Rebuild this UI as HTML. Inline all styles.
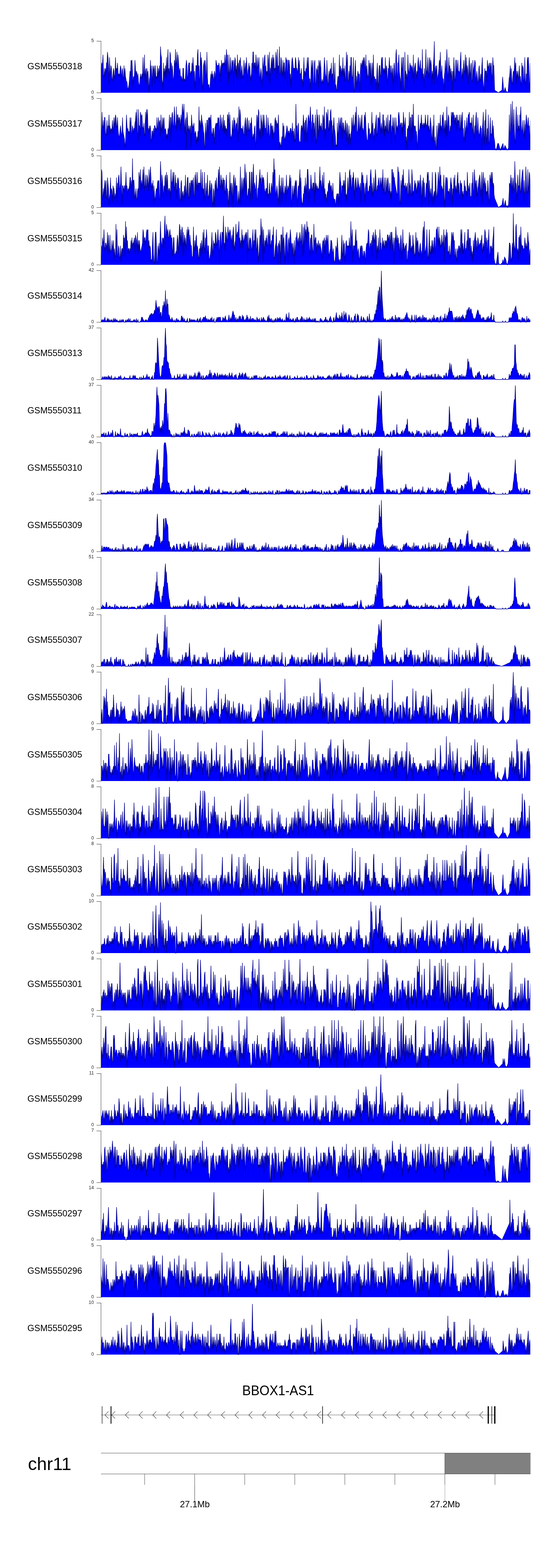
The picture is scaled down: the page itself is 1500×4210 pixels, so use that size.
<!DOCTYPE html><html><head><meta charset="utf-8"><style>
*{margin:0;padding:0}
html,body{width:1500px;height:4210px;background:#fff;overflow:hidden}
svg{display:block}
text{font-family:"Liberation Sans",Arial,sans-serif;fill:#000}
.lb{font-size:23.8px}
.tk{font-size:12.5px;text-anchor:end;fill:#222}
.gn{font-size:36px;text-anchor:middle}
.chr{font-size:48px}
.mb{font-size:24px;text-anchor:middle}
.ax{stroke:#333;stroke-width:1;fill:none}
.pf{fill:#0000ff;stroke:none}
.pl{fill:none;stroke:#00008b;stroke-width:1.3;stroke-linejoin:miter}
</style></head><body><svg width="1500" height="4210" viewBox="0 0 1500 4210"><rect width="1500" height="4210" fill="#fff"/><defs><clipPath id="cs"><rect x="272" y="0" width="1150.6" height="4210"/></clipPath><path id="p0" d="M271,249L271,183.3 272.3,168.7 273.7,176 275,168.7 276.4,146.8 277.7,197.9 279,212.5 280.4,183.3 281.7,205.2 283.1,183.3 284.4,197.9 285.8,168.7 287.1,168.7 288.4,139.5 289.8,154.1 291.1,176 292.5,227.1 293.8,154.1 295.1,183.3 296.5,205.2 297.8,176 299.2,183.3 300.5,219.8 301.8,212.5 303.2,197.9 304.5,183.3 305.9,190.6 307.2,212.5 308.6,197.9 309.9,154.1 311.2,190.6 312.6,183.3 313.9,190.6 315.3,168.7 316.6,190.6 317.9,205.2 319.3,197.9 320.6,205.2 322,190.6 323.3,176 324.6,183.3 326,219.8 327.3,190.6 328.7,183.3 330,205.2 331.3,219.8 332.7,176 334,212.5 335.4,183.3 336.7,205.2 338.1,212.5 339.4,219.8 340.7,219.8 342.1,234.4 343.4,241.7 344.8,234.4 346.1,227.1 347.4,212.5 348.8,190.6 350.1,205.2 351.5,161.4 352.8,168.7 354.1,161.4 355.5,190.6 356.8,234.4 358.2,205.2 359.5,212.5 360.9,197.9 362.2,161.4 363.5,183.3 364.9,205.2 366.2,190.6 367.6,197.9 368.9,212.5 370.2,197.9 371.6,219.8 372.9,227.1 374.3,234.4 375.6,212.5 376.9,197.9 378.3,212.5 379.6,205.2 381,197.9 382.3,212.5 383.7,154.1 385,205.2 386.3,197.9 387.7,146.8 389,219.8 390.4,190.6 391.7,183.3 393,227.1 394.4,183.3 395.7,205.2 397.1,190.6 398.4,212.5 399.7,249 401.1,212.5 402.4,205.2 403.8,161.4 405.1,205.2 406.5,176 407.8,234.4 409.1,197.9 410.5,176 411.8,183.3 413.2,197.9 414.5,176 415.8,227.1 417.2,176 418.5,212.5 419.9,205.2 421.2,212.5 422.5,176 423.9,219.8 425.2,183.3 426.6,205.2 427.9,176 429.2,227.1 430.6,124.9 431.9,146.8 433.3,154.1 434.6,212.5 436,219.8 437.3,241.7 438.6,168.7 440,212.5 441.3,183.3 442.7,205.2 444,176 445.3,212.5 446.7,154.1 448,205.2 449.4,161.4 450.7,132.2 452,197.9 453.4,183.3 454.7,219.8 456.1,139.5 457.4,146.8 458.8,190.6 460.1,168.7 461.4,205.2 462.8,176 464.1,212.5 465.5,212.5 466.8,197.9 468.1,161.4 469.5,190.6 470.8,132.2 472.2,176 473.5,168.7 474.8,139.5 476.2,212.5 477.5,146.8 478.9,161.4 480.2,183.3 481.6,197.9 482.9,183.3 484.2,205.2 485.6,205.2 486.9,205.2 488.3,212.5 489.6,219.8 490.9,183.3 492.3,183.3 493.6,212.5 495,212.5 496.3,219.8 497.6,205.2 499,176 500.3,161.4 501.7,176 503,212.5 504.4,205.2 505.7,176 507,168.7 508.4,168.7 509.7,197.9 511.1,197.9 512.4,190.6 513.7,205.2 515.1,168.7 516.4,190.6 517.8,154.1 519.1,176 520.4,205.2 521.8,190.6 523.1,241.7 524.5,205.2 525.8,176 527.1,176 528.5,190.6 529.8,146.8 531.2,132.2 532.5,190.6 533.9,176 535.2,227.1 536.5,205.2 537.9,139.5 539.2,176 540.6,154.1 541.9,183.3 543.2,227.1 544.6,241.7 545.9,176 547.3,168.7 548.6,161.4 549.9,197.9 551.3,161.4 552.6,212.5 554,197.9 555.3,139.5 556.7,205.2 558,234.4 559.3,227.1 560.7,227.1 562,241.7 563.4,234.4 564.7,212.5 566,197.9 567.4,212.5 568.7,190.6 570.1,212.5 571.4,197.9 572.7,212.5 574.1,212.5 575.4,190.6 576.8,197.9 578.1,234.4 579.5,161.4 580.8,168.7 582.1,176 583.5,176 584.8,176 586.2,176 587.5,168.7 588.8,183.3 590.2,219.8 591.5,176 592.9,205.2 594.2,161.4 595.5,183.3 596.9,168.7 598.2,176 599.6,168.7 600.9,168.7 602.3,176 603.6,146.8 604.9,161.4 606.3,197.9 607.6,132.2 609,154.1 610.3,146.8 611.6,176 613,227.1 614.3,146.8 615.7,212.5 617,190.6 618.3,154.1 619.7,183.3 621,205.2 622.4,161.4 623.7,176 625,161.4 626.4,227.1 627.7,161.4 629.1,197.9 630.4,154.1 631.8,161.4 633.1,205.2 634.4,176 635.8,212.5 637.1,146.8 638.5,183.3 639.8,168.7 641.1,212.5 642.5,161.4 643.8,168.7 645.2,154.1 646.5,212.5 647.8,190.6 649.2,176 650.5,197.9 651.9,212.5 653.2,197.9 654.6,161.4 655.9,183.3 657.2,197.9 658.6,168.7 659.9,197.9 661.3,154.1 662.6,176 663.9,219.8 665.3,190.6 666.6,183.3 668,168.7 669.3,197.9 670.6,176 672,219.8 673.3,205.2 674.7,197.9 676,168.7 677.4,183.3 678.7,139.5 680,139.5 681.4,190.6 682.7,168.7 684.1,168.7 685.4,197.9 686.7,146.8 688.1,168.7 689.4,197.9 690.8,154.1 692.1,183.3 693.4,176 694.8,154.1 696.1,190.6 697.5,219.8 698.8,197.9 700.2,183.3 701.5,197.9 702.8,234.4 704.2,197.9 705.5,154.1 706.9,190.6 708.2,176 709.5,154.1 710.9,146.8 712.2,197.9 713.6,176 714.9,205.2 716.2,190.6 717.6,205.2 718.9,146.8 720.3,161.4 721.6,219.8 722.9,139.5 724.3,227.1 725.6,183.3 727,183.3 728.3,161.4 729.7,154.1 731,197.9 732.3,146.8 733.7,176 735,154.1 736.4,190.6 737.7,183.3 739,183.3 740.4,139.5 741.7,154.1 743.1,212.5 744.4,132.2 745.7,197.9 747.1,176 748.4,183.3 749.8,124.9 751.1,197.9 752.5,197.9 753.8,154.1 755.1,161.4 756.5,190.6 757.8,205.2 759.2,161.4 760.5,205.2 761.8,168.7 763.2,168.7 764.5,212.5 765.9,183.3 767.2,154.1 768.5,161.4 769.9,161.4 771.2,227.1 772.6,161.4 773.9,161.4 775.3,190.6 776.6,161.4 777.9,212.5 779.3,197.9 780.6,234.4 782,183.3 783.3,161.4 784.6,154.1 786,168.7 787.3,183.3 788.7,183.3 790,183.3 791.3,190.6 792.7,154.1 794,161.4 795.4,183.3 796.7,183.3 798.1,190.6 799.4,197.9 800.7,154.1 802.1,190.6 803.4,161.4 804.8,205.2 806.1,197.9 807.4,197.9 808.8,183.3 810.1,219.8 811.5,212.5 812.8,234.4 814.1,197.9 815.5,154.1 816.8,205.2 818.2,190.6 819.5,205.2 820.8,183.3 822.2,190.6 823.5,176 824.9,154.1 826.2,205.2 827.6,154.1 828.9,205.2 830.2,212.5 831.6,212.5 832.9,241.7 834.3,197.9 835.6,161.4 836.9,197.9 838.3,176 839.6,161.4 841,227.1 842.3,227.1 843.6,168.7 845,161.4 846.3,227.1 847.7,227.1 849,183.3 850.4,190.6 851.7,190.6 853,176 854.4,234.4 855.7,161.4 857.1,168.7 858.4,197.9 859.7,161.4 861.1,183.3 862.4,227.1 863.8,219.8 865.1,212.5 866.4,227.1 867.8,212.5 869.1,190.6 870.5,154.1 871.8,176 873.2,197.9 874.5,205.2 875.8,219.8 877.2,161.4 878.5,197.9 879.9,234.4 881.2,219.8 882.5,190.6 883.9,212.5 885.2,190.6 886.6,183.3 887.9,205.2 889.2,168.7 890.6,219.8 891.9,197.9 893.3,205.2 894.6,154.1 895.9,219.8 897.3,219.8 898.6,168.7 900,234.4 901.3,227.1 902.7,241.7 904,241.7 905.3,219.8 906.7,205.2 908,205.2 909.4,227.1 910.7,146.8 912,212.5 913.4,176 914.7,183.3 916.1,205.2 917.4,183.3 918.7,205.2 920.1,154.1 921.4,205.2 922.8,183.3 924.1,219.8 925.5,176 926.8,212.5 928.1,219.8 929.5,139.5 930.8,190.6 932.2,146.8 933.5,219.8 934.8,219.8 936.2,190.6 937.5,219.8 938.9,176 940.2,205.2 941.5,154.1 942.9,154.1 944.2,205.2 945.6,212.5 946.9,197.9 948.3,154.1 949.6,249 950.9,241.7 952.3,190.6 953.6,161.4 955,205.2 956.3,205.2 957.6,234.4 959,205.2 960.3,190.6 961.7,197.9 963,205.2 964.3,197.9 965.7,249 967,190.6 968.4,168.7 969.7,176 971.1,176 972.4,161.4 973.7,183.3 975.1,154.1 976.4,176 977.8,154.1 979.1,176 980.4,197.9 981.8,146.8 983.1,212.5 984.5,176 985.8,197.9 987.1,205.2 988.5,205.2 989.8,161.4 991.2,190.6 992.5,168.7 993.8,227.1 995.2,168.7 996.5,190.6 997.9,234.4 999.2,168.7 1000.6,212.5 1001.9,146.8 1003.2,212.5 1004.6,205.2 1005.9,212.5 1007.3,212.5 1008.6,212.5 1009.9,241.7 1011.3,190.6 1012.6,168.7 1014,219.8 1015.3,241.7 1016.6,190.6 1018,176 1019.3,176 1020.7,205.2 1022,205.2 1023.4,161.4 1024.7,154.1 1026,154.1 1027.4,190.6 1028.7,183.3 1030.1,197.9 1031.4,183.3 1032.7,197.9 1034.1,154.1 1035.4,212.5 1036.8,176 1038.1,183.3 1039.4,227.1 1040.8,205.2 1042.1,183.3 1043.5,183.3 1044.8,154.1 1046.2,183.3 1047.5,176 1048.8,197.9 1050.2,197.9 1051.5,176 1052.9,219.8 1054.2,183.3 1055.5,241.7 1056.9,176 1058.2,168.7 1059.6,197.9 1060.9,227.1 1062.2,146.8 1063.6,132.2 1064.9,190.6 1066.3,227.1 1067.6,168.7 1069,168.7 1070.3,146.8 1071.6,190.6 1073,205.2 1074.3,212.5 1075.7,241.7 1077,154.1 1078.3,183.3 1079.7,190.6 1081,154.1 1082.4,154.1 1083.7,241.7 1085,249 1086.4,139.5 1087.7,212.5 1089.1,190.6 1090.4,212.5 1091.7,197.9 1093.1,234.4 1094.4,146.8 1095.8,183.3 1097.1,197.9 1098.5,190.6 1099.8,168.7 1101.1,176 1102.5,176 1103.8,190.6 1105.2,176 1106.5,183.3 1107.8,212.5 1109.2,146.8 1110.5,227.1 1111.9,183.3 1113.2,176 1114.5,168.7 1115.9,190.6 1117.2,212.5 1118.6,190.6 1119.9,205.2 1121.3,168.7 1122.6,154.1 1123.9,176 1125.3,190.6 1126.6,176 1128,161.4 1129.3,190.6 1130.6,183.3 1132,219.8 1133.3,132.2 1134.7,212.5 1136,197.9 1137.3,234.4 1138.7,183.3 1140,205.2 1141.4,205.2 1142.7,132.2 1144.1,190.6 1145.4,197.9 1146.7,183.3 1148.1,154.1 1149.4,190.6 1150.8,212.5 1152.1,161.4 1153.4,154.1 1154.8,190.6 1156.1,161.4 1157.5,176 1158.8,227.1 1160.1,190.6 1161.5,212.5 1162.8,176 1164.2,154.1 1165.5,111 1166.9,227.1 1168.2,183.3 1169.5,176 1170.9,205.2 1172.2,176 1173.6,227.1 1174.9,205.2 1176.2,197.9 1177.6,183.3 1178.9,161.4 1180.3,183.3 1181.6,139.5 1182.9,190.6 1184.3,205.2 1185.6,176 1187,205.2 1188.3,212.5 1189.6,212.5 1191,249 1192.3,205.2 1193.7,190.6 1195,161.4 1196.4,190.6 1197.7,183.3 1199,132.2 1200.4,168.7 1201.7,219.8 1203.1,190.6 1204.4,154.1 1205.7,190.6 1207.1,176 1208.4,212.5 1209.8,183.3 1211.1,219.8 1212.4,190.6 1213.8,249 1215.1,190.6 1216.5,212.5 1217.8,154.1 1219.2,183.3 1220.5,219.8 1221.8,212.5 1223.2,161.4 1224.5,161.4 1225.9,205.2 1227.2,183.3 1228.5,161.4 1229.9,190.6 1231.2,190.6 1232.6,197.9 1233.9,190.6 1235.2,161.4 1236.6,139.5 1237.9,205.2 1239.3,205.2 1240.6,183.3 1242,219.8 1243.3,183.3 1244.6,161.4 1246,190.6 1247.3,197.9 1248.7,146.8 1250,212.5 1251.3,154.1 1252.7,205.2 1254,176 1255.4,190.6 1256.7,227.1 1258,176 1259.4,154.1 1260.7,190.6 1262.1,212.5 1263.4,176 1264.8,168.7 1266.1,219.8 1267.4,219.8 1268.8,161.4 1270.1,205.2 1271.5,183.3 1272.8,176 1274.1,161.4 1275.5,168.7 1276.8,227.1 1278.2,205.2 1279.5,190.6 1280.8,205.2 1282.2,219.8 1283.5,219.8 1284.9,183.3 1286.2,176 1287.5,219.8 1288.9,212.5 1290.2,197.9 1291.6,219.8 1292.9,176 1294.3,154.1 1295.6,212.5 1296.9,227.1 1298.3,249 1299.6,212.5 1301,183.3 1302.3,197.9 1303.6,190.6 1305,190.6 1306.3,219.8 1307.7,161.4 1309,176 1310.3,183.3 1311.7,176 1313,168.7 1314.4,205.2 1315.7,168.7 1317.1,190.6 1318.4,168.7 1319.7,219.8 1321.1,197.9 1322.4,154.1 1323.8,176 1325.1,176 1325.5,186.9 1327.3,242.1 1337.4,249 1347,242.1 1348.7,206.2 1352,249 1355.4,235.2 1357.8,243.5 1361,249 1363.4,244.9 1366.5,207.6 1366.7,212.5 1368,197.9 1369.4,176 1370.7,219.8 1372,183.3 1373.4,219.8 1374.7,227.1 1376.1,205.2 1377.4,190.6 1378.7,197.9 1380.1,183.3 1381.4,154.1 1382.8,197.9 1384.1,168.7 1385.4,227.1 1386.8,190.6 1388.1,212.5 1389.5,190.6 1390.8,212.5 1392.2,205.2 1393.5,176 1394.8,205.2 1396.2,205.2 1397.5,219.8 1398.9,234.4 1400.2,168.7 1401.5,197.9 1402.9,176 1404.2,183.3 1405.6,227.1 1406.9,212.5 1408.2,154.1 1409.6,212.5 1410.9,234.4 1412.3,197.9 1413.6,205.2 1415,161.4 1416.3,154.1 1417.6,154.1 1419,176 1420.3,241.7 1421.7,219.8 1423,168.7L1423,249"/><path id="p1" d="M271,403L271,300.8 272.3,395.7 273.7,300.8 275,337.3 276.4,344.6 277.7,322.7 279,366.5 280.4,315.4 281.7,315.4 283.1,359.2 284.4,366.5 285.8,344.6 287.1,322.7 288.4,366.5 289.8,337.3 291.1,344.6 292.5,308.1 293.8,359.2 295.1,337.3 296.5,359.2 297.8,344.6 299.2,351.9 300.5,344.6 301.8,322.7 303.2,359.2 304.5,337.3 305.9,315.4 307.2,344.6 308.6,322.7 309.9,308.1 311.2,315.4 312.6,337.3 313.9,344.6 315.3,315.4 316.6,344.6 317.9,359.2 319.3,366.5 320.6,366.5 322,351.9 323.3,337.3 324.6,351.9 326,359.2 327.3,366.5 328.7,315.4 330,351.9 331.3,359.2 332.7,366.5 334,373.8 335.4,395.7 336.7,381.1 338.1,351.9 339.4,308.1 340.7,337.3 342.1,351.9 343.4,344.6 344.8,359.2 346.1,351.9 347.4,373.8 348.8,315.4 350.1,351.9 351.5,315.4 352.8,359.2 354.1,359.2 355.5,337.3 356.8,344.6 358.2,359.2 359.5,344.6 360.9,344.6 362.2,330 363.5,322.7 364.9,300.8 366.2,351.9 367.6,293.5 368.9,351.9 370.2,381.1 371.6,293.5 372.9,337.3 374.3,337.3 375.6,366.5 376.9,300.8 378.3,308.1 379.6,315.4 381,308.1 382.3,337.3 383.7,344.6 385,344.6 386.3,330 387.7,366.5 389,359.2 390.4,300.8 391.7,351.9 393,293.5 394.4,322.7 395.7,293.5 397.1,344.6 398.4,344.6 399.7,359.2 401.1,337.3 402.4,351.9 403.8,337.3 405.1,381.1 406.5,373.8 407.8,351.9 409.1,351.9 410.5,373.8 411.8,344.6 413.2,366.5 414.5,337.3 415.8,337.3 417.2,344.6 418.5,344.6 419.9,351.9 421.2,315.4 422.5,344.6 423.9,344.6 425.2,315.4 426.6,330 427.9,330 429.2,322.7 430.6,366.5 431.9,308.1 433.3,351.9 434.6,344.6 436,315.4 437.3,359.2 438.6,322.7 440,315.4 441.3,344.6 442.7,351.9 444,344.6 445.3,351.9 446.7,373.8 448,359.2 449.4,373.8 450.7,344.6 452,359.2 453.4,337.3 454.7,308.1 456.1,381.1 457.4,315.4 458.8,315.4 460.1,366.5 461.4,308.1 462.8,300.8 464.1,330 465.5,351.9 466.8,315.4 468.1,286.2 469.5,322.7 470.8,337.3 472.2,344.6 473.5,286.2 474.8,351.9 476.2,308.1 477.5,308.1 478.9,337.3 480.2,315.4 481.6,315.4 482.9,322.7 484.2,351.9 485.6,308.1 486.9,337.3 488.3,308.1 489.6,278.9 490.9,300.8 492.3,308.1 493.6,278.9 495,330 496.3,359.2 497.6,322.7 499,315.4 500.3,403 501.7,300.8 503,315.4 504.4,344.6 505.7,351.9 507,337.3 508.4,359.2 509.7,344.6 511.1,337.3 512.4,395.7 513.7,308.1 515.1,330 516.4,337.3 517.8,344.6 519.1,337.3 520.4,330 521.8,359.2 523.1,359.2 524.5,351.9 525.8,359.2 527.1,388.4 528.5,366.5 529.8,381.1 531.2,351.9 532.5,381.1 533.9,286.2 535.2,359.2 536.5,322.7 537.9,330 539.2,351.9 540.6,308.1 541.9,322.7 543.2,330 544.6,337.3 545.9,351.9 547.3,359.2 548.6,395.7 549.9,395.7 551.3,330 552.6,373.8 554,351.9 555.3,322.7 556.7,322.7 558,373.8 559.3,315.4 560.7,322.7 562,315.4 563.4,315.4 564.7,337.3 566,308.1 567.4,351.9 568.7,359.2 570.1,366.5 571.4,344.6 572.7,344.6 574.1,359.2 575.4,388.4 576.8,344.6 578.1,337.3 579.5,330 580.8,337.3 582.1,330 583.5,337.3 584.8,315.4 586.2,322.7 587.5,315.4 588.8,381.1 590.2,330 591.5,308.1 592.9,337.3 594.2,344.6 595.5,315.4 596.9,344.6 598.2,351.9 599.6,308.1 600.9,359.2 602.3,322.7 603.6,359.2 604.9,337.3 606.3,351.9 607.6,344.6 609,366.5 610.3,308.1 611.6,308.1 613,337.3 614.3,300.8 615.7,373.8 617,308.1 618.3,359.2 619.7,373.8 621,366.5 622.4,359.2 623.7,322.7 625,366.5 626.4,337.3 627.7,315.4 629.1,330 630.4,322.7 631.8,366.5 633.1,337.3 634.4,330 635.8,344.6 637.1,315.4 638.5,381.1 639.8,337.3 641.1,286.2 642.5,359.2 643.8,293.5 645.2,308.1 646.5,351.9 647.8,344.6 649.2,344.6 650.5,359.2 651.9,337.3 653.2,359.2 654.6,366.5 655.9,344.6 657.2,330 658.6,315.4 659.9,337.3 661.3,366.5 662.6,322.7 663.9,315.4 665.3,351.9 666.6,351.9 668,322.7 669.3,351.9 670.6,351.9 672,330 673.3,337.3 674.7,315.4 676,344.6 677.4,366.5 678.7,373.8 680,359.2 681.4,373.8 682.7,344.6 684.1,337.3 685.4,395.7 686.7,381.1 688.1,337.3 689.4,308.1 690.8,315.4 692.1,366.5 693.4,293.5 694.8,300.8 696.1,373.8 697.5,344.6 698.8,373.8 700.2,308.1 701.5,322.7 702.8,330 704.2,366.5 705.5,308.1 706.9,366.5 708.2,308.1 709.5,330 710.9,344.6 712.2,344.6 713.6,351.9 714.9,308.1 716.2,359.2 717.6,366.5 718.9,315.4 720.3,337.3 721.6,337.3 722.9,366.5 724.3,366.5 725.6,337.3 727,330 728.3,344.6 729.7,337.3 731,373.8 732.3,337.3 733.7,359.2 735,359.2 736.4,351.9 737.7,322.7 739,315.4 740.4,337.3 741.7,322.7 743.1,344.6 744.4,330 745.7,344.6 747.1,308.1 748.4,359.2 749.8,403 751.1,381.1 752.5,388.4 753.8,395.7 755.1,381.1 756.5,366.5 757.8,373.8 759.2,330 760.5,351.9 761.8,337.3 763.2,373.8 764.5,373.8 765.9,366.5 767.2,359.2 768.5,351.9 769.9,337.3 771.2,344.6 772.6,366.5 773.9,351.9 775.3,351.9 776.6,366.5 777.9,351.9 779.3,344.6 780.6,344.6 782,351.9 783.3,373.8 784.6,330 786,359.2 787.3,351.9 788.7,381.1 790,344.6 791.3,381.1 792.7,373.8 794,278.9 795.4,344.6 796.7,337.3 798.1,388.4 799.4,337.3 800.7,330 802.1,373.8 803.4,381.1 804.8,381.1 806.1,381.1 807.4,351.9 808.8,337.3 810.1,337.3 811.5,351.9 812.8,337.3 814.1,308.1 815.5,330 816.8,330 818.2,381.1 819.5,322.7 820.8,330 822.2,315.4 823.5,381.1 824.9,344.6 826.2,322.7 827.6,308.1 828.9,315.4 830.2,337.3 831.6,315.4 832.9,286.2 834.3,322.7 835.6,330 836.9,381.1 838.3,308.1 839.6,308.1 841,337.3 842.3,330 843.6,366.5 845,337.3 846.3,308.1 847.7,388.4 849,373.8 850.4,293.5 851.7,344.6 853,308.1 854.4,366.5 855.7,344.6 857.1,308.1 858.4,344.6 859.7,337.3 861.1,351.9 862.4,330 863.8,351.9 865.1,351.9 866.4,308.1 867.8,315.4 869.1,351.9 870.5,286.2 871.8,373.8 873.2,344.6 874.5,366.5 875.8,300.8 877.2,308.1 878.5,337.3 879.9,293.5 881.2,344.6 882.5,351.9 883.9,322.7 885.2,351.9 886.6,300.8 887.9,293.5 889.2,344.6 890.6,322.7 891.9,395.7 893.3,337.3 894.6,337.3 895.9,315.4 897.3,344.6 898.6,351.9 900,366.5 901.3,395.7 902.7,388.4 904,395.7 905.3,330 906.7,373.8 908,351.9 909.4,315.4 910.7,337.3 912,344.6 913.4,322.7 914.7,315.4 916.1,373.8 917.4,315.4 918.7,373.8 920.1,330 921.4,330 922.8,344.6 924.1,359.2 925.5,344.6 926.8,322.7 928.1,344.6 929.5,381.1 930.8,330 932.2,337.3 933.5,359.2 934.8,388.4 936.2,337.3 937.5,366.5 938.9,359.2 940.2,388.4 941.5,359.2 942.9,351.9 944.2,315.4 945.6,337.3 946.9,351.9 948.3,308.1 949.6,351.9 950.9,337.3 952.3,330 953.6,300.8 955,337.3 956.3,286.2 957.6,351.9 959,359.2 960.3,344.6 961.7,308.1 963,337.3 964.3,366.5 965.7,315.4 967,351.9 968.4,337.3 969.7,322.7 971.1,308.1 972.4,344.6 973.7,344.6 975.1,359.2 976.4,344.6 977.8,308.1 979.1,330 980.4,300.8 981.8,337.3 983.1,359.2 984.5,373.8 985.8,381.1 987.1,373.8 988.5,330 989.8,359.2 991.2,344.6 992.5,373.8 993.8,359.2 995.2,359.2 996.5,351.9 997.9,300.8 999.2,359.2 1000.6,330 1001.9,359.2 1003.2,381.1 1004.6,344.6 1005.9,351.9 1007.3,337.3 1008.6,322.7 1009.9,308.1 1011.3,366.5 1012.6,359.2 1014,315.4 1015.3,322.7 1016.6,315.4 1018,344.6 1019.3,300.8 1020.7,337.3 1022,359.2 1023.4,330 1024.7,344.6 1026,359.2 1027.4,308.1 1028.7,308.1 1030.1,373.8 1031.4,322.7 1032.7,366.5 1034.1,337.3 1035.4,351.9 1036.8,315.4 1038.1,359.2 1039.4,344.6 1040.8,308.1 1042.1,359.2 1043.5,351.9 1044.8,322.7 1046.2,351.9 1047.5,308.1 1048.8,308.1 1050.2,388.4 1051.5,337.3 1052.9,351.9 1054.2,315.4 1055.5,337.3 1056.9,359.2 1058.2,315.4 1059.6,359.2 1060.9,381.1 1062.2,315.4 1063.6,337.3 1064.9,351.9 1066.3,337.3 1067.6,359.2 1069,308.1 1070.3,300.8 1071.6,315.4 1073,337.3 1074.3,337.3 1075.7,330 1077,330 1078.3,359.2 1079.7,330 1081,366.5 1082.4,300.8 1083.7,322.7 1085,337.3 1086.4,337.3 1087.7,315.4 1089.1,381.1 1090.4,366.5 1091.7,403 1093.1,344.6 1094.4,351.9 1095.8,337.3 1097.1,351.9 1098.5,300.8 1099.8,381.1 1101.1,315.4 1102.5,315.4 1103.8,381.1 1105.2,308.1 1106.5,308.1 1107.8,373.8 1109.2,278.9 1110.5,351.9 1111.9,337.3 1113.2,344.6 1114.5,337.3 1115.9,359.2 1117.2,351.9 1118.6,366.5 1119.9,403 1121.3,373.8 1122.6,308.1 1123.9,351.9 1125.3,351.9 1126.6,344.6 1128,330 1129.3,344.6 1130.6,308.1 1132,330 1133.3,337.3 1134.7,337.3 1136,330 1137.3,344.6 1138.7,330 1140,344.6 1141.4,308.1 1142.7,330 1144.1,337.3 1145.4,337.3 1146.7,330 1148.1,308.1 1149.4,351.9 1150.8,337.3 1152.1,359.2 1153.4,344.6 1154.8,315.4 1156.1,330 1157.5,344.6 1158.8,381.1 1160.1,366.5 1161.5,337.3 1162.8,381.1 1164.2,308.1 1165.5,381.1 1166.9,381.1 1168.2,366.5 1169.5,395.7 1170.9,395.7 1172.2,337.3 1173.6,403 1174.9,359.2 1176.2,330 1177.6,366.5 1178.9,330 1180.3,359.2 1181.6,308.1 1182.9,351.9 1184.3,337.3 1185.6,366.5 1187,308.1 1188.3,330 1189.6,300.8 1191,359.2 1192.3,344.6 1193.7,322.7 1195,373.8 1196.4,322.7 1197.7,366.5 1199,286.2 1200.4,366.5 1201.7,330 1203.1,308.1 1204.4,315.4 1205.7,351.9 1207.1,359.2 1208.4,337.3 1209.8,351.9 1211.1,300.8 1212.4,330 1213.8,300.8 1215.1,308.1 1216.5,300.8 1217.8,322.7 1219.2,308.1 1220.5,337.3 1221.8,315.4 1223.2,322.7 1224.5,308.1 1225.9,351.9 1227.2,308.1 1228.5,330 1229.9,322.7 1231.2,337.3 1232.6,308.1 1233.9,351.9 1235.2,344.6 1236.6,308.1 1237.9,359.2 1239.3,315.4 1240.6,300.8 1242,351.9 1243.3,344.6 1244.6,381.1 1246,366.5 1247.3,322.7 1248.7,381.1 1250,344.6 1251.3,337.3 1252.7,315.4 1254,366.5 1255.4,330 1256.7,308.1 1258,308.1 1259.4,300.8 1260.7,344.6 1262.1,330 1263.4,330 1264.8,337.3 1266.1,315.4 1267.4,359.2 1268.8,344.6 1270.1,308.1 1271.5,373.8 1272.8,359.2 1274.1,337.3 1275.5,344.6 1276.8,315.4 1278.2,300.8 1279.5,351.9 1280.8,359.2 1282.2,315.4 1283.5,344.6 1284.9,359.2 1286.2,366.5 1287.5,351.9 1288.9,337.3 1290.2,344.6 1291.6,344.6 1292.9,403 1294.3,344.6 1295.6,330 1296.9,300.8 1298.3,359.2 1299.6,388.4 1301,322.7 1302.3,337.3 1303.6,293.5 1305,359.2 1306.3,388.4 1307.7,344.6 1309,359.2 1310.3,308.1 1311.7,381.1 1313,388.4 1314.4,344.6 1315.7,315.4 1317.1,366.5 1318.4,359.2 1319.7,359.2 1321.1,322.7 1322.4,366.5 1323.8,337.3 1325.1,366.5 1325.5,368.5 1327.3,379.5 1328.5,397.5 1331.4,403 1335.7,385.1 1337.6,385.1 1342.4,403 1349.7,385.1 1351.6,403 1355,390.6 1361,403 1364.6,397.5 1366.5,325.7 1366.7,308.1 1368,359.2 1369.4,359.2 1370.7,278.9 1372,337.3 1373.4,337.3 1374.7,271.6 1376.1,344.6 1377.4,351.9 1378.7,293.5 1380.1,337.3 1381.4,373.8 1382.8,388.4 1384.1,315.4 1385.4,286.2 1386.8,344.6 1388.1,359.2 1389.5,308.1 1390.8,351.9 1392.2,337.3 1393.5,366.5 1394.8,308.1 1396.2,315.4 1397.5,286.2 1398.9,337.3 1400.2,351.9 1401.5,351.9 1402.9,322.7 1404.2,359.2 1405.6,366.5 1406.9,322.7 1408.2,373.8 1409.6,337.3 1410.9,330 1412.3,308.1 1413.6,322.7 1415,351.9 1416.3,330 1417.6,315.4 1419,344.6 1420.3,337.3 1421.7,395.7 1423,322.7L1423,403"/><path id="p2" d="M271,557L271,498.6 272.3,454.8 273.7,462.1 275,527.8 276.4,527.8 277.7,505.9 279,535.1 280.4,484 281.7,520.5 283.1,491.3 284.4,484 285.8,535.1 287.1,527.8 288.4,476.7 289.8,491.3 291.1,505.9 292.5,549.7 293.8,527.8 295.1,520.5 296.5,476.7 297.8,520.5 299.2,505.9 300.5,513.2 301.8,542.4 303.2,498.6 304.5,505.9 305.9,505.9 307.2,520.5 308.6,535.1 309.9,520.5 311.2,520.5 312.6,476.7 313.9,542.4 315.3,491.3 316.6,498.6 317.9,476.7 319.3,469.4 320.6,505.9 322,505.9 323.3,491.3 324.6,447.5 326,491.3 327.3,549.7 328.7,498.6 330,498.6 331.3,505.9 332.7,513.2 334,498.6 335.4,498.6 336.7,498.6 338.1,462.1 339.4,505.9 340.7,498.6 342.1,527.8 343.4,505.9 344.8,513.2 346.1,505.9 347.4,498.6 348.8,476.7 350.1,476.7 351.5,505.9 352.8,484 354.1,535.1 355.5,425.6 356.8,498.6 358.2,484 359.5,484 360.9,513.2 362.2,535.1 363.5,520.5 364.9,505.9 366.2,535.1 367.6,535.1 368.9,513.2 370.2,505.9 371.6,520.5 372.9,462.1 374.3,476.7 375.6,484 376.9,454.8 378.3,513.2 379.6,484 381,505.9 382.3,484 383.7,454.8 385,505.9 386.3,447.5 387.7,513.2 389,498.6 390.4,469.4 391.7,498.6 393,505.9 394.4,469.4 395.7,476.7 397.1,491.3 398.4,513.2 399.7,454.8 401.1,505.9 402.4,469.4 403.8,447.5 405.1,476.7 406.5,513.2 407.8,491.3 409.1,513.2 410.5,484 411.8,549.7 413.2,498.6 414.5,520.5 415.8,542.4 417.2,527.8 418.5,513.2 419.9,505.9 421.2,513.2 422.5,491.3 423.9,484 425.2,491.3 426.6,484 427.9,535.1 429.2,535.1 430.6,432.9 431.9,462.1 433.3,527.8 434.6,469.4 436,484 437.3,505.9 438.6,535.1 440,498.6 441.3,513.2 442.7,476.7 444,469.4 445.3,527.8 446.7,462.1 448,505.9 449.4,469.4 450.7,513.2 452,513.2 453.4,505.9 454.7,505.9 456.1,513.2 457.4,535.1 458.8,454.8 460.1,491.3 461.4,491.3 462.8,484 464.1,462.1 465.5,505.9 466.8,462.1 468.1,513.2 469.5,498.6 470.8,469.4 472.2,498.6 473.5,491.3 474.8,535.1 476.2,484 477.5,476.7 478.9,484 480.2,505.9 481.6,505.9 482.9,542.4 484.2,535.1 485.6,491.3 486.9,484 488.3,542.4 489.6,520.5 490.9,513.2 492.3,527.8 493.6,527.8 495,498.6 496.3,535.1 497.6,469.4 499,520.5 500.3,520.5 501.7,498.6 503,476.7 504.4,476.7 505.7,527.8 507,535.1 508.4,491.3 509.7,491.3 511.1,527.8 512.4,484 513.7,498.6 515.1,484 516.4,484 517.8,513.2 519.1,476.7 520.4,527.8 521.8,527.8 523.1,469.4 524.5,513.2 525.8,462.1 527.1,491.3 528.5,513.2 529.8,462.1 531.2,513.2 532.5,491.3 533.9,491.3 535.2,491.3 536.5,491.3 537.9,498.6 539.2,454.8 540.6,513.2 541.9,505.9 543.2,462.1 544.6,520.5 545.9,505.9 547.3,542.4 548.6,462.1 549.9,527.8 551.3,527.8 552.6,491.3 554,520.5 555.3,513.2 556.7,469.4 558,535.1 559.3,527.8 560.7,520.5 562,498.6 563.4,484 564.7,513.2 566,513.2 567.4,491.3 568.7,498.6 570.1,542.4 571.4,557 572.7,505.9 574.1,513.2 575.4,557 576.8,498.6 578.1,484 579.5,520.5 580.8,476.7 582.1,505.9 583.5,513.2 584.8,498.6 586.2,454.8 587.5,498.6 588.8,447.5 590.2,498.6 591.5,505.9 592.9,469.4 594.2,484 595.5,484 596.9,513.2 598.2,476.7 599.6,484 600.9,484 602.3,484 603.6,520.5 604.9,513.2 606.3,491.3 607.6,469.4 609,527.8 610.3,505.9 611.6,527.8 613,557 614.3,513.2 615.7,513.2 617,462.1 618.3,520.5 619.7,491.3 621,549.7 622.4,491.3 623.7,505.9 625,557 626.4,484 627.7,469.4 629.1,491.3 630.4,520.5 631.8,476.7 633.1,505.9 634.4,498.6 635.8,498.6 637.1,542.4 638.5,542.4 639.8,513.2 641.1,549.7 642.5,527.8 643.8,505.9 645.2,447.5 646.5,549.7 647.8,505.9 649.2,476.7 650.5,498.6 651.9,527.8 653.2,484 654.6,476.7 655.9,513.2 657.2,440.2 658.6,469.4 659.9,527.8 661.3,462.1 662.6,520.5 663.9,535.1 665.3,520.5 666.6,505.9 668,520.5 669.3,462.1 670.6,462.1 672,542.4 673.3,513.2 674.7,462.1 676,462.1 677.4,535.1 678.7,469.4 680,440.2 681.4,491.3 682.7,491.3 684.1,498.6 685.4,513.2 686.7,505.9 688.1,469.4 689.4,535.1 690.8,535.1 692.1,505.9 693.4,505.9 694.8,491.3 696.1,476.7 697.5,454.8 698.8,491.3 700.2,476.7 701.5,520.5 702.8,469.4 704.2,491.3 705.5,476.7 706.9,476.7 708.2,484 709.5,505.9 710.9,513.2 712.2,520.5 713.6,505.9 714.9,505.9 716.2,527.8 717.6,462.1 718.9,535.1 720.3,520.5 721.6,520.5 722.9,491.3 724.3,513.2 725.6,520.5 727,520.5 728.3,491.3 729.7,505.9 731,505.9 732.3,462.1 733.7,491.3 735,425.6 736.4,469.4 737.7,454.8 739,505.9 740.4,527.8 741.7,513.2 743.1,498.6 744.4,513.2 745.7,527.8 747.1,549.7 748.4,498.6 749.8,469.4 751.1,549.7 752.5,498.6 753.8,520.5 755.1,476.7 756.5,542.4 757.8,505.9 759.2,476.7 760.5,513.2 761.8,520.5 763.2,520.5 764.5,498.6 765.9,505.9 767.2,542.4 768.5,469.4 769.9,505.9 771.2,520.5 772.6,498.6 773.9,505.9 775.3,505.9 776.6,484 777.9,469.4 779.3,505.9 780.6,476.7 782,557 783.3,535.1 784.6,498.6 786,520.5 787.3,535.1 788.7,498.6 790,527.8 791.3,498.6 792.7,484 794,498.6 795.4,484 796.7,520.5 798.1,557 799.4,513.2 800.7,498.6 802.1,505.9 803.4,484 804.8,454.8 806.1,520.5 807.4,476.7 808.8,527.8 810.1,542.4 811.5,549.7 812.8,542.4 814.1,520.5 815.5,520.5 816.8,498.6 818.2,520.5 819.5,476.7 820.8,535.1 822.2,498.6 823.5,491.3 824.9,454.8 826.2,454.8 827.6,484 828.9,542.4 830.2,505.9 831.6,513.2 832.9,505.9 834.3,469.4 835.6,491.3 836.9,505.9 838.3,513.2 839.6,491.3 841,491.3 842.3,491.3 843.6,542.4 845,462.1 846.3,520.5 847.7,491.3 849,498.6 850.4,513.2 851.7,498.6 853,513.2 854.4,505.9 855.7,505.9 857.1,484 858.4,447.5 859.7,498.6 861.1,484 862.4,498.6 863.8,513.2 865.1,469.4 866.4,491.3 867.8,520.5 869.1,462.1 870.5,535.1 871.8,505.9 873.2,527.8 874.5,520.5 875.8,542.4 877.2,527.8 878.5,513.2 879.9,527.8 881.2,491.3 882.5,505.9 883.9,484 885.2,491.3 886.6,513.2 887.9,498.6 889.2,498.6 890.6,513.2 891.9,527.8 893.3,491.3 894.6,527.8 895.9,535.1 897.3,535.1 898.6,535.1 900,557 901.3,542.4 902.7,527.8 904,520.5 905.3,520.5 906.7,520.5 908,520.5 909.4,549.7 910.7,498.6 912,462.1 913.4,484 914.7,491.3 916.1,549.7 917.4,498.6 918.7,498.6 920.1,505.9 921.4,484 922.8,513.2 924.1,484 925.5,527.8 926.8,462.1 928.1,542.4 929.5,520.5 930.8,535.1 932.2,505.9 933.5,476.7 934.8,505.9 936.2,513.2 937.5,462.1 938.9,454.8 940.2,505.9 941.5,469.4 942.9,505.9 944.2,505.9 945.6,476.7 946.9,484 948.3,462.1 949.6,484 950.9,535.1 952.3,498.6 953.6,484 955,476.7 956.3,498.6 957.6,513.2 959,498.6 960.3,476.7 961.7,491.3 963,498.6 964.3,505.9 965.7,505.9 967,491.3 968.4,542.4 969.7,484 971.1,462.1 972.4,484 973.7,469.4 975.1,498.6 976.4,491.3 977.8,505.9 979.1,542.4 980.4,505.9 981.8,491.3 983.1,505.9 984.5,469.4 985.8,498.6 987.1,520.5 988.5,513.2 989.8,513.2 991.2,498.6 992.5,513.2 993.8,469.4 995.2,454.8 996.5,484 997.9,527.8 999.2,491.3 1000.6,527.8 1001.9,513.2 1003.2,476.7 1004.6,513.2 1005.9,513.2 1007.3,454.8 1008.6,476.7 1009.9,513.2 1011.3,513.2 1012.6,498.6 1014,498.6 1015.3,484 1016.6,476.7 1018,505.9 1019.3,498.6 1020.7,476.7 1022,491.3 1023.4,505.9 1024.7,476.7 1026,513.2 1027.4,454.8 1028.7,520.5 1030.1,505.9 1031.4,476.7 1032.7,513.2 1034.1,527.8 1035.4,476.7 1036.8,498.6 1038.1,520.5 1039.4,484 1040.8,476.7 1042.1,491.3 1043.5,520.5 1044.8,513.2 1046.2,491.3 1047.5,535.1 1048.8,513.2 1050.2,542.4 1051.5,454.8 1052.9,454.8 1054.2,498.6 1055.5,462.1 1056.9,476.7 1058.2,476.7 1059.6,491.3 1060.9,498.6 1062.2,505.9 1063.6,513.2 1064.9,520.5 1066.3,527.8 1067.6,447.5 1069,462.1 1070.3,462.1 1071.6,484 1073,549.7 1074.3,542.4 1075.7,484 1077,505.9 1078.3,498.6 1079.7,469.4 1081,505.9 1082.4,454.8 1083.7,498.6 1085,498.6 1086.4,505.9 1087.7,491.3 1089.1,520.5 1090.4,498.6 1091.7,513.2 1093.1,491.3 1094.4,527.8 1095.8,520.5 1097.1,454.8 1098.5,498.6 1099.8,505.9 1101.1,491.3 1102.5,520.5 1103.8,527.8 1105.2,454.8 1106.5,476.7 1107.8,527.8 1109.2,513.2 1110.5,513.2 1111.9,498.6 1113.2,484 1114.5,505.9 1115.9,491.3 1117.2,520.5 1118.6,505.9 1119.9,498.6 1121.3,484 1122.6,491.3 1123.9,498.6 1125.3,484 1126.6,535.1 1128,469.4 1129.3,491.3 1130.6,505.9 1132,557 1133.3,484 1134.7,527.8 1136,476.7 1137.3,491.3 1138.7,491.3 1140,527.8 1141.4,542.4 1142.7,513.2 1144.1,491.3 1145.4,505.9 1146.7,462.1 1148.1,484 1149.4,462.1 1150.8,549.7 1152.1,484 1153.4,520.5 1154.8,520.5 1156.1,505.9 1157.5,542.4 1158.8,513.2 1160.1,462.1 1161.5,549.7 1162.8,527.8 1164.2,520.5 1165.5,513.2 1166.9,542.4 1168.2,462.1 1169.5,469.4 1170.9,527.8 1172.2,527.8 1173.6,513.2 1174.9,491.3 1176.2,462.1 1177.6,484 1178.9,505.9 1180.3,447.5 1181.6,491.3 1182.9,469.4 1184.3,520.5 1185.6,498.6 1187,505.9 1188.3,513.2 1189.6,505.9 1191,469.4 1192.3,527.8 1193.7,557 1195,498.6 1196.4,476.7 1197.7,476.7 1199,498.6 1200.4,476.7 1201.7,520.5 1203.1,513.2 1204.4,520.5 1205.7,505.9 1207.1,542.4 1208.4,498.6 1209.8,476.7 1211.1,491.3 1212.4,498.6 1213.8,549.7 1215.1,505.9 1216.5,520.5 1217.8,476.7 1219.2,505.9 1220.5,469.4 1221.8,527.8 1223.2,498.6 1224.5,520.5 1225.9,498.6 1227.2,476.7 1228.5,462.1 1229.9,520.5 1231.2,491.3 1232.6,520.5 1233.9,535.1 1235.2,484 1236.6,498.6 1237.9,491.3 1239.3,498.6 1240.6,535.1 1242,513.2 1243.3,527.8 1244.6,520.5 1246,484 1247.3,513.2 1248.7,498.6 1250,513.2 1251.3,513.2 1252.7,527.8 1254,462.1 1255.4,498.6 1256.7,498.6 1258,513.2 1259.4,505.9 1260.7,491.3 1262.1,527.8 1263.4,527.8 1264.8,527.8 1266.1,491.3 1267.4,505.9 1268.8,462.1 1270.1,505.9 1271.5,535.1 1272.8,454.8 1274.1,476.7 1275.5,505.9 1276.8,484 1278.2,527.8 1279.5,484 1280.8,542.4 1282.2,505.9 1283.5,498.6 1284.9,484 1286.2,476.7 1287.5,469.4 1288.9,491.3 1290.2,527.8 1291.6,498.6 1292.9,462.1 1294.3,542.4 1295.6,484 1296.9,462.1 1298.3,505.9 1299.6,491.3 1301,476.7 1302.3,520.5 1303.6,491.3 1305,527.8 1306.3,513.2 1307.7,520.5 1309,484 1310.3,505.9 1311.7,535.1 1313,549.7 1314.4,469.4 1315.7,491.3 1317.1,476.7 1318.4,462.1 1319.7,505.9 1321.1,462.1 1322.4,498.6 1323.8,491.3 1325.1,498.6 1325.6,521.1 1327.3,532.2 1337.4,557 1347,550.1 1350.1,532.2 1352,557 1356.2,537.7 1358,555.6 1360.5,551.5 1362.2,557 1364.6,548.7 1366.5,512.8 1366.7,491.3 1368,498.6 1369.4,491.3 1370.7,469.4 1372,527.8 1373.4,476.7 1374.7,520.5 1376.1,491.3 1377.4,476.7 1378.7,505.9 1380.1,513.2 1381.4,432.9 1382.8,484 1384.1,505.9 1385.4,491.3 1386.8,542.4 1388.1,505.9 1389.5,469.4 1390.8,505.9 1392.2,498.6 1393.5,498.6 1394.8,454.8 1396.2,520.5 1397.5,513.2 1398.9,491.3 1400.2,476.7 1401.5,462.1 1402.9,454.8 1404.2,491.3 1405.6,542.4 1406.9,484 1408.2,520.5 1409.6,520.5 1410.9,447.5 1412.3,476.7 1413.6,520.5 1415,513.2 1416.3,454.8 1417.6,520.5 1419,498.6 1420.3,462.1 1421.7,469.4 1423,498.6L1423,557"/><path id="p3" d="M271,711L271,689.1 272.3,659.9 273.7,674.5 275,638 276.4,652.6 277.7,652.6 279,616.1 280.4,659.9 281.7,674.5 283.1,652.6 284.4,652.6 285.8,659.9 287.1,674.5 288.4,623.4 289.8,681.8 291.1,630.7 292.5,667.2 293.8,681.8 295.1,630.7 296.5,674.5 297.8,674.5 299.2,667.2 300.5,645.3 301.8,674.5 303.2,659.9 304.5,645.3 305.9,696.4 307.2,667.2 308.6,689.1 309.9,689.1 311.2,601.5 312.6,681.8 313.9,616.1 315.3,689.1 316.6,689.1 317.9,659.9 319.3,667.2 320.6,696.4 322,689.1 323.3,659.9 324.6,703.7 326,674.5 327.3,667.2 328.7,667.2 330,689.1 331.3,630.7 332.7,645.3 334,638 335.4,689.1 336.7,594.2 338.1,667.2 339.4,608.8 340.7,659.9 342.1,645.3 343.4,681.8 344.8,667.2 346.1,667.2 347.4,681.8 348.8,667.2 350.1,674.5 351.5,645.3 352.8,667.2 354.1,638 355.5,667.2 356.8,652.6 358.2,652.6 359.5,645.3 360.9,638 362.2,681.8 363.5,630.7 364.9,638 366.2,645.3 367.6,674.5 368.9,623.4 370.2,681.8 371.6,645.3 372.9,674.5 374.3,645.3 375.6,667.2 376.9,674.5 378.3,674.5 379.6,667.2 381,659.9 382.3,652.6 383.7,616.1 385,623.4 386.3,659.9 387.7,638 389,638 390.4,652.6 391.7,645.3 393,623.4 394.4,616.1 395.7,623.4 397.1,616.1 398.4,667.2 399.7,645.3 401.1,667.2 402.4,659.9 403.8,667.2 405.1,703.7 406.5,696.4 407.8,703.7 409.1,652.6 410.5,623.4 411.8,681.8 413.2,703.7 414.5,711 415.8,645.3 417.2,623.4 418.5,623.4 419.9,659.9 421.2,703.7 422.5,711 423.9,659.9 425.2,689.1 426.6,652.6 427.9,696.4 429.2,652.6 430.6,594.2 431.9,638 433.3,652.6 434.6,667.2 436,638 437.3,645.3 438.6,638 440,667.2 441.3,608.8 442.7,579.6 444,645.3 445.3,630.7 446.7,601.5 448,616.1 449.4,630.7 450.7,616.1 452,638 453.4,638 454.7,623.4 456.1,616.1 457.4,638 458.8,630.7 460.1,645.3 461.4,638 462.8,689.1 464.1,667.2 465.5,638 466.8,638 468.1,681.8 469.5,681.8 470.8,681.8 472.2,674.5 473.5,681.8 474.8,652.6 476.2,630.7 477.5,645.3 478.9,681.8 480.2,645.3 481.6,601.5 482.9,608.8 484.2,659.9 485.6,616.1 486.9,674.5 488.3,608.8 489.6,616.1 490.9,689.1 492.3,623.4 493.6,681.8 495,630.7 496.3,659.9 497.6,638 499,674.5 500.3,645.3 501.7,616.1 503,652.6 504.4,608.8 505.7,630.7 507,616.1 508.4,674.5 509.7,630.7 511.1,652.6 512.4,659.9 513.7,659.9 515.1,689.1 516.4,689.1 517.8,689.1 519.1,608.8 520.4,659.9 521.8,674.5 523.1,645.3 524.5,674.5 525.8,638 527.1,630.7 528.5,674.5 529.8,659.9 531.2,674.5 532.5,689.1 533.9,696.4 535.2,667.2 536.5,674.5 537.9,652.6 539.2,689.1 540.6,645.3 541.9,659.9 543.2,681.8 544.6,623.4 545.9,667.2 547.3,616.1 548.6,659.9 549.9,681.8 551.3,638 552.6,652.6 554,616.1 555.3,638 556.7,703.7 558,659.9 559.3,659.9 560.7,689.1 562,703.7 563.4,689.1 564.7,681.8 566,667.2 567.4,652.6 568.7,623.4 570.1,667.2 571.4,689.1 572.7,645.3 574.1,659.9 575.4,652.6 576.8,667.2 578.1,623.4 579.5,630.7 580.8,652.6 582.1,659.9 583.5,638 584.8,616.1 586.2,645.3 587.5,645.3 588.8,703.7 590.2,638 591.5,623.4 592.9,645.3 594.2,689.1 595.5,623.4 596.9,623.4 598.2,645.3 599.6,579.6 600.9,652.6 602.3,652.6 603.6,674.5 604.9,608.8 606.3,659.9 607.6,623.4 609,645.3 610.3,645.3 611.6,608.8 613,623.4 614.3,630.7 615.7,623.4 617,616.1 618.3,623.4 619.7,645.3 621,645.3 622.4,630.7 623.7,667.2 625,623.4 626.4,608.8 627.7,652.6 629.1,674.5 630.4,652.6 631.8,645.3 633.1,601.5 634.4,638 635.8,630.7 637.1,623.4 638.5,623.4 639.8,616.1 641.1,594.2 642.5,659.9 643.8,638 645.2,667.2 646.5,645.3 647.8,652.6 649.2,616.1 650.5,667.2 651.9,630.7 653.2,652.6 654.6,645.3 655.9,638 657.2,630.7 658.6,630.7 659.9,623.4 661.3,645.3 662.6,623.4 663.9,711 665.3,616.1 666.6,674.5 668,667.2 669.3,638 670.6,652.6 672,638 673.3,645.3 674.7,667.2 676,674.5 677.4,638 678.7,616.1 680,681.8 681.4,645.3 682.7,652.6 684.1,616.1 685.4,659.9 686.7,616.1 688.1,674.5 689.4,667.2 690.8,638 692.1,659.9 693.4,703.7 694.8,681.8 696.1,659.9 697.5,630.7 698.8,659.9 700.2,586.9 701.5,616.1 702.8,638 704.2,608.8 705.5,703.7 706.9,616.1 708.2,645.3 709.5,681.8 710.9,645.3 712.2,659.9 713.6,638 714.9,659.9 716.2,630.7 717.6,659.9 718.9,659.9 720.3,616.1 721.6,638 722.9,638 724.3,616.1 725.6,652.6 727,667.2 728.3,645.3 729.7,652.6 731,630.7 732.3,638 733.7,608.8 735,689.1 736.4,696.4 737.7,674.5 739,659.9 740.4,652.6 741.7,616.1 743.1,681.8 744.4,659.9 745.7,711 747.1,652.6 748.4,667.2 749.8,645.3 751.1,659.9 752.5,711 753.8,630.7 755.1,630.7 756.5,630.7 757.8,681.8 759.2,608.8 760.5,667.2 761.8,638 763.2,667.2 764.5,711 765.9,659.9 767.2,630.7 768.5,630.7 769.9,623.4 771.2,659.9 772.6,703.7 773.9,645.3 775.3,638 776.6,674.5 777.9,638 779.3,616.1 780.6,638 782,667.2 783.3,652.6 784.6,689.1 786,652.6 787.3,667.2 788.7,711 790,645.3 791.3,689.1 792.7,667.2 794,638 795.4,638 796.7,623.4 798.1,659.9 799.4,645.3 800.7,638 802.1,667.2 803.4,638 804.8,623.4 806.1,638 807.4,652.6 808.8,645.3 810.1,601.5 811.5,645.3 812.8,689.1 814.1,608.8 815.5,681.8 816.8,616.1 818.2,601.5 819.5,638 820.8,616.1 822.2,652.6 823.5,594.2 824.9,630.7 826.2,608.8 827.6,623.4 828.9,623.4 830.2,667.2 831.6,689.1 832.9,638 834.3,652.6 835.6,630.7 836.9,630.7 838.3,659.9 839.6,674.5 841,681.8 842.3,601.5 843.6,659.9 845,645.3 846.3,638 847.7,638 849,681.8 850.4,652.6 851.7,659.9 853,659.9 854.4,645.3 855.7,667.2 857.1,659.9 858.4,652.6 859.7,659.9 861.1,667.2 862.4,674.5 863.8,696.4 865.1,659.9 866.4,645.3 867.8,652.6 869.1,645.3 870.5,638 871.8,681.8 873.2,645.3 874.5,645.3 875.8,630.7 877.2,659.9 878.5,645.3 879.9,630.7 881.2,659.9 882.5,689.1 883.9,681.8 885.2,674.5 886.6,667.2 887.9,645.3 889.2,645.3 890.6,652.6 891.9,674.5 893.3,681.8 894.6,667.2 895.9,696.4 897.3,703.7 898.6,703.7 900,689.1 901.3,659.9 902.7,667.2 904,674.5 905.3,638 906.7,667.2 908,689.1 909.4,703.7 910.7,696.4 912,711 913.4,696.4 914.7,696.4 916.1,659.9 917.4,630.7 918.7,674.5 920.1,696.4 921.4,645.3 922.8,667.2 924.1,652.6 925.5,703.7 926.8,681.8 928.1,652.6 929.5,645.3 930.8,667.2 932.2,659.9 933.5,659.9 934.8,659.9 936.2,667.2 937.5,638 938.9,667.2 940.2,659.9 941.5,594.2 942.9,645.3 944.2,638 945.6,616.1 946.9,703.7 948.3,659.9 949.6,659.9 950.9,659.9 952.3,667.2 953.6,638 955,616.1 956.3,659.9 957.6,645.3 959,689.1 960.3,674.5 961.7,667.2 963,689.1 964.3,703.7 965.7,681.8 967,659.9 968.4,674.5 969.7,659.9 971.1,659.9 972.4,667.2 973.7,689.1 975.1,689.1 976.4,674.5 977.8,674.5 979.1,681.8 980.4,711 981.8,674.5 983.1,659.9 984.5,652.6 985.8,659.9 987.1,645.3 988.5,616.1 989.8,623.4 991.2,667.2 992.5,667.2 993.8,652.6 995.2,659.9 996.5,645.3 997.9,689.1 999.2,630.7 1000.6,652.6 1001.9,623.4 1003.2,638 1004.6,652.6 1005.9,638 1007.3,616.1 1008.6,674.5 1009.9,630.7 1011.3,696.4 1012.6,659.9 1014,681.8 1015.3,638 1016.6,674.5 1018,674.5 1019.3,616.1 1020.7,652.6 1022,652.6 1023.4,681.8 1024.7,667.2 1026,638 1027.4,667.2 1028.7,652.6 1030.1,645.3 1031.4,667.2 1032.7,659.9 1034.1,645.3 1035.4,652.6 1036.8,645.3 1038.1,667.2 1039.4,630.7 1040.8,630.7 1042.1,645.3 1043.5,638 1044.8,630.7 1046.2,674.5 1047.5,623.4 1048.8,667.2 1050.2,623.4 1051.5,623.4 1052.9,652.6 1054.2,674.5 1055.5,638 1056.9,711 1058.2,652.6 1059.6,638 1060.9,652.6 1062.2,608.8 1063.6,638 1064.9,652.6 1066.3,630.7 1067.6,659.9 1069,638 1070.3,674.5 1071.6,652.6 1073,696.4 1074.3,652.6 1075.7,630.7 1077,645.3 1078.3,696.4 1079.7,659.9 1081,616.1 1082.4,674.5 1083.7,652.6 1085,674.5 1086.4,667.2 1087.7,659.9 1089.1,659.9 1090.4,652.6 1091.7,696.4 1093.1,703.7 1094.4,674.5 1095.8,674.5 1097.1,659.9 1098.5,623.4 1099.8,674.5 1101.1,630.7 1102.5,674.5 1103.8,667.2 1105.2,659.9 1106.5,681.8 1107.8,630.7 1109.2,652.6 1110.5,659.9 1111.9,681.8 1113.2,689.1 1114.5,674.5 1115.9,623.4 1117.2,681.8 1118.6,638 1119.9,659.9 1121.3,645.3 1122.6,667.2 1123.9,689.1 1125.3,674.5 1126.6,659.9 1128,652.6 1129.3,674.5 1130.6,674.5 1132,696.4 1133.3,659.9 1134.7,623.4 1136,608.8 1137.3,645.3 1138.7,594.2 1140,681.8 1141.4,674.5 1142.7,667.2 1144.1,659.9 1145.4,616.1 1146.7,659.9 1148.1,689.1 1149.4,696.4 1150.8,659.9 1152.1,616.1 1153.4,674.5 1154.8,681.8 1156.1,659.9 1157.5,689.1 1158.8,645.3 1160.1,681.8 1161.5,645.3 1162.8,681.8 1164.2,659.9 1165.5,638 1166.9,638 1168.2,689.1 1169.5,652.6 1170.9,616.1 1172.2,616.1 1173.6,608.8 1174.9,638 1176.2,659.9 1177.6,608.8 1178.9,674.5 1180.3,638 1181.6,652.6 1182.9,667.2 1184.3,652.6 1185.6,630.7 1187,659.9 1188.3,652.6 1189.6,645.3 1191,616.1 1192.3,703.7 1193.7,630.7 1195,638 1196.4,645.3 1197.7,616.1 1199,652.6 1200.4,623.4 1201.7,681.8 1203.1,674.5 1204.4,681.8 1205.7,659.9 1207.1,696.4 1208.4,681.8 1209.8,667.2 1211.1,645.3 1212.4,623.4 1213.8,630.7 1215.1,652.6 1216.5,623.4 1217.8,652.6 1219.2,645.3 1220.5,689.1 1221.8,689.1 1223.2,667.2 1224.5,689.1 1225.9,703.7 1227.2,667.2 1228.5,681.8 1229.9,667.2 1231.2,659.9 1232.6,659.9 1233.9,667.2 1235.2,681.8 1236.6,616.1 1237.9,652.6 1239.3,616.1 1240.6,681.8 1242,652.6 1243.3,681.8 1244.6,667.2 1246,652.6 1247.3,623.4 1248.7,696.4 1250,667.2 1251.3,667.2 1252.7,645.3 1254,659.9 1255.4,616.1 1256.7,616.1 1258,674.5 1259.4,638 1260.7,645.3 1262.1,638 1263.4,689.1 1264.8,659.9 1266.1,696.4 1267.4,674.5 1268.8,703.7 1270.1,645.3 1271.5,689.1 1272.8,645.3 1274.1,638 1275.5,623.4 1276.8,652.6 1278.2,645.3 1279.5,674.5 1280.8,659.9 1282.2,638 1283.5,645.3 1284.9,659.9 1286.2,659.9 1287.5,652.6 1288.9,659.9 1290.2,645.3 1291.6,645.3 1292.9,630.7 1294.3,681.8 1295.6,667.2 1296.9,652.6 1298.3,674.5 1299.6,652.6 1301,616.1 1302.3,623.4 1303.6,652.6 1305,652.6 1306.3,638 1307.7,696.4 1309,645.3 1310.3,645.3 1311.7,616.1 1313,681.8 1314.4,689.1 1315.7,659.9 1317.1,667.2 1318.4,659.9 1319.7,667.2 1321.1,674.5 1322.4,645.3 1323.8,630.7 1325.1,608.8 1325.6,693.1 1328,706.2 1331.4,711 1336.2,676.5 1338.1,707.4 1342.4,711 1347.7,705.5 1349.7,697.2 1351.6,709.6 1353.7,690.3 1356.9,695.8 1359.3,706.9 1361.7,711 1364.6,697.2 1366.5,661.3 1366.7,652.6 1368,652.6 1369.4,659.9 1370.7,689.1 1372,703.7 1373.4,689.1 1374.7,652.6 1376.1,696.4 1377.4,573 1378.7,645.3 1380.1,659.9 1381.4,667.2 1382.8,674.5 1384.1,608.8 1385.4,601.5 1386.8,659.9 1388.1,681.8 1389.5,667.2 1390.8,696.4 1392.2,638 1393.5,638 1394.8,630.7 1396.2,681.8 1397.5,608.8 1398.9,652.6 1400.2,659.9 1401.5,659.9 1402.9,659.9 1404.2,674.5 1405.6,667.2 1406.9,667.2 1408.2,638 1409.6,652.6 1410.9,674.5 1412.3,652.6 1413.6,667.2 1415,659.9 1416.3,623.4 1417.6,645.3 1419,652.6 1420.3,711 1421.7,674.5 1423,667.2L1423,711"/><path id="p4" d="M271,865L271,861.7 272.3,861.7 273.7,858.4 275,858.4 276.4,861.7 277.7,858.4 279,865 280.4,855.1 281.7,851.9 283.1,861.7 284.4,861.7 285.8,861.7 287.1,858.4 288.4,855.1 289.8,865 291.1,855.1 292.5,865 293.8,858.4 295.1,861.7 296.5,861.7 297.8,858.4 299.2,861.7 300.5,858.4 301.8,861.7 303.2,865 304.5,855.1 305.9,858.4 307.2,861.7 308.6,855.1 309.9,858.4 311.2,858.4 312.6,861.7 313.9,858.4 315.3,861.7 316.6,861.7 317.9,865 319.3,861.7 320.6,865 322,858.4 323.3,861.7 324.6,865 326,858.4 327.3,861.7 328.7,858.4 330,858.4 331.3,858.4 332.7,865 334,865 335.4,865 336.7,858.4 338.1,865 339.4,861.7 340.7,858.4 342.1,861.7 343.4,858.4 344.8,855.1 346.1,861.7 347.4,861.7 348.8,855.1 350.1,861.7 351.5,865 352.8,861.7 354.1,861.7 355.5,865 356.8,861.7 358.2,858.4 359.5,865 360.9,858.4 362.2,858.4 363.5,861.7 364.9,865 366.2,855.1 367.6,865 368.9,861.7 370.2,858.4 371.6,865 372.9,865 374.3,865 375.6,865 376.9,861.7 378.3,861.7 379.6,851.9 381,855.1 382.3,851.9 383.7,858.4 385,858.4 386.3,861.7 387.7,861.7 389,861.7 390.4,858.4 391.7,861.7 393,858.4 394.4,861.7 395.7,861.7 397.1,858.4 398.4,855.1 399.7,851.9 401.1,848.6 402.4,845.3 403.8,848.6 405.1,842 406.5,842 407.8,842 409.1,845.3 410.5,845.3 411.8,842 413.2,842 414.5,832.1 415.8,842 417.2,825.6 418.5,805.9 419.9,819 421.2,825.6 422.5,825.6 423.9,832.1 425.2,822.3 426.6,838.7 427.9,822.3 429.2,855.1 430.6,838.7 431.9,838.7 433.3,855.1 434.6,848.6 436,828.9 437.3,819 438.6,835.4 440,809.1 441.3,819 442.7,825.6 444,779.6 445.3,838.7 446.7,822.3 448,802.6 449.4,825.6 450.7,815.7 452,845.3 453.4,845.3 454.7,848.6 456.1,855.1 457.4,858.4 458.8,858.4 460.1,858.4 461.4,851.9 462.8,858.4 464.1,858.4 465.5,861.7 466.8,861.7 468.1,861.7 469.5,858.4 470.8,865 472.2,861.7 473.5,855.1 474.8,855.1 476.2,865 477.5,858.4 478.9,858.4 480.2,861.7 481.6,861.7 482.9,861.7 484.2,861.7 485.6,858.4 486.9,848.6 488.3,848.6 489.6,861.7 490.9,851.9 492.3,858.4 493.6,861.7 495,855.1 496.3,861.7 497.6,865 499,861.7 500.3,865 501.7,858.4 503,855.1 504.4,865 505.7,865 507,865 508.4,855.1 509.7,855.1 511.1,865 512.4,858.4 513.7,858.4 515.1,858.4 516.4,858.4 517.8,861.7 519.1,858.4 520.4,858.4 521.8,861.7 523.1,858.4 524.5,861.7 525.8,861.7 527.1,861.7 528.5,858.4 529.8,855.1 531.2,858.4 532.5,865 533.9,861.7 535.2,855.1 536.5,865 537.9,851.9 539.2,865 540.6,865 541.9,858.4 543.2,858.4 544.6,855.1 545.9,851.9 547.3,851.9 548.6,855.1 549.9,851.9 551.3,848.6 552.6,858.4 554,855.1 555.3,858.4 556.7,865 558,855.1 559.3,861.7 560.7,858.4 562,858.4 563.4,865 564.7,855.1 566,858.4 567.4,855.1 568.7,851.9 570.1,861.7 571.4,861.7 572.7,858.4 574.1,855.1 575.4,865 576.8,865 578.1,865 579.5,858.4 580.8,861.7 582.1,851.9 583.5,861.7 584.8,851.9 586.2,851.9 587.5,855.1 588.8,851.9 590.2,851.9 591.5,851.9 592.9,865 594.2,861.7 595.5,861.7 596.9,858.4 598.2,851.9 599.6,855.1 600.9,855.1 602.3,858.4 603.6,851.9 604.9,848.6 606.3,858.4 607.6,858.4 609,861.7 610.3,861.7 611.6,858.4 613,855.1 614.3,845.3 615.7,858.4 617,861.7 618.3,851.9 619.7,861.7 621,855.1 622.4,848.6 623.7,842 625,835.4 626.4,838.7 627.7,848.6 629.1,845.3 630.4,858.4 631.8,858.4 633.1,851.9 634.4,865 635.8,858.4 637.1,855.1 638.5,858.4 639.8,858.4 641.1,851.9 642.5,848.6 643.8,855.1 645.2,848.6 646.5,858.4 647.8,858.4 649.2,855.1 650.5,845.3 651.9,858.4 653.2,848.6 654.6,858.4 655.9,858.4 657.2,861.7 658.6,858.4 659.9,855.1 661.3,855.1 662.6,845.3 663.9,851.9 665.3,851.9 666.6,858.4 668,861.7 669.3,855.1 670.6,865 672,848.6 673.3,861.7 674.7,858.4 676,855.1 677.4,855.1 678.7,855.1 680,855.1 681.4,861.7 682.7,858.4 684.1,858.4 685.4,858.4 686.7,861.7 688.1,861.7 689.4,851.9 690.8,855.1 692.1,858.4 693.4,858.4 694.8,858.4 696.1,855.1 697.5,861.7 698.8,861.7 700.2,861.7 701.5,851.9 702.8,861.7 704.2,858.4 705.5,855.1 706.9,851.9 708.2,855.1 709.5,861.7 710.9,858.4 712.2,861.7 713.6,861.7 714.9,861.7 716.2,861.7 717.6,855.1 718.9,848.6 720.3,865 721.6,845.3 722.9,861.7 724.3,855.1 725.6,858.4 727,858.4 728.3,855.1 729.7,861.7 731,865 732.3,858.4 733.7,861.7 735,865 736.4,858.4 737.7,861.7 739,855.1 740.4,855.1 741.7,861.7 743.1,861.7 744.4,851.9 745.7,861.7 747.1,855.1 748.4,855.1 749.8,858.4 751.1,851.9 752.5,855.1 753.8,858.4 755.1,858.4 756.5,861.7 757.8,855.1 759.2,861.7 760.5,861.7 761.8,861.7 763.2,858.4 764.5,861.7 765.9,865 767.2,851.9 768.5,842 769.9,861.7 771.2,851.9 772.6,855.1 773.9,858.4 775.3,838.7 776.6,865 777.9,858.4 779.3,855.1 780.6,858.4 782,861.7 783.3,858.4 784.6,861.7 786,855.1 787.3,855.1 788.7,861.7 790,861.7 791.3,865 792.7,855.1 794,861.7 795.4,858.4 796.7,851.9 798.1,851.9 799.4,858.4 800.7,861.7 802.1,858.4 803.4,861.7 804.8,861.7 806.1,855.1 807.4,865 808.8,848.6 810.1,855.1 811.5,851.9 812.8,861.7 814.1,861.7 815.5,855.1 816.8,858.4 818.2,861.7 819.5,858.4 820.8,858.4 822.2,865 823.5,851.9 824.9,861.7 826.2,858.4 827.6,855.1 828.9,861.7 830.2,851.9 831.6,855.1 832.9,858.4 834.3,858.4 835.6,858.4 836.9,865 838.3,855.1 839.6,861.7 841,861.7 842.3,855.1 843.6,865 845,855.1 846.3,855.1 847.7,865 849,861.7 850.4,861.7 851.7,865 853,861.7 854.4,861.7 855.7,865 857.1,865 858.4,858.4 859.7,855.1 861.1,855.1 862.4,861.7 863.8,858.4 865.1,861.7 866.4,865 867.8,861.7 869.1,861.7 870.5,858.4 871.8,861.7 873.2,851.9 874.5,851.9 875.8,865 877.2,858.4 878.5,858.4 879.9,865 881.2,861.7 882.5,861.7 883.9,855.1 885.2,855.1 886.6,848.6 887.9,855.1 889.2,858.4 890.6,861.7 891.9,865 893.3,865 894.6,855.1 895.9,851.9 897.3,865 898.6,861.7 900,855.1 901.3,848.6 902.7,838.7 904,858.4 905.3,851.9 906.7,858.4 908,855.1 909.4,858.4 910.7,845.3 912,855.1 913.4,858.4 914.7,848.6 916.1,865 917.4,838.7 918.7,848.6 920.1,858.4 921.4,865 922.8,835.4 924.1,858.4 925.5,845.3 926.8,845.3 928.1,838.7 929.5,848.6 930.8,858.4 932.2,861.7 933.5,865 934.8,855.1 936.2,845.3 937.5,848.6 938.9,858.4 940.2,865 941.5,865 942.9,851.9 944.2,861.7 945.6,865 946.9,858.4 948.3,865 949.6,861.7 950.9,848.6 952.3,851.9 953.6,842 955,865 956.3,865 957.6,858.4 959,842 960.3,855.1 961.7,845.3 963,858.4 964.3,865 965.7,865 967,861.7 968.4,855.1 969.7,848.6 971.1,858.4 972.4,861.7 973.7,861.7 975.1,851.9 976.4,855.1 977.8,858.4 979.1,865 980.4,858.4 981.8,865 983.1,865 984.5,858.4 985.8,848.6 987.1,855.1 988.5,861.7 989.8,861.7 991.2,842 992.5,861.7 993.8,865 995.2,858.4 996.5,861.7 997.9,865 999.2,861.7 1000.6,858.4 1001.9,861.7 1003.2,858.4 1004.6,848.6 1005.9,842 1007.3,851.9 1008.6,832.1 1009.9,838.7 1011.3,819 1012.6,815.7 1014,796 1015.3,779.6 1016.6,828.9 1018,769.7 1019.3,773 1020.7,835.4 1022,789.4 1023.4,727 1024.7,786.1 1026,809.1 1027.4,828.9 1028.7,851.9 1030.1,855.1 1031.4,858.4 1032.7,858.4 1034.1,855.1 1035.4,858.4 1036.8,861.7 1038.1,861.7 1039.4,858.4 1040.8,861.7 1042.1,858.4 1043.5,858.4 1044.8,865 1046.2,855.1 1047.5,858.4 1048.8,858.4 1050.2,855.1 1051.5,851.9 1052.9,848.6 1054.2,861.7 1055.5,855.1 1056.9,865 1058.2,858.4 1059.6,861.7 1060.9,845.3 1062.2,855.1 1063.6,865 1064.9,851.9 1066.3,858.4 1067.6,858.4 1069,851.9 1070.3,851.9 1071.6,858.4 1073,851.9 1074.3,861.7 1075.7,858.4 1077,865 1078.3,855.1 1079.7,865 1081,858.4 1082.4,855.1 1083.7,858.4 1085,858.4 1086.4,851.9 1087.7,851.9 1089.1,845.3 1090.4,845.3 1091.7,838.7 1093.1,845.3 1094.4,858.4 1095.8,851.9 1097.1,858.4 1098.5,858.4 1099.8,855.1 1101.1,865 1102.5,861.7 1103.8,855.1 1105.2,845.3 1106.5,858.4 1107.8,858.4 1109.2,865 1110.5,858.4 1111.9,865 1113.2,845.3 1114.5,865 1115.9,865 1117.2,845.3 1118.6,861.7 1119.9,855.1 1121.3,858.4 1122.6,851.9 1123.9,851.9 1125.3,858.4 1126.6,848.6 1128,855.1 1129.3,865 1130.6,851.9 1132,858.4 1133.3,858.4 1134.7,845.3 1136,851.9 1137.3,861.7 1138.7,851.9 1140,851.9 1141.4,855.1 1142.7,858.4 1144.1,851.9 1145.4,861.7 1146.7,861.7 1148.1,858.4 1149.4,858.4 1150.8,865 1152.1,855.1 1153.4,858.4 1154.8,861.7 1156.1,855.1 1157.5,865 1158.8,861.7 1160.1,851.9 1161.5,858.4 1162.8,858.4 1164.2,845.3 1165.5,858.4 1166.9,855.1 1168.2,865 1169.5,858.4 1170.9,855.1 1172.2,851.9 1173.6,855.1 1174.9,851.9 1176.2,855.1 1177.6,865 1178.9,865 1180.3,851.9 1181.6,851.9 1182.9,848.6 1184.3,858.4 1185.6,861.7 1187,865 1188.3,851.9 1189.6,861.7 1191,855.1 1192.3,858.4 1193.7,842 1195,855.1 1196.4,855.1 1197.7,861.7 1199,845.3 1200.4,855.1 1201.7,848.6 1203.1,838.7 1204.4,842 1205.7,825.6 1207.1,838.7 1208.4,835.4 1209.8,835.4 1211.1,835.4 1212.4,835.4 1213.8,842 1215.1,851.9 1216.5,855.1 1217.8,861.7 1219.2,861.7 1220.5,851.9 1221.8,851.9 1223.2,858.4 1224.5,855.1 1225.9,848.6 1227.2,865 1228.5,855.1 1229.9,851.9 1231.2,865 1232.6,848.6 1233.9,861.7 1235.2,851.9 1236.6,865 1237.9,848.6 1239.3,858.4 1240.6,848.6 1242,845.3 1243.3,855.1 1244.6,851.9 1246,861.7 1247.3,855.1 1248.7,858.4 1250,845.3 1251.3,855.1 1252.7,832.1 1254,845.3 1255.4,828.9 1256.7,838.7 1258,825.6 1259.4,825.6 1260.7,842 1262.1,832.1 1263.4,828.9 1264.8,832.1 1266.1,845.3 1267.4,842 1268.8,848.6 1270.1,855.1 1271.5,855.1 1272.8,855.1 1274.1,858.4 1275.5,855.1 1276.8,851.9 1278.2,845.3 1279.5,842 1280.8,835.4 1282.2,832.1 1283.5,835.4 1284.9,842 1286.2,845.3 1287.5,848.6 1288.9,845.3 1290.2,855.1 1291.6,855.1 1292.9,858.4 1294.3,855.1 1295.6,851.9 1296.9,858.4 1298.3,851.9 1299.6,858.4 1301,861.7 1302.3,858.4 1303.6,858.4 1305,865 1306.3,851.9 1307.7,861.7 1309,851.9 1310.3,848.6 1311.7,861.7 1313,855.1 1314.4,858.4 1315.7,851.9 1317.1,851.9 1318.4,838.7 1319.7,858.4 1321.1,861.7 1322.4,858.4 1323.8,858.4 1325.1,845.3 1326.4,861.7 1327.8,861.7 1329.1,865 1330.5,865 1331.8,865 1333.1,865 1334.5,865 1335.8,865 1337.2,865 1338.5,865 1339.9,865 1341.2,865 1342.5,865 1343.9,865 1345.2,865 1346.6,865 1347.9,865 1349.2,861.7 1350.6,865 1351.9,865 1353.3,865 1354.6,865 1355.9,861.7 1357.3,865 1358.6,865 1360,865 1361.3,865 1362.7,865 1364,865 1365.3,861.7 1366.7,851.9 1368,858.4 1369.4,855.1 1370.7,851.9 1372,855.1 1373.4,855.1 1374.7,842 1376.1,842 1377.4,835.4 1378.7,838.7 1380.1,838.7 1381.4,828.9 1382.8,825.6 1384.1,822.3 1385.4,832.1 1386.8,842 1388.1,842 1389.5,848.6 1390.8,861.7 1392.2,858.4 1393.5,858.4 1394.8,858.4 1396.2,858.4 1397.5,865 1398.9,861.7 1400.2,855.1 1401.5,851.9 1402.9,855.1 1404.2,855.1 1405.6,858.4 1406.9,855.1 1408.2,861.7 1409.6,858.4 1410.9,865 1412.3,865 1413.6,848.6 1415,865 1416.3,858.4 1417.6,855.1 1419,855.1 1420.3,861.7 1421.7,858.4 1423,858.4L1423,865"/><path id="p5" d="M271,1019L271,1019 272.3,1019 273.7,1015.3 275,1011.5 276.4,1015.3 277.7,1015.3 279,1011.5 280.4,1015.3 281.7,1011.5 283.1,1019 284.4,1011.5 285.8,1015.3 287.1,1011.5 288.4,1019 289.8,1011.5 291.1,1007.8 292.5,1019 293.8,1011.5 295.1,1011.5 296.5,1019 297.8,1015.3 299.2,1007.8 300.5,1019 301.8,1019 303.2,1015.3 304.5,1019 305.9,1015.3 307.2,1019 308.6,1011.5 309.9,1015.3 311.2,1015.3 312.6,1015.3 313.9,1015.3 315.3,1015.3 316.6,1019 317.9,1011.5 319.3,1011.5 320.6,1011.5 322,1019 323.3,1007.8 324.6,1011.5 326,1015.3 327.3,1019 328.7,1019 330,1015.3 331.3,1019 332.7,1015.3 334,1011.5 335.4,1015.3 336.7,1015.3 338.1,1015.3 339.4,1015.3 340.7,1015.3 342.1,1015.3 343.4,1019 344.8,1015.3 346.1,1015.3 347.4,1015.3 348.8,1007.8 350.1,1019 351.5,1015.3 352.8,1015.3 354.1,1015.3 355.5,1015.3 356.8,1007.8 358.2,1015.3 359.5,1007.8 360.9,1011.5 362.2,1011.5 363.5,1007.8 364.9,1019 366.2,1015.3 367.6,1015.3 368.9,1019 370.2,1015.3 371.6,1019 372.9,1019 374.3,1015.3 375.6,1011.5 376.9,1019 378.3,1019 379.6,1011.5 381,1019 382.3,1015.3 383.7,1019 385,1007.8 386.3,1015.3 387.7,1015.3 389,1015.3 390.4,1015.3 391.7,1011.5 393,1011.5 394.4,1004.1 395.7,1011.5 397.1,1015.3 398.4,1011.5 399.7,1015.3 401.1,1011.5 402.4,1019 403.8,1019 405.1,1019 406.5,1011.5 407.8,1019 409.1,1007.8 410.5,1019 411.8,1019 413.2,1015.3 414.5,1000.4 415.8,1000.4 417.2,974.2 418.5,974.2 419.9,981.7 421.2,970.5 422.5,907.1 423.9,929.5 425.2,955.6 426.6,981.7 427.9,1000.4 429.2,1011.5 430.6,1011.5 431.9,1011.5 433.3,1004.1 434.6,985.4 436,981.7 437.3,985.4 438.6,978 440,959.3 441.3,963.1 442.7,910.8 444,881 445.3,922 446.7,929.5 448,978 449.4,970.5 450.7,974.2 452,974.2 453.4,992.9 454.7,989.2 456.1,1000.4 457.4,1004.1 458.8,1007.8 460.1,1015.3 461.4,1015.3 462.8,1015.3 464.1,1015.3 465.5,1015.3 466.8,1015.3 468.1,1007.8 469.5,1015.3 470.8,1015.3 472.2,1019 473.5,1015.3 474.8,1019 476.2,1004.1 477.5,1011.5 478.9,1015.3 480.2,1011.5 481.6,1015.3 482.9,1004.1 484.2,1015.3 485.6,1015.3 486.9,1015.3 488.3,1011.5 489.6,1011.5 490.9,1015.3 492.3,1007.8 493.6,1004.1 495,1007.8 496.3,1011.5 497.6,1011.5 499,1004.1 500.3,1007.8 501.7,1015.3 503,1019 504.4,1019 505.7,1019 507,1015.3 508.4,1007.8 509.7,1011.5 511.1,1015.3 512.4,1007.8 513.7,1011.5 515.1,1011.5 516.4,1011.5 517.8,1015.3 519.1,1011.5 520.4,1007.8 521.8,1011.5 523.1,1000.4 524.5,1007.8 525.8,1011.5 527.1,1019 528.5,1007.8 529.8,1019 531.2,1000.4 532.5,1007.8 533.9,996.6 535.2,1007.8 536.5,1000.4 537.9,1011.5 539.2,1019 540.6,1011.5 541.9,1007.8 543.2,1019 544.6,1019 545.9,1007.8 547.3,1015.3 548.6,1015.3 549.9,1019 551.3,1011.5 552.6,1011.5 554,1007.8 555.3,1007.8 556.7,1011.5 558,1015.3 559.3,1007.8 560.7,1004.1 562,1007.8 563.4,992.9 564.7,1011.5 566,1004.1 567.4,1000.4 568.7,1015.3 570.1,1015.3 571.4,1007.8 572.7,1007.8 574.1,1011.5 575.4,1000.4 576.8,1004.1 578.1,1004.1 579.5,1011.5 580.8,1011.5 582.1,1011.5 583.5,1000.4 584.8,1011.5 586.2,1015.3 587.5,1007.8 588.8,1011.5 590.2,1004.1 591.5,1011.5 592.9,1007.8 594.2,1011.5 595.5,1004.1 596.9,1007.8 598.2,1011.5 599.6,1007.8 600.9,1015.3 602.3,1007.8 603.6,1011.5 604.9,1004.1 606.3,1011.5 607.6,1011.5 609,1007.8 610.3,1007.8 611.6,1019 613,1011.5 614.3,1007.8 615.7,1000.4 617,1011.5 618.3,1011.5 619.7,1007.8 621,1011.5 622.4,1000.4 623.7,1011.5 625,1011.5 626.4,1015.3 627.7,1015.3 629.1,1007.8 630.4,1007.8 631.8,1011.5 633.1,1004.1 634.4,1011.5 635.8,1015.3 637.1,1019 638.5,1019 639.8,1007.8 641.1,1015.3 642.5,1000.4 643.8,1004.1 645.2,1011.5 646.5,1011.5 647.8,1004.1 649.2,1015.3 650.5,1000.4 651.9,1004.1 653.2,1019 654.6,1011.5 655.9,1004.1 657.2,1011.5 658.6,1000.4 659.9,1004.1 661.3,1015.3 662.6,1011.5 663.9,1011.5 665.3,1019 666.6,1015.3 668,1011.5 669.3,1019 670.6,1019 672,1015.3 673.3,1019 674.7,1015.3 676,1011.5 677.4,1015.3 678.7,1019 680,1015.3 681.4,1007.8 682.7,1015.3 684.1,1007.8 685.4,1015.3 686.7,1007.8 688.1,1011.5 689.4,1007.8 690.8,1019 692.1,1015.3 693.4,1015.3 694.8,1015.3 696.1,1011.5 697.5,1019 698.8,1019 700.2,1011.5 701.5,1019 702.8,1015.3 704.2,1019 705.5,1015.3 706.9,1015.3 708.2,1011.5 709.5,1015.3 710.9,1011.5 712.2,1007.8 713.6,1015.3 714.9,1015.3 716.2,1015.3 717.6,1011.5 718.9,1011.5 720.3,1011.5 721.6,1011.5 722.9,1011.5 724.3,1015.3 725.6,1015.3 727,1015.3 728.3,1015.3 729.7,1011.5 731,1015.3 732.3,1011.5 733.7,1015.3 735,1015.3 736.4,1015.3 737.7,1015.3 739,1007.8 740.4,1011.5 741.7,1015.3 743.1,1015.3 744.4,1015.3 745.7,1011.5 747.1,1011.5 748.4,1015.3 749.8,1011.5 751.1,1007.8 752.5,1015.3 753.8,1011.5 755.1,1015.3 756.5,1015.3 757.8,1015.3 759.2,1011.5 760.5,1011.5 761.8,1011.5 763.2,1011.5 764.5,1007.8 765.9,1011.5 767.2,1019 768.5,1015.3 769.9,1011.5 771.2,1007.8 772.6,1015.3 773.9,1019 775.3,1019 776.6,1015.3 777.9,1007.8 779.3,1015.3 780.6,1019 782,1019 783.3,1015.3 784.6,1015.3 786,1015.3 787.3,1019 788.7,1015.3 790,1011.5 791.3,1011.5 792.7,1015.3 794,1015.3 795.4,1015.3 796.7,1019 798.1,1007.8 799.4,1019 800.7,1015.3 802.1,1015.3 803.4,1015.3 804.8,1015.3 806.1,1011.5 807.4,1019 808.8,1015.3 810.1,1011.5 811.5,1015.3 812.8,1015.3 814.1,1015.3 815.5,1019 816.8,1011.5 818.2,1015.3 819.5,1019 820.8,1019 822.2,1007.8 823.5,1007.8 824.9,1011.5 826.2,1019 827.6,1015.3 828.9,1019 830.2,1015.3 831.6,1015.3 832.9,1015.3 834.3,1011.5 835.6,1019 836.9,1015.3 838.3,1019 839.6,1015.3 841,1007.8 842.3,1011.5 843.6,1015.3 845,1015.3 846.3,1019 847.7,1015.3 849,1015.3 850.4,1019 851.7,1011.5 853,1007.8 854.4,1015.3 855.7,1011.5 857.1,1019 858.4,1011.5 859.7,1011.5 861.1,1011.5 862.4,1019 863.8,1015.3 865.1,1011.5 866.4,1011.5 867.8,1011.5 869.1,1015.3 870.5,1015.3 871.8,1015.3 873.2,1015.3 874.5,1019 875.8,1015.3 877.2,1015.3 878.5,1011.5 879.9,1015.3 881.2,1007.8 882.5,1015.3 883.9,1007.8 885.2,1011.5 886.6,1019 887.9,1011.5 889.2,1011.5 890.6,1019 891.9,1019 893.3,1011.5 894.6,1011.5 895.9,1007.8 897.3,1015.3 898.6,1004.1 900,1007.8 901.3,1015.3 902.7,1011.5 904,1004.1 905.3,1007.8 906.7,1004.1 908,1019 909.4,1011.5 910.7,1011.5 912,1015.3 913.4,1007.8 914.7,1000.4 916.1,1011.5 917.4,1011.5 918.7,1011.5 920.1,1011.5 921.4,1019 922.8,1011.5 924.1,1015.3 925.5,1011.5 926.8,1019 928.1,1011.5 929.5,1007.8 930.8,1007.8 932.2,1015.3 933.5,1011.5 934.8,1004.1 936.2,1015.3 937.5,1015.3 938.9,1015.3 940.2,1011.5 941.5,1007.8 942.9,1011.5 944.2,1019 945.6,1011.5 946.9,1015.3 948.3,1015.3 949.6,1011.5 950.9,1019 952.3,1015.3 953.6,1015.3 955,1015.3 956.3,1019 957.6,1011.5 959,1004.1 960.3,1015.3 961.7,1015.3 963,1015.3 964.3,1015.3 965.7,1015.3 967,1011.5 968.4,1019 969.7,1007.8 971.1,1015.3 972.4,1011.5 973.7,1011.5 975.1,1011.5 976.4,1011.5 977.8,1011.5 979.1,1019 980.4,1007.8 981.8,1015.3 983.1,1011.5 984.5,1015.3 985.8,1011.5 987.1,1007.8 988.5,1015.3 989.8,1015.3 991.2,1015.3 992.5,1015.3 993.8,1011.5 995.2,1015.3 996.5,1011.5 997.9,1011.5 999.2,1019 1000.6,1015.3 1001.9,1007.8 1003.2,1004.1 1004.6,1004.1 1005.9,992.9 1007.3,996.6 1008.6,989.2 1009.9,981.7 1011.3,970.5 1012.6,959.3 1014,944.4 1015.3,925.8 1016.6,907.1 1018,951.9 1019.3,910.8 1020.7,970.5 1022,959.3 1023.4,910.8 1024.7,992.9 1026,966.8 1027.4,974.2 1028.7,1007.8 1030.1,1000.4 1031.4,1011.5 1032.7,1011.5 1034.1,1019 1035.4,1011.5 1036.8,1011.5 1038.1,1019 1039.4,1015.3 1040.8,1007.8 1042.1,1015.3 1043.5,1019 1044.8,1011.5 1046.2,1015.3 1047.5,1011.5 1048.8,1011.5 1050.2,1004.1 1051.5,1004.1 1052.9,1011.5 1054.2,1007.8 1055.5,1011.5 1056.9,1015.3 1058.2,1011.5 1059.6,1011.5 1060.9,1011.5 1062.2,1011.5 1063.6,1007.8 1064.9,1000.4 1066.3,1000.4 1067.6,1007.8 1069,1011.5 1070.3,1011.5 1071.6,1007.8 1073,1007.8 1074.3,1007.8 1075.7,1007.8 1077,1019 1078.3,1011.5 1079.7,1015.3 1081,1007.8 1082.4,1019 1083.7,1011.5 1085,1004.1 1086.4,1004.1 1087.7,996.6 1089.1,1004.1 1090.4,989.2 1091.7,1000.4 1093.1,996.6 1094.4,996.6 1095.8,1000.4 1097.1,1007.8 1098.5,1007.8 1099.8,1015.3 1101.1,1007.8 1102.5,1019 1103.8,1019 1105.2,1019 1106.5,1015.3 1107.8,1011.5 1109.2,1011.5 1110.5,1011.5 1111.9,1011.5 1113.2,1019 1114.5,1015.3 1115.9,1011.5 1117.2,1007.8 1118.6,1011.5 1119.9,1007.8 1121.3,1007.8 1122.6,1004.1 1123.9,1011.5 1125.3,1015.3 1126.6,1011.5 1128,1000.4 1129.3,1011.5 1130.6,1015.3 1132,1015.3 1133.3,1007.8 1134.7,1019 1136,1015.3 1137.3,1007.8 1138.7,1019 1140,1015.3 1141.4,1019 1142.7,1007.8 1144.1,1007.8 1145.4,1007.8 1146.7,1019 1148.1,1007.8 1149.4,1011.5 1150.8,1015.3 1152.1,1007.8 1153.4,1011.5 1154.8,1015.3 1156.1,1007.8 1157.5,1011.5 1158.8,1004.1 1160.1,1019 1161.5,1011.5 1162.8,1011.5 1164.2,1015.3 1165.5,1015.3 1166.9,1004.1 1168.2,1004.1 1169.5,1019 1170.9,1011.5 1172.2,1019 1173.6,1011.5 1174.9,1011.5 1176.2,1004.1 1177.6,1019 1178.9,1011.5 1180.3,1007.8 1181.6,1019 1182.9,1011.5 1184.3,1011.5 1185.6,1015.3 1187,1015.3 1188.3,1015.3 1189.6,1015.3 1191,1007.8 1192.3,1007.8 1193.7,1011.5 1195,1015.3 1196.4,1004.1 1197.7,1000.4 1199,1011.5 1200.4,1011.5 1201.7,1011.5 1203.1,1004.1 1204.4,992.9 1205.7,992.9 1207.1,974.2 1208.4,989.2 1209.8,1004.1 1211.1,978 1212.4,996.6 1213.8,1000.4 1215.1,1007.8 1216.5,1011.5 1217.8,1007.8 1219.2,1015.3 1220.5,1019 1221.8,1011.5 1223.2,1019 1224.5,1011.5 1225.9,1015.3 1227.2,1011.5 1228.5,1007.8 1229.9,1019 1231.2,1019 1232.6,1007.8 1233.9,1007.8 1235.2,1007.8 1236.6,1011.5 1237.9,1019 1239.3,1004.1 1240.6,1015.3 1242,1011.5 1243.3,1015.3 1244.6,1007.8 1246,1015.3 1247.3,1011.5 1248.7,1015.3 1250,1007.8 1251.3,1007.8 1252.7,996.6 1254,989.2 1255.4,963.1 1256.7,981.7 1258,970.5 1259.4,985.4 1260.7,992.9 1262.1,996.6 1263.4,985.4 1264.8,989.2 1266.1,996.6 1267.4,1004.1 1268.8,1011.5 1270.1,1011.5 1271.5,1015.3 1272.8,1015.3 1274.1,1015.3 1275.5,1011.5 1276.8,1007.8 1278.2,1015.3 1279.5,1011.5 1280.8,1004.1 1282.2,1000.4 1283.5,1004.1 1284.9,1000.4 1286.2,996.6 1287.5,1004.1 1288.9,1011.5 1290.2,1007.8 1291.6,1015.3 1292.9,1019 1294.3,1019 1295.6,1019 1296.9,1007.8 1298.3,1007.8 1299.6,1015.3 1301,1011.5 1302.3,1015.3 1303.6,1011.5 1305,1011.5 1306.3,1007.8 1307.7,1004.1 1309,1011.5 1310.3,1015.3 1311.7,1015.3 1313,1011.5 1314.4,1015.3 1315.7,1011.5 1317.1,1011.5 1318.4,1007.8 1319.7,1011.5 1321.1,1007.8 1322.4,1019 1323.8,1011.5 1325.1,1004.1 1326.4,1015.3 1327.8,1015.3 1329.1,1019 1330.5,1019 1331.8,1019 1333.1,1019 1334.5,1019 1335.8,1019 1337.2,1019 1338.5,1019 1339.9,1019 1341.2,1019 1342.5,1019 1343.9,1019 1345.2,1019 1346.6,1019 1347.9,1019 1349.2,1015.3 1350.6,1019 1351.9,1019 1353.3,1019 1354.6,1019 1355.9,1015.3 1357.3,1019 1358.6,1019 1360,1019 1361.3,1019 1362.7,1019 1364,1019 1365.3,1015.3 1366.7,1004.1 1368,1015.3 1369.4,1007.8 1370.7,1007.8 1372,996.6 1373.4,1000.4 1374.7,989.2 1376.1,989.2 1377.4,989.2 1378.7,985.4 1380.1,978 1381.4,925.8 1382.8,925.8 1384.1,970.5 1385.4,978 1386.8,1000.4 1388.1,992.9 1389.5,1007.8 1390.8,1000.4 1392.2,1007.8 1393.5,1007.8 1394.8,1011.5 1396.2,1004.1 1397.5,1004.1 1398.9,1007.8 1400.2,1007.8 1401.5,1015.3 1402.9,1007.8 1404.2,1011.5 1405.6,1011.5 1406.9,1004.1 1408.2,1019 1409.6,1015.3 1410.9,1015.3 1412.3,1007.8 1413.6,1015.3 1415,1019 1416.3,1011.5 1417.6,1007.8 1419,1007.8 1420.3,1000.4 1421.7,1004.1 1423,1007.8L1423,1019"/><path id="p6" d="M271,1173L271,1169.3 272.3,1165.5 273.7,1165.5 275,1165.5 276.4,1165.5 277.7,1165.5 279,1161.8 280.4,1169.3 281.7,1173 283.1,1165.5 284.4,1161.8 285.8,1173 287.1,1169.3 288.4,1169.3 289.8,1165.5 291.1,1158.1 292.5,1165.5 293.8,1169.3 295.1,1169.3 296.5,1165.5 297.8,1161.8 299.2,1165.5 300.5,1169.3 301.8,1154.4 303.2,1161.8 304.5,1173 305.9,1173 307.2,1173 308.6,1169.3 309.9,1158.1 311.2,1173 312.6,1169.3 313.9,1169.3 315.3,1161.8 316.6,1169.3 317.9,1165.5 319.3,1165.5 320.6,1169.3 322,1169.3 323.3,1150.6 324.6,1165.5 326,1173 327.3,1169.3 328.7,1173 330,1169.3 331.3,1173 332.7,1173 334,1169.3 335.4,1161.8 336.7,1169.3 338.1,1169.3 339.4,1169.3 340.7,1165.5 342.1,1165.5 343.4,1169.3 344.8,1173 346.1,1173 347.4,1173 348.8,1161.8 350.1,1169.3 351.5,1169.3 352.8,1165.5 354.1,1165.5 355.5,1169.3 356.8,1173 358.2,1165.5 359.5,1165.5 360.9,1165.5 362.2,1169.3 363.5,1165.5 364.9,1165.5 366.2,1169.3 367.6,1165.5 368.9,1161.8 370.2,1173 371.6,1169.3 372.9,1173 374.3,1169.3 375.6,1169.3 376.9,1173 378.3,1169.3 379.6,1173 381,1161.8 382.3,1158.1 383.7,1165.5 385,1169.3 386.3,1169.3 387.7,1165.5 389,1165.5 390.4,1161.8 391.7,1161.8 393,1165.5 394.4,1161.8 395.7,1150.6 397.1,1161.8 398.4,1161.8 399.7,1165.5 401.1,1165.5 402.4,1169.3 403.8,1173 405.1,1169.3 406.5,1173 407.8,1158.1 409.1,1158.1 410.5,1161.8 411.8,1158.1 413.2,1135.7 414.5,1154.4 415.8,1143.2 417.2,1132 418.5,1113.3 419.9,1064.8 421.2,1038.7 422.5,1072.3 423.9,1061.1 425.2,1072.3 426.6,1087.2 427.9,1139.4 429.2,1161.8 430.6,1146.9 431.9,1158.1 433.3,1143.2 434.6,1165.5 436,1128.2 437.3,1143.2 438.6,1143.2 440,1120.8 441.3,1083.5 442.7,1087.2 444,1046.2 445.3,1042.5 446.7,1061.1 448,1117.1 449.4,1158.1 450.7,1109.6 452,1154.4 453.4,1154.4 454.7,1154.4 456.1,1158.1 457.4,1165.5 458.8,1169.3 460.1,1165.5 461.4,1173 462.8,1169.3 464.1,1173 465.5,1173 466.8,1165.5 468.1,1173 469.5,1173 470.8,1169.3 472.2,1161.8 473.5,1173 474.8,1165.5 476.2,1165.5 477.5,1169.3 478.9,1169.3 480.2,1165.5 481.6,1169.3 482.9,1173 484.2,1169.3 485.6,1161.8 486.9,1165.5 488.3,1161.8 489.6,1161.8 490.9,1169.3 492.3,1158.1 493.6,1165.5 495,1146.9 496.3,1161.8 497.6,1173 499,1161.8 500.3,1169.3 501.7,1165.5 503,1165.5 504.4,1154.4 505.7,1154.4 507,1158.1 508.4,1158.1 509.7,1169.3 511.1,1173 512.4,1173 513.7,1169.3 515.1,1165.5 516.4,1169.3 517.8,1173 519.1,1173 520.4,1165.5 521.8,1165.5 523.1,1169.3 524.5,1169.3 525.8,1173 527.1,1165.5 528.5,1165.5 529.8,1169.3 531.2,1161.8 532.5,1158.1 533.9,1173 535.2,1173 536.5,1158.1 537.9,1169.3 539.2,1169.3 540.6,1173 541.9,1165.5 543.2,1158.1 544.6,1161.8 545.9,1165.5 547.3,1169.3 548.6,1169.3 549.9,1173 551.3,1169.3 552.6,1161.8 554,1165.5 555.3,1165.5 556.7,1169.3 558,1169.3 559.3,1169.3 560.7,1161.8 562,1165.5 563.4,1165.5 564.7,1173 566,1169.3 567.4,1173 568.7,1173 570.1,1169.3 571.4,1165.5 572.7,1173 574.1,1173 575.4,1158.1 576.8,1169.3 578.1,1169.3 579.5,1165.5 580.8,1165.5 582.1,1169.3 583.5,1169.3 584.8,1169.3 586.2,1165.5 587.5,1161.8 588.8,1169.3 590.2,1169.3 591.5,1161.8 592.9,1173 594.2,1173 595.5,1169.3 596.9,1165.5 598.2,1165.5 599.6,1161.8 600.9,1165.5 602.3,1165.5 603.6,1173 604.9,1169.3 606.3,1165.5 607.6,1169.3 609,1158.1 610.3,1169.3 611.6,1169.3 613,1169.3 614.3,1165.5 615.7,1169.3 617,1165.5 618.3,1169.3 619.7,1154.4 621,1158.1 622.4,1161.8 623.7,1161.8 625,1169.3 626.4,1169.3 627.7,1165.5 629.1,1161.8 630.4,1150.6 631.8,1146.9 633.1,1135.7 634.4,1139.4 635.8,1150.6 637.1,1146.9 638.5,1150.6 639.8,1150.6 641.1,1135.7 642.5,1150.6 643.8,1139.4 645.2,1150.6 646.5,1161.8 647.8,1161.8 649.2,1165.5 650.5,1165.5 651.9,1158.1 653.2,1158.1 654.6,1165.5 655.9,1154.4 657.2,1158.1 658.6,1161.8 659.9,1161.8 661.3,1165.5 662.6,1165.5 663.9,1169.3 665.3,1165.5 666.6,1161.8 668,1165.5 669.3,1173 670.6,1158.1 672,1161.8 673.3,1165.5 674.7,1161.8 676,1161.8 677.4,1169.3 678.7,1169.3 680,1169.3 681.4,1158.1 682.7,1169.3 684.1,1169.3 685.4,1165.5 686.7,1165.5 688.1,1161.8 689.4,1161.8 690.8,1161.8 692.1,1158.1 693.4,1165.5 694.8,1165.5 696.1,1165.5 697.5,1169.3 698.8,1165.5 700.2,1169.3 701.5,1169.3 702.8,1161.8 704.2,1169.3 705.5,1165.5 706.9,1173 708.2,1169.3 709.5,1169.3 710.9,1169.3 712.2,1165.5 713.6,1169.3 714.9,1165.5 716.2,1165.5 717.6,1169.3 718.9,1169.3 720.3,1169.3 721.6,1161.8 722.9,1173 724.3,1161.8 725.6,1169.3 727,1165.5 728.3,1169.3 729.7,1158.1 731,1161.8 732.3,1161.8 733.7,1158.1 735,1161.8 736.4,1158.1 737.7,1161.8 739,1158.1 740.4,1169.3 741.7,1173 743.1,1165.5 744.4,1169.3 745.7,1161.8 747.1,1169.3 748.4,1169.3 749.8,1169.3 751.1,1169.3 752.5,1169.3 753.8,1165.5 755.1,1165.5 756.5,1165.5 757.8,1165.5 759.2,1161.8 760.5,1158.1 761.8,1173 763.2,1161.8 764.5,1158.1 765.9,1169.3 767.2,1165.5 768.5,1165.5 769.9,1158.1 771.2,1165.5 772.6,1173 773.9,1169.3 775.3,1169.3 776.6,1169.3 777.9,1165.5 779.3,1173 780.6,1165.5 782,1173 783.3,1161.8 784.6,1169.3 786,1173 787.3,1165.5 788.7,1165.5 790,1169.3 791.3,1173 792.7,1169.3 794,1173 795.4,1173 796.7,1165.5 798.1,1165.5 799.4,1165.5 800.7,1173 802.1,1169.3 803.4,1158.1 804.8,1169.3 806.1,1169.3 807.4,1161.8 808.8,1165.5 810.1,1169.3 811.5,1169.3 812.8,1165.5 814.1,1169.3 815.5,1173 816.8,1158.1 818.2,1165.5 819.5,1173 820.8,1173 822.2,1165.5 823.5,1173 824.9,1165.5 826.2,1161.8 827.6,1165.5 828.9,1161.8 830.2,1165.5 831.6,1165.5 832.9,1169.3 834.3,1165.5 835.6,1173 836.9,1165.5 838.3,1169.3 839.6,1169.3 841,1169.3 842.3,1169.3 843.6,1161.8 845,1169.3 846.3,1158.1 847.7,1169.3 849,1165.5 850.4,1173 851.7,1169.3 853,1169.3 854.4,1173 855.7,1165.5 857.1,1165.5 858.4,1161.8 859.7,1173 861.1,1161.8 862.4,1161.8 863.8,1173 865.1,1165.5 866.4,1161.8 867.8,1169.3 869.1,1165.5 870.5,1165.5 871.8,1165.5 873.2,1165.5 874.5,1165.5 875.8,1161.8 877.2,1165.5 878.5,1169.3 879.9,1173 881.2,1165.5 882.5,1169.3 883.9,1169.3 885.2,1173 886.6,1161.8 887.9,1161.8 889.2,1173 890.6,1161.8 891.9,1169.3 893.3,1161.8 894.6,1169.3 895.9,1161.8 897.3,1161.8 898.6,1165.5 900,1165.5 901.3,1165.5 902.7,1165.5 904,1165.5 905.3,1161.8 906.7,1169.3 908,1169.3 909.4,1165.5 910.7,1154.4 912,1154.4 913.4,1161.8 914.7,1165.5 916.1,1161.8 917.4,1165.5 918.7,1150.6 920.1,1139.4 921.4,1154.4 922.8,1161.8 924.1,1165.5 925.5,1161.8 926.8,1161.8 928.1,1169.3 929.5,1158.1 930.8,1161.8 932.2,1169.3 933.5,1154.4 934.8,1158.1 936.2,1150.6 937.5,1150.6 938.9,1150.6 940.2,1154.4 941.5,1161.8 942.9,1165.5 944.2,1169.3 945.6,1169.3 946.9,1173 948.3,1165.5 949.6,1173 950.9,1173 952.3,1165.5 953.6,1173 955,1173 956.3,1165.5 957.6,1169.3 959,1169.3 960.3,1165.5 961.7,1161.8 963,1165.5 964.3,1165.5 965.7,1173 967,1173 968.4,1169.3 969.7,1158.1 971.1,1150.6 972.4,1161.8 973.7,1161.8 975.1,1169.3 976.4,1169.3 977.8,1169.3 979.1,1161.8 980.4,1165.5 981.8,1161.8 983.1,1173 984.5,1169.3 985.8,1165.5 987.1,1165.5 988.5,1154.4 989.8,1165.5 991.2,1165.5 992.5,1165.5 993.8,1173 995.2,1161.8 996.5,1169.3 997.9,1165.5 999.2,1173 1000.6,1173 1001.9,1161.8 1003.2,1169.3 1004.6,1165.5 1005.9,1161.8 1007.3,1158.1 1008.6,1161.8 1009.9,1146.9 1011.3,1132 1012.6,1102.1 1014,1087.2 1015.3,1072.3 1016.6,1061.1 1018,1072.3 1019.3,1094.7 1020.7,1113.3 1022,1083.5 1023.4,1049.9 1024.7,1109.6 1026,1135.7 1027.4,1150.6 1028.7,1161.8 1030.1,1158.1 1031.4,1165.5 1032.7,1173 1034.1,1173 1035.4,1169.3 1036.8,1169.3 1038.1,1165.5 1039.4,1165.5 1040.8,1165.5 1042.1,1173 1043.5,1165.5 1044.8,1173 1046.2,1169.3 1047.5,1161.8 1048.8,1158.1 1050.2,1173 1051.5,1173 1052.9,1165.5 1054.2,1158.1 1055.5,1154.4 1056.9,1169.3 1058.2,1154.4 1059.6,1169.3 1060.9,1169.3 1062.2,1165.5 1063.6,1165.5 1064.9,1139.4 1066.3,1173 1067.6,1161.8 1069,1165.5 1070.3,1165.5 1071.6,1169.3 1073,1165.5 1074.3,1165.5 1075.7,1169.3 1077,1158.1 1078.3,1165.5 1079.7,1154.4 1081,1165.5 1082.4,1165.5 1083.7,1158.1 1085,1161.8 1086.4,1154.4 1087.7,1150.6 1089.1,1150.6 1090.4,1139.4 1091.7,1150.6 1093.1,1124.5 1094.4,1150.6 1095.8,1169.3 1097.1,1158.1 1098.5,1158.1 1099.8,1161.8 1101.1,1161.8 1102.5,1165.5 1103.8,1169.3 1105.2,1161.8 1106.5,1158.1 1107.8,1173 1109.2,1161.8 1110.5,1165.5 1111.9,1173 1113.2,1173 1114.5,1165.5 1115.9,1165.5 1117.2,1165.5 1118.6,1154.4 1119.9,1173 1121.3,1158.1 1122.6,1158.1 1123.9,1158.1 1125.3,1158.1 1126.6,1173 1128,1165.5 1129.3,1161.8 1130.6,1165.5 1132,1165.5 1133.3,1173 1134.7,1173 1136,1173 1137.3,1161.8 1138.7,1169.3 1140,1161.8 1141.4,1165.5 1142.7,1169.3 1144.1,1173 1145.4,1154.4 1146.7,1165.5 1148.1,1169.3 1149.4,1158.1 1150.8,1165.5 1152.1,1165.5 1153.4,1165.5 1154.8,1154.4 1156.1,1173 1157.5,1173 1158.8,1165.5 1160.1,1165.5 1161.5,1165.5 1162.8,1173 1164.2,1161.8 1165.5,1173 1166.9,1173 1168.2,1161.8 1169.5,1165.5 1170.9,1165.5 1172.2,1161.8 1173.6,1158.1 1174.9,1169.3 1176.2,1165.5 1177.6,1173 1178.9,1169.3 1180.3,1165.5 1181.6,1169.3 1182.9,1173 1184.3,1173 1185.6,1165.5 1187,1169.3 1188.3,1161.8 1189.6,1169.3 1191,1165.5 1192.3,1154.4 1193.7,1158.1 1195,1154.4 1196.4,1154.4 1197.7,1161.8 1199,1161.8 1200.4,1158.1 1201.7,1154.4 1203.1,1150.6 1204.4,1139.4 1205.7,1090.9 1207.1,1113.3 1208.4,1146.9 1209.8,1132 1211.1,1135.7 1212.4,1146.9 1213.8,1158.1 1215.1,1150.6 1216.5,1165.5 1217.8,1158.1 1219.2,1161.8 1220.5,1165.5 1221.8,1165.5 1223.2,1165.5 1224.5,1169.3 1225.9,1169.3 1227.2,1169.3 1228.5,1161.8 1229.9,1173 1231.2,1161.8 1232.6,1161.8 1233.9,1154.4 1235.2,1161.8 1236.6,1169.3 1237.9,1169.3 1239.3,1165.5 1240.6,1169.3 1242,1169.3 1243.3,1158.1 1244.6,1150.6 1246,1165.5 1247.3,1161.8 1248.7,1161.8 1250,1146.9 1251.3,1135.7 1252.7,1135.7 1254,1143.2 1255.4,1124.5 1256.7,1124.5 1258,1154.4 1259.4,1143.2 1260.7,1143.2 1262.1,1124.5 1263.4,1128.2 1264.8,1150.6 1266.1,1150.6 1267.4,1158.1 1268.8,1161.8 1270.1,1165.5 1271.5,1161.8 1272.8,1158.1 1274.1,1154.4 1275.5,1158.1 1276.8,1146.9 1278.2,1150.6 1279.5,1146.9 1280.8,1120.8 1282.2,1124.5 1283.5,1139.4 1284.9,1143.2 1286.2,1158.1 1287.5,1150.6 1288.9,1161.8 1290.2,1146.9 1291.6,1161.8 1292.9,1165.5 1294.3,1169.3 1295.6,1158.1 1296.9,1165.5 1298.3,1165.5 1299.6,1173 1301,1169.3 1302.3,1165.5 1303.6,1165.5 1305,1158.1 1306.3,1165.5 1307.7,1169.3 1309,1165.5 1310.3,1161.8 1311.7,1165.5 1313,1158.1 1314.4,1173 1315.7,1173 1317.1,1169.3 1318.4,1158.1 1319.7,1173 1321.1,1161.8 1322.4,1161.8 1323.8,1165.5 1325.1,1165.5 1326.4,1169.3 1327.8,1169.3 1329.1,1173 1330.5,1173 1331.8,1173 1333.1,1173 1334.5,1173 1335.8,1173 1337.2,1173 1338.5,1173 1339.9,1173 1341.2,1173 1342.5,1173 1343.9,1173 1345.2,1173 1346.6,1173 1347.9,1173 1349.2,1169.3 1350.6,1173 1351.9,1173 1353.3,1173 1354.6,1173 1355.9,1169.3 1357.3,1173 1358.6,1173 1360,1173 1361.3,1173 1362.7,1173 1364,1173 1365.3,1169.3 1366.7,1161.8 1368,1169.3 1369.4,1169.3 1370.7,1158.1 1372,1158.1 1373.4,1158.1 1374.7,1139.4 1376.1,1124.5 1377.4,1102.1 1378.7,1083.5 1380.1,1072.3 1381.4,1079.8 1382.8,1035 1384.1,1083.5 1385.4,1132 1386.8,1146.9 1388.1,1139.4 1389.5,1154.4 1390.8,1150.6 1392.2,1150.6 1393.5,1161.8 1394.8,1161.8 1396.2,1165.5 1397.5,1161.8 1398.9,1161.8 1400.2,1161.8 1401.5,1154.4 1402.9,1165.5 1404.2,1146.9 1405.6,1169.3 1406.9,1165.5 1408.2,1161.8 1409.6,1165.5 1410.9,1161.8 1412.3,1173 1413.6,1173 1415,1165.5 1416.3,1161.8 1417.6,1169.3 1419,1158.1 1420.3,1154.4 1421.7,1161.8 1423,1161.8L1423,1173"/><path id="p7" d="M271,1327L271,1323.5 272.3,1323.5 273.7,1327 275,1323.5 276.4,1327 277.7,1323.5 279,1323.5 280.4,1323.5 281.7,1327 283.1,1323.5 284.4,1327 285.8,1323.5 287.1,1327 288.4,1320.1 289.8,1320.1 291.1,1320.1 292.5,1323.5 293.8,1327 295.1,1316.6 296.5,1320.1 297.8,1323.5 299.2,1320.1 300.5,1316.6 301.8,1323.5 303.2,1323.5 304.5,1320.1 305.9,1327 307.2,1323.5 308.6,1320.1 309.9,1320.1 311.2,1320.1 312.6,1323.5 313.9,1316.6 315.3,1316.6 316.6,1320.1 317.9,1323.5 319.3,1320.1 320.6,1323.5 322,1320.1 323.3,1320.1 324.6,1323.5 326,1316.6 327.3,1320.1 328.7,1320.1 330,1323.5 331.3,1316.6 332.7,1327 334,1316.6 335.4,1323.5 336.7,1323.5 338.1,1323.5 339.4,1320.1 340.7,1320.1 342.1,1320.1 343.4,1320.1 344.8,1320.1 346.1,1320.1 347.4,1320.1 348.8,1323.5 350.1,1320.1 351.5,1320.1 352.8,1323.5 354.1,1327 355.5,1320.1 356.8,1320.1 358.2,1323.5 359.5,1327 360.9,1323.5 362.2,1323.5 363.5,1327 364.9,1316.6 366.2,1323.5 367.6,1323.5 368.9,1323.5 370.2,1320.1 371.6,1327 372.9,1327 374.3,1320.1 375.6,1323.5 376.9,1313.2 378.3,1320.1 379.6,1327 381,1320.1 382.3,1313.2 383.7,1313.2 385,1323.5 386.3,1320.1 387.7,1320.1 389,1313.2 390.4,1320.1 391.7,1316.6 393,1316.6 394.4,1306.3 395.7,1316.6 397.1,1313.2 398.4,1320.1 399.7,1320.1 401.1,1320.1 402.4,1316.6 403.8,1316.6 405.1,1316.6 406.5,1316.6 407.8,1323.5 409.1,1320.1 410.5,1302.8 411.8,1295.9 413.2,1313.2 414.5,1285.6 415.8,1285.6 417.2,1275.2 418.5,1251.1 419.9,1237.3 421.2,1220 422.5,1206.2 423.9,1278.7 425.2,1233.8 426.6,1278.7 427.9,1275.2 429.2,1309.8 430.6,1313.2 431.9,1313.2 433.3,1306.3 434.6,1295.9 436,1299.4 437.3,1258 438.6,1251.1 440,1195.9 441.3,1189 442.7,1189 444,1189 445.3,1195.9 446.7,1209.7 448,1223.5 449.4,1289 450.7,1295.9 452,1299.4 453.4,1295.9 454.7,1306.3 456.1,1313.2 457.4,1320.1 458.8,1320.1 460.1,1320.1 461.4,1320.1 462.8,1320.1 464.1,1320.1 465.5,1316.6 466.8,1316.6 468.1,1320.1 469.5,1323.5 470.8,1323.5 472.2,1323.5 473.5,1316.6 474.8,1327 476.2,1323.5 477.5,1320.1 478.9,1323.5 480.2,1323.5 481.6,1327 482.9,1320.1 484.2,1320.1 485.6,1320.1 486.9,1316.6 488.3,1320.1 489.6,1323.5 490.9,1323.5 492.3,1320.1 493.6,1323.5 495,1323.5 496.3,1323.5 497.6,1327 499,1323.5 500.3,1320.1 501.7,1323.5 503,1323.5 504.4,1313.2 505.7,1313.2 507,1320.1 508.4,1323.5 509.7,1323.5 511.1,1327 512.4,1320.1 513.7,1323.5 515.1,1316.6 516.4,1323.5 517.8,1320.1 519.1,1327 520.4,1320.1 521.8,1302.8 523.1,1313.2 524.5,1320.1 525.8,1323.5 527.1,1316.6 528.5,1323.5 529.8,1320.1 531.2,1316.6 532.5,1320.1 533.9,1327 535.2,1313.2 536.5,1320.1 537.9,1320.1 539.2,1316.6 540.6,1316.6 541.9,1323.5 543.2,1316.6 544.6,1323.5 545.9,1327 547.3,1323.5 548.6,1320.1 549.9,1323.5 551.3,1316.6 552.6,1313.2 554,1316.6 555.3,1316.6 556.7,1316.6 558,1316.6 559.3,1313.2 560.7,1306.3 562,1316.6 563.4,1323.5 564.7,1327 566,1327 567.4,1316.6 568.7,1323.5 570.1,1313.2 571.4,1327 572.7,1323.5 574.1,1320.1 575.4,1316.6 576.8,1327 578.1,1320.1 579.5,1320.1 580.8,1323.5 582.1,1323.5 583.5,1316.6 584.8,1316.6 586.2,1320.1 587.5,1313.2 588.8,1316.6 590.2,1323.5 591.5,1323.5 592.9,1323.5 594.2,1323.5 595.5,1327 596.9,1320.1 598.2,1316.6 599.6,1323.5 600.9,1320.1 602.3,1320.1 603.6,1320.1 604.9,1320.1 606.3,1320.1 607.6,1320.1 609,1320.1 610.3,1323.5 611.6,1320.1 613,1323.5 614.3,1327 615.7,1323.5 617,1320.1 618.3,1327 619.7,1320.1 621,1320.1 622.4,1327 623.7,1327 625,1323.5 626.4,1327 627.7,1323.5 629.1,1323.5 630.4,1323.5 631.8,1320.1 633.1,1316.6 634.4,1323.5 635.8,1323.5 637.1,1323.5 638.5,1320.1 639.8,1327 641.1,1327 642.5,1320.1 643.8,1323.5 645.2,1320.1 646.5,1327 647.8,1316.6 649.2,1316.6 650.5,1320.1 651.9,1313.2 653.2,1320.1 654.6,1316.6 655.9,1316.6 657.2,1320.1 658.6,1309.8 659.9,1313.2 661.3,1323.5 662.6,1316.6 663.9,1323.5 665.3,1320.1 666.6,1316.6 668,1320.1 669.3,1327 670.6,1327 672,1327 673.3,1320.1 674.7,1327 676,1323.5 677.4,1323.5 678.7,1327 680,1323.5 681.4,1320.1 682.7,1327 684.1,1323.5 685.4,1320.1 686.7,1323.5 688.1,1323.5 689.4,1323.5 690.8,1320.1 692.1,1323.5 693.4,1327 694.8,1323.5 696.1,1327 697.5,1320.1 698.8,1327 700.2,1323.5 701.5,1320.1 702.8,1327 704.2,1323.5 705.5,1327 706.9,1323.5 708.2,1320.1 709.5,1327 710.9,1320.1 712.2,1320.1 713.6,1320.1 714.9,1327 716.2,1323.5 717.6,1323.5 718.9,1323.5 720.3,1323.5 721.6,1316.6 722.9,1323.5 724.3,1327 725.6,1320.1 727,1320.1 728.3,1323.5 729.7,1327 731,1320.1 732.3,1316.6 733.7,1327 735,1327 736.4,1327 737.7,1327 739,1320.1 740.4,1327 741.7,1323.5 743.1,1316.6 744.4,1320.1 745.7,1316.6 747.1,1327 748.4,1327 749.8,1316.6 751.1,1323.5 752.5,1323.5 753.8,1320.1 755.1,1323.5 756.5,1320.1 757.8,1320.1 759.2,1320.1 760.5,1320.1 761.8,1323.5 763.2,1320.1 764.5,1320.1 765.9,1323.5 767.2,1316.6 768.5,1313.2 769.9,1316.6 771.2,1323.5 772.6,1316.6 773.9,1327 775.3,1313.2 776.6,1323.5 777.9,1320.1 779.3,1316.6 780.6,1320.1 782,1320.1 783.3,1316.6 784.6,1316.6 786,1320.1 787.3,1323.5 788.7,1320.1 790,1327 791.3,1323.5 792.7,1323.5 794,1327 795.4,1320.1 796.7,1320.1 798.1,1316.6 799.4,1323.5 800.7,1327 802.1,1316.6 803.4,1323.5 804.8,1320.1 806.1,1327 807.4,1327 808.8,1323.5 810.1,1323.5 811.5,1327 812.8,1316.6 814.1,1320.1 815.5,1323.5 816.8,1327 818.2,1327 819.5,1320.1 820.8,1323.5 822.2,1320.1 823.5,1323.5 824.9,1323.5 826.2,1323.5 827.6,1320.1 828.9,1323.5 830.2,1320.1 831.6,1323.5 832.9,1320.1 834.3,1320.1 835.6,1320.1 836.9,1320.1 838.3,1313.2 839.6,1320.1 841,1320.1 842.3,1323.5 843.6,1316.6 845,1323.5 846.3,1320.1 847.7,1316.6 849,1327 850.4,1323.5 851.7,1320.1 853,1320.1 854.4,1323.5 855.7,1320.1 857.1,1320.1 858.4,1327 859.7,1323.5 861.1,1323.5 862.4,1316.6 863.8,1320.1 865.1,1327 866.4,1327 867.8,1327 869.1,1320.1 870.5,1320.1 871.8,1323.5 873.2,1323.5 874.5,1327 875.8,1320.1 877.2,1323.5 878.5,1320.1 879.9,1327 881.2,1327 882.5,1320.1 883.9,1316.6 885.2,1323.5 886.6,1320.1 887.9,1327 889.2,1323.5 890.6,1327 891.9,1323.5 893.3,1323.5 894.6,1323.5 895.9,1323.5 897.3,1320.1 898.6,1316.6 900,1320.1 901.3,1323.5 902.7,1320.1 904,1327 905.3,1327 906.7,1327 908,1316.6 909.4,1327 910.7,1320.1 912,1316.6 913.4,1313.2 914.7,1313.2 916.1,1306.3 917.4,1309.8 918.7,1313.2 920.1,1309.8 921.4,1309.8 922.8,1316.6 924.1,1320.1 925.5,1313.2 926.8,1302.8 928.1,1313.2 929.5,1306.3 930.8,1302.8 932.2,1306.3 933.5,1320.1 934.8,1323.5 936.2,1320.1 937.5,1327 938.9,1320.1 940.2,1313.2 941.5,1316.6 942.9,1320.1 944.2,1323.5 945.6,1316.6 946.9,1320.1 948.3,1327 949.6,1313.2 950.9,1327 952.3,1320.1 953.6,1316.6 955,1327 956.3,1320.1 957.6,1316.6 959,1323.5 960.3,1323.5 961.7,1320.1 963,1313.2 964.3,1320.1 965.7,1323.5 967,1327 968.4,1323.5 969.7,1323.5 971.1,1313.2 972.4,1320.1 973.7,1313.2 975.1,1313.2 976.4,1323.5 977.8,1320.1 979.1,1323.5 980.4,1323.5 981.8,1327 983.1,1320.1 984.5,1323.5 985.8,1320.1 987.1,1316.6 988.5,1323.5 989.8,1313.2 991.2,1323.5 992.5,1327 993.8,1327 995.2,1306.3 996.5,1323.5 997.9,1316.6 999.2,1320.1 1000.6,1323.5 1001.9,1323.5 1003.2,1323.5 1004.6,1313.2 1005.9,1316.6 1007.3,1309.8 1008.6,1295.9 1009.9,1282.1 1011.3,1278.7 1012.6,1254.5 1014,1223.5 1015.3,1261.5 1016.6,1209.7 1018,1202.8 1019.3,1240.8 1020.7,1268.3 1022,1223.5 1023.4,1244.2 1024.7,1209.7 1026,1271.8 1027.4,1289 1028.7,1316.6 1030.1,1320.1 1031.4,1323.5 1032.7,1323.5 1034.1,1323.5 1035.4,1323.5 1036.8,1320.1 1038.1,1313.2 1039.4,1313.2 1040.8,1316.6 1042.1,1320.1 1043.5,1313.2 1044.8,1316.6 1046.2,1316.6 1047.5,1320.1 1048.8,1323.5 1050.2,1320.1 1051.5,1327 1052.9,1316.6 1054.2,1320.1 1055.5,1316.6 1056.9,1323.5 1058.2,1323.5 1059.6,1316.6 1060.9,1327 1062.2,1323.5 1063.6,1320.1 1064.9,1313.2 1066.3,1320.1 1067.6,1323.5 1069,1327 1070.3,1327 1071.6,1323.5 1073,1327 1074.3,1327 1075.7,1309.8 1077,1323.5 1078.3,1316.6 1079.7,1320.1 1081,1320.1 1082.4,1316.6 1083.7,1313.2 1085,1320.1 1086.4,1309.8 1087.7,1309.8 1089.1,1299.4 1090.4,1313.2 1091.7,1309.8 1093.1,1316.6 1094.4,1316.6 1095.8,1313.2 1097.1,1323.5 1098.5,1313.2 1099.8,1323.5 1101.1,1313.2 1102.5,1313.2 1103.8,1323.5 1105.2,1327 1106.5,1306.3 1107.8,1320.1 1109.2,1327 1110.5,1320.1 1111.9,1327 1113.2,1320.1 1114.5,1316.6 1115.9,1323.5 1117.2,1323.5 1118.6,1320.1 1119.9,1320.1 1121.3,1316.6 1122.6,1316.6 1123.9,1313.2 1125.3,1316.6 1126.6,1323.5 1128,1327 1129.3,1320.1 1130.6,1316.6 1132,1320.1 1133.3,1323.5 1134.7,1306.3 1136,1323.5 1137.3,1320.1 1138.7,1320.1 1140,1323.5 1141.4,1323.5 1142.7,1323.5 1144.1,1323.5 1145.4,1323.5 1146.7,1316.6 1148.1,1320.1 1149.4,1309.8 1150.8,1313.2 1152.1,1316.6 1153.4,1320.1 1154.8,1309.8 1156.1,1323.5 1157.5,1320.1 1158.8,1316.6 1160.1,1316.6 1161.5,1316.6 1162.8,1320.1 1164.2,1323.5 1165.5,1323.5 1166.9,1320.1 1168.2,1323.5 1169.5,1320.1 1170.9,1320.1 1172.2,1309.8 1173.6,1320.1 1174.9,1320.1 1176.2,1313.2 1177.6,1327 1178.9,1320.1 1180.3,1316.6 1181.6,1320.1 1182.9,1316.6 1184.3,1313.2 1185.6,1323.5 1187,1320.1 1188.3,1316.6 1189.6,1316.6 1191,1323.5 1192.3,1327 1193.7,1327 1195,1316.6 1196.4,1320.1 1197.7,1323.5 1199,1309.8 1200.4,1302.8 1201.7,1292.5 1203.1,1306.3 1204.4,1295.9 1205.7,1278.7 1207.1,1268.3 1208.4,1275.2 1209.8,1302.8 1211.1,1299.4 1212.4,1316.6 1213.8,1306.3 1215.1,1313.2 1216.5,1320.1 1217.8,1320.1 1219.2,1316.6 1220.5,1316.6 1221.8,1323.5 1223.2,1327 1224.5,1327 1225.9,1316.6 1227.2,1313.2 1228.5,1309.8 1229.9,1316.6 1231.2,1313.2 1232.6,1320.1 1233.9,1309.8 1235.2,1316.6 1236.6,1313.2 1237.9,1302.8 1239.3,1302.8 1240.6,1306.3 1242,1306.3 1243.3,1316.6 1244.6,1316.6 1246,1309.8 1247.3,1299.4 1248.7,1299.4 1250,1302.8 1251.3,1302.8 1252.7,1292.5 1254,1295.9 1255.4,1292.5 1256.7,1275.2 1258,1268.3 1259.4,1302.8 1260.7,1299.4 1262.1,1278.7 1263.4,1285.6 1264.8,1289 1266.1,1302.8 1267.4,1309.8 1268.8,1320.1 1270.1,1323.5 1271.5,1316.6 1272.8,1313.2 1274.1,1313.2 1275.5,1313.2 1276.8,1313.2 1278.2,1306.3 1279.5,1299.4 1280.8,1309.8 1282.2,1302.8 1283.5,1289 1284.9,1302.8 1286.2,1295.9 1287.5,1299.4 1288.9,1302.8 1290.2,1306.3 1291.6,1313.2 1292.9,1309.8 1294.3,1313.2 1295.6,1316.6 1296.9,1309.8 1298.3,1313.2 1299.6,1320.1 1301,1313.2 1302.3,1316.6 1303.6,1320.1 1305,1316.6 1306.3,1320.1 1307.7,1323.5 1309,1323.5 1310.3,1327 1311.7,1309.8 1313,1327 1314.4,1327 1315.7,1320.1 1317.1,1327 1318.4,1323.5 1319.7,1327 1321.1,1323.5 1322.4,1323.5 1323.8,1323.5 1325.1,1320.1 1326.4,1323.5 1327.8,1323.5 1329.1,1327 1330.5,1327 1331.8,1327 1333.1,1327 1334.5,1327 1335.8,1327 1337.2,1327 1338.5,1327 1339.9,1327 1341.2,1327 1342.5,1327 1343.9,1327 1345.2,1327 1346.6,1327 1347.9,1327 1349.2,1323.5 1350.6,1327 1351.9,1327 1353.3,1327 1354.6,1327 1355.9,1323.5 1357.3,1327 1358.6,1327 1360,1327 1361.3,1327 1362.7,1327 1364,1327 1365.3,1323.5 1366.7,1316.6 1368,1316.6 1369.4,1323.5 1370.7,1320.1 1372,1316.6 1373.4,1316.6 1374.7,1316.6 1376.1,1309.8 1377.4,1295.9 1378.7,1289 1380.1,1271.8 1381.4,1264.9 1382.8,1233.8 1384.1,1275.2 1385.4,1271.8 1386.8,1292.5 1388.1,1295.9 1389.5,1313.2 1390.8,1313.2 1392.2,1316.6 1393.5,1316.6 1394.8,1323.5 1396.2,1320.1 1397.5,1309.8 1398.9,1320.1 1400.2,1327 1401.5,1323.5 1402.9,1316.6 1404.2,1323.5 1405.6,1323.5 1406.9,1309.8 1408.2,1316.6 1409.6,1320.1 1410.9,1320.1 1412.3,1313.2 1413.6,1320.1 1415,1313.2 1416.3,1323.5 1417.6,1327 1419,1323.5 1420.3,1316.6 1421.7,1316.6 1423,1316.6L1423,1327"/><path id="p8" d="M271,1481L271,1476.9 272.3,1481 273.7,1464.8 275,1476.9 276.4,1476.9 277.7,1468.8 279,1468.8 280.4,1468.8 281.7,1468.8 283.1,1476.9 284.4,1468.8 285.8,1468.8 287.1,1468.8 288.4,1476.9 289.8,1468.8 291.1,1472.9 292.5,1468.8 293.8,1481 295.1,1472.9 296.5,1472.9 297.8,1476.9 299.2,1476.9 300.5,1472.9 301.8,1472.9 303.2,1481 304.5,1476.9 305.9,1476.9 307.2,1481 308.6,1472.9 309.9,1476.9 311.2,1468.8 312.6,1481 313.9,1476.9 315.3,1481 316.6,1472.9 317.9,1472.9 319.3,1481 320.6,1476.9 322,1472.9 323.3,1481 324.6,1481 326,1472.9 327.3,1476.9 328.7,1481 330,1460.7 331.3,1468.8 332.7,1476.9 334,1481 335.4,1472.9 336.7,1476.9 338.1,1476.9 339.4,1476.9 340.7,1472.9 342.1,1476.9 343.4,1468.8 344.8,1481 346.1,1468.8 347.4,1481 348.8,1472.9 350.1,1481 351.5,1476.9 352.8,1468.8 354.1,1481 355.5,1472.9 356.8,1481 358.2,1481 359.5,1476.9 360.9,1472.9 362.2,1472.9 363.5,1472.9 364.9,1481 366.2,1468.8 367.6,1464.8 368.9,1481 370.2,1481 371.6,1476.9 372.9,1472.9 374.3,1476.9 375.6,1476.9 376.9,1472.9 378.3,1476.9 379.6,1481 381,1481 382.3,1476.9 383.7,1472.9 385,1468.8 386.3,1464.8 387.7,1468.8 389,1460.7 390.4,1464.8 391.7,1460.7 393,1464.8 394.4,1460.7 395.7,1468.8 397.1,1460.7 398.4,1460.7 399.7,1468.8 401.1,1476.9 402.4,1468.8 403.8,1468.8 405.1,1464.8 406.5,1468.8 407.8,1464.8 409.1,1472.9 410.5,1468.8 411.8,1468.8 413.2,1464.8 414.5,1452.6 415.8,1456.6 417.2,1448.5 418.5,1436.4 419.9,1452.6 421.2,1395.8 422.5,1379.5 423.9,1416.1 425.2,1436.4 426.6,1448.5 427.9,1440.4 429.2,1448.5 430.6,1460.7 431.9,1460.7 433.3,1452.6 434.6,1456.6 436,1452.6 437.3,1448.5 438.6,1395.8 440,1391.7 441.3,1424.2 442.7,1424.2 444,1391.7 445.3,1391.7 446.7,1399.8 448,1407.9 449.4,1407.9 450.7,1416.1 452,1464.8 453.4,1452.6 454.7,1456.6 456.1,1472.9 457.4,1468.8 458.8,1472.9 460.1,1476.9 461.4,1476.9 462.8,1468.8 464.1,1481 465.5,1464.8 466.8,1464.8 468.1,1468.8 469.5,1472.9 470.8,1481 472.2,1476.9 473.5,1460.7 474.8,1460.7 476.2,1468.8 477.5,1472.9 478.9,1476.9 480.2,1476.9 481.6,1481 482.9,1460.7 484.2,1460.7 485.6,1472.9 486.9,1468.8 488.3,1472.9 489.6,1472.9 490.9,1464.8 492.3,1476.9 493.6,1456.6 495,1476.9 496.3,1460.7 497.6,1464.8 499,1472.9 500.3,1472.9 501.7,1472.9 503,1476.9 504.4,1464.8 505.7,1456.6 507,1452.6 508.4,1468.8 509.7,1468.8 511.1,1472.9 512.4,1460.7 513.7,1468.8 515.1,1468.8 516.4,1481 517.8,1481 519.1,1464.8 520.4,1468.8 521.8,1481 523.1,1456.6 524.5,1476.9 525.8,1464.8 527.1,1481 528.5,1472.9 529.8,1456.6 531.2,1472.9 532.5,1464.8 533.9,1476.9 535.2,1481 536.5,1472.9 537.9,1476.9 539.2,1476.9 540.6,1481 541.9,1456.6 543.2,1472.9 544.6,1476.9 545.9,1481 547.3,1481 548.6,1468.8 549.9,1476.9 551.3,1481 552.6,1460.7 554,1481 555.3,1472.9 556.7,1476.9 558,1468.8 559.3,1481 560.7,1472.9 562,1468.8 563.4,1481 564.7,1468.8 566,1481 567.4,1468.8 568.7,1481 570.1,1476.9 571.4,1476.9 572.7,1472.9 574.1,1472.9 575.4,1476.9 576.8,1476.9 578.1,1472.9 579.5,1481 580.8,1481 582.1,1476.9 583.5,1481 584.8,1472.9 586.2,1468.8 587.5,1464.8 588.8,1476.9 590.2,1481 591.5,1481 592.9,1476.9 594.2,1476.9 595.5,1472.9 596.9,1464.8 598.2,1476.9 599.6,1481 600.9,1481 602.3,1481 603.6,1468.8 604.9,1476.9 606.3,1472.9 607.6,1468.8 609,1456.6 610.3,1464.8 611.6,1476.9 613,1476.9 614.3,1456.6 615.7,1464.8 617,1468.8 618.3,1481 619.7,1460.7 621,1460.7 622.4,1448.5 623.7,1464.8 625,1481 626.4,1472.9 627.7,1464.8 629.1,1460.7 630.4,1444.5 631.8,1468.8 633.1,1472.9 634.4,1472.9 635.8,1476.9 637.1,1456.6 638.5,1472.9 639.8,1472.9 641.1,1468.8 642.5,1468.8 643.8,1456.6 645.2,1468.8 646.5,1476.9 647.8,1456.6 649.2,1460.7 650.5,1472.9 651.9,1456.6 653.2,1468.8 654.6,1476.9 655.9,1472.9 657.2,1481 658.6,1476.9 659.9,1476.9 661.3,1476.9 662.6,1468.8 663.9,1468.8 665.3,1476.9 666.6,1472.9 668,1476.9 669.3,1472.9 670.6,1464.8 672,1476.9 673.3,1472.9 674.7,1481 676,1464.8 677.4,1472.9 678.7,1472.9 680,1460.7 681.4,1472.9 682.7,1460.7 684.1,1481 685.4,1476.9 686.7,1468.8 688.1,1476.9 689.4,1481 690.8,1476.9 692.1,1481 693.4,1476.9 694.8,1481 696.1,1472.9 697.5,1481 698.8,1476.9 700.2,1476.9 701.5,1472.9 702.8,1468.8 704.2,1464.8 705.5,1476.9 706.9,1468.8 708.2,1476.9 709.5,1464.8 710.9,1476.9 712.2,1472.9 713.6,1456.6 714.9,1472.9 716.2,1476.9 717.6,1468.8 718.9,1472.9 720.3,1460.7 721.6,1476.9 722.9,1481 724.3,1468.8 725.6,1476.9 727,1476.9 728.3,1472.9 729.7,1468.8 731,1472.9 732.3,1476.9 733.7,1476.9 735,1468.8 736.4,1476.9 737.7,1468.8 739,1468.8 740.4,1476.9 741.7,1472.9 743.1,1468.8 744.4,1481 745.7,1481 747.1,1472.9 748.4,1464.8 749.8,1476.9 751.1,1476.9 752.5,1472.9 753.8,1472.9 755.1,1476.9 756.5,1472.9 757.8,1468.8 759.2,1472.9 760.5,1472.9 761.8,1481 763.2,1472.9 764.5,1468.8 765.9,1464.8 767.2,1481 768.5,1468.8 769.9,1472.9 771.2,1464.8 772.6,1476.9 773.9,1476.9 775.3,1472.9 776.6,1468.8 777.9,1472.9 779.3,1464.8 780.6,1460.7 782,1481 783.3,1476.9 784.6,1468.8 786,1472.9 787.3,1472.9 788.7,1476.9 790,1468.8 791.3,1468.8 792.7,1476.9 794,1460.7 795.4,1472.9 796.7,1472.9 798.1,1481 799.4,1472.9 800.7,1472.9 802.1,1476.9 803.4,1476.9 804.8,1476.9 806.1,1472.9 807.4,1468.8 808.8,1476.9 810.1,1481 811.5,1476.9 812.8,1464.8 814.1,1464.8 815.5,1464.8 816.8,1472.9 818.2,1460.7 819.5,1468.8 820.8,1472.9 822.2,1476.9 823.5,1464.8 824.9,1472.9 826.2,1468.8 827.6,1464.8 828.9,1476.9 830.2,1472.9 831.6,1472.9 832.9,1476.9 834.3,1468.8 835.6,1476.9 836.9,1468.8 838.3,1472.9 839.6,1468.8 841,1476.9 842.3,1476.9 843.6,1468.8 845,1472.9 846.3,1460.7 847.7,1472.9 849,1468.8 850.4,1468.8 851.7,1468.8 853,1476.9 854.4,1468.8 855.7,1476.9 857.1,1476.9 858.4,1468.8 859.7,1472.9 861.1,1476.9 862.4,1472.9 863.8,1481 865.1,1472.9 866.4,1481 867.8,1481 869.1,1476.9 870.5,1481 871.8,1468.8 873.2,1476.9 874.5,1468.8 875.8,1460.7 877.2,1481 878.5,1481 879.9,1476.9 881.2,1468.8 882.5,1481 883.9,1481 885.2,1472.9 886.6,1476.9 887.9,1472.9 889.2,1460.7 890.6,1472.9 891.9,1464.8 893.3,1464.8 894.6,1472.9 895.9,1476.9 897.3,1481 898.6,1472.9 900,1464.8 901.3,1481 902.7,1476.9 904,1464.8 905.3,1468.8 906.7,1460.7 908,1468.8 909.4,1468.8 910.7,1468.8 912,1468.8 913.4,1464.8 914.7,1464.8 916.1,1456.6 917.4,1468.8 918.7,1460.7 920.1,1436.4 921.4,1452.6 922.8,1464.8 924.1,1476.9 925.5,1468.8 926.8,1468.8 928.1,1460.7 929.5,1472.9 930.8,1472.9 932.2,1444.5 933.5,1464.8 934.8,1468.8 936.2,1472.9 937.5,1468.8 938.9,1456.6 940.2,1472.9 941.5,1468.8 942.9,1456.6 944.2,1468.8 945.6,1476.9 946.9,1464.8 948.3,1464.8 949.6,1456.6 950.9,1468.8 952.3,1460.7 953.6,1472.9 955,1464.8 956.3,1476.9 957.6,1472.9 959,1472.9 960.3,1476.9 961.7,1476.9 963,1468.8 964.3,1472.9 965.7,1476.9 967,1472.9 968.4,1460.7 969.7,1472.9 971.1,1476.9 972.4,1468.8 973.7,1481 975.1,1464.8 976.4,1472.9 977.8,1460.7 979.1,1476.9 980.4,1464.8 981.8,1472.9 983.1,1472.9 984.5,1472.9 985.8,1481 987.1,1468.8 988.5,1468.8 989.8,1476.9 991.2,1460.7 992.5,1476.9 993.8,1468.8 995.2,1476.9 996.5,1472.9 997.9,1464.8 999.2,1464.8 1000.6,1456.6 1001.9,1468.8 1003.2,1468.8 1004.6,1460.7 1005.9,1460.7 1007.3,1448.5 1008.6,1436.4 1009.9,1424.2 1011.3,1420.1 1012.6,1416.1 1014,1436.4 1015.3,1403.9 1016.6,1412 1018,1355.2 1019.3,1387.6 1020.7,1387.6 1022,1416.1 1023.4,1343 1024.7,1412 1026,1436.4 1027.4,1448.5 1028.7,1460.7 1030.1,1464.8 1031.4,1468.8 1032.7,1472.9 1034.1,1468.8 1035.4,1464.8 1036.8,1481 1038.1,1472.9 1039.4,1468.8 1040.8,1476.9 1042.1,1472.9 1043.5,1472.9 1044.8,1481 1046.2,1468.8 1047.5,1468.8 1048.8,1476.9 1050.2,1464.8 1051.5,1476.9 1052.9,1460.7 1054.2,1472.9 1055.5,1468.8 1056.9,1464.8 1058.2,1468.8 1059.6,1468.8 1060.9,1464.8 1062.2,1472.9 1063.6,1476.9 1064.9,1464.8 1066.3,1476.9 1067.6,1476.9 1069,1472.9 1070.3,1481 1071.6,1481 1073,1476.9 1074.3,1472.9 1075.7,1476.9 1077,1481 1078.3,1476.9 1079.7,1481 1081,1468.8 1082.4,1468.8 1083.7,1460.7 1085,1472.9 1086.4,1464.8 1087.7,1460.7 1089.1,1464.8 1090.4,1456.6 1091.7,1460.7 1093.1,1472.9 1094.4,1468.8 1095.8,1464.8 1097.1,1468.8 1098.5,1468.8 1099.8,1468.8 1101.1,1476.9 1102.5,1468.8 1103.8,1472.9 1105.2,1481 1106.5,1464.8 1107.8,1476.9 1109.2,1476.9 1110.5,1456.6 1111.9,1472.9 1113.2,1468.8 1114.5,1468.8 1115.9,1464.8 1117.2,1464.8 1118.6,1468.8 1119.9,1472.9 1121.3,1464.8 1122.6,1464.8 1123.9,1472.9 1125.3,1481 1126.6,1472.9 1128,1476.9 1129.3,1476.9 1130.6,1472.9 1132,1472.9 1133.3,1468.8 1134.7,1464.8 1136,1468.8 1137.3,1472.9 1138.7,1476.9 1140,1468.8 1141.4,1460.7 1142.7,1468.8 1144.1,1472.9 1145.4,1472.9 1146.7,1476.9 1148.1,1468.8 1149.4,1481 1150.8,1456.6 1152.1,1472.9 1153.4,1468.8 1154.8,1481 1156.1,1476.9 1157.5,1464.8 1158.8,1481 1160.1,1468.8 1161.5,1468.8 1162.8,1468.8 1164.2,1460.7 1165.5,1472.9 1166.9,1472.9 1168.2,1460.7 1169.5,1468.8 1170.9,1481 1172.2,1472.9 1173.6,1472.9 1174.9,1472.9 1176.2,1468.8 1177.6,1468.8 1178.9,1464.8 1180.3,1456.6 1181.6,1476.9 1182.9,1481 1184.3,1472.9 1185.6,1460.7 1187,1481 1188.3,1476.9 1189.6,1472.9 1191,1472.9 1192.3,1472.9 1193.7,1476.9 1195,1464.8 1196.4,1472.9 1197.7,1472.9 1199,1472.9 1200.4,1464.8 1201.7,1456.6 1203.1,1472.9 1204.4,1448.5 1205.7,1444.5 1207.1,1444.5 1208.4,1456.6 1209.8,1456.6 1211.1,1456.6 1212.4,1456.6 1213.8,1468.8 1215.1,1464.8 1216.5,1468.8 1217.8,1472.9 1219.2,1476.9 1220.5,1464.8 1221.8,1456.6 1223.2,1460.7 1224.5,1481 1225.9,1476.9 1227.2,1468.8 1228.5,1476.9 1229.9,1464.8 1231.2,1481 1232.6,1460.7 1233.9,1464.8 1235.2,1448.5 1236.6,1448.5 1237.9,1468.8 1239.3,1460.7 1240.6,1460.7 1242,1472.9 1243.3,1472.9 1244.6,1464.8 1246,1464.8 1247.3,1468.8 1248.7,1468.8 1250,1456.6 1251.3,1444.5 1252.7,1432.3 1254,1444.5 1255.4,1424.2 1256.7,1452.6 1258,1460.7 1259.4,1476.9 1260.7,1460.7 1262.1,1464.8 1263.4,1460.7 1264.8,1460.7 1266.1,1448.5 1267.4,1456.6 1268.8,1468.8 1270.1,1468.8 1271.5,1468.8 1272.8,1468.8 1274.1,1468.8 1275.5,1476.9 1276.8,1472.9 1278.2,1472.9 1279.5,1464.8 1280.8,1468.8 1282.2,1456.6 1283.5,1468.8 1284.9,1456.6 1286.2,1460.7 1287.5,1468.8 1288.9,1468.8 1290.2,1456.6 1291.6,1460.7 1292.9,1464.8 1294.3,1468.8 1295.6,1472.9 1296.9,1468.8 1298.3,1468.8 1299.6,1481 1301,1460.7 1302.3,1472.9 1303.6,1452.6 1305,1481 1306.3,1464.8 1307.7,1464.8 1309,1468.8 1310.3,1468.8 1311.7,1468.8 1313,1452.6 1314.4,1472.9 1315.7,1481 1317.1,1460.7 1318.4,1468.8 1319.7,1468.8 1321.1,1476.9 1322.4,1464.8 1323.8,1476.9 1325.1,1476.9 1326.4,1476.9 1327.8,1481 1329.1,1481 1330.5,1481 1331.8,1481 1333.1,1481 1334.5,1476.9 1335.8,1472.9 1337.2,1476.9 1338.5,1481 1339.9,1481 1341.2,1481 1342.5,1481 1343.9,1481 1345.2,1481 1346.6,1476.9 1347.9,1476.9 1349.2,1476.9 1350.6,1476.9 1351.9,1481 1353.3,1481 1354.6,1481 1355.9,1481 1357.3,1481 1358.6,1481 1360,1481 1361.3,1481 1362.7,1481 1364,1481 1365.3,1481 1366.7,1476.9 1368,1472.9 1369.4,1472.9 1370.7,1468.8 1372,1468.8 1373.4,1476.9 1374.7,1464.8 1376.1,1464.8 1377.4,1452.6 1378.7,1456.6 1380.1,1444.5 1381.4,1468.8 1382.8,1452.6 1384.1,1448.5 1385.4,1452.6 1386.8,1456.6 1388.1,1464.8 1389.5,1468.8 1390.8,1464.8 1392.2,1472.9 1393.5,1468.8 1394.8,1472.9 1396.2,1460.7 1397.5,1468.8 1398.9,1476.9 1400.2,1481 1401.5,1460.7 1402.9,1468.8 1404.2,1452.6 1405.6,1481 1406.9,1468.8 1408.2,1460.7 1409.6,1468.8 1410.9,1468.8 1412.3,1472.9 1413.6,1464.8 1415,1456.6 1416.3,1468.8 1417.6,1481 1419,1460.7 1420.3,1472.9 1421.7,1468.8 1423,1476.9L1423,1481"/><path id="p9" d="M271,1635L271,1626.9 272.3,1629.6 273.7,1635 275,1624.2 276.4,1626.9 277.7,1626.9 279,1629.6 280.4,1629.6 281.7,1632.3 283.1,1629.6 284.4,1621.5 285.8,1616.1 287.1,1626.9 288.4,1632.3 289.8,1632.3 291.1,1629.6 292.5,1629.6 293.8,1626.9 295.1,1626.9 296.5,1629.6 297.8,1635 299.2,1629.6 300.5,1629.6 301.8,1629.6 303.2,1629.6 304.5,1632.3 305.9,1635 307.2,1626.9 308.6,1621.5 309.9,1635 311.2,1632.3 312.6,1626.9 313.9,1626.9 315.3,1629.6 316.6,1629.6 317.9,1629.6 319.3,1632.3 320.6,1635 322,1632.3 323.3,1629.6 324.6,1626.9 326,1632.3 327.3,1629.6 328.7,1635 330,1629.6 331.3,1629.6 332.7,1632.3 334,1626.9 335.4,1632.3 336.7,1629.6 338.1,1632.3 339.4,1629.6 340.7,1629.6 342.1,1626.9 343.4,1635 344.8,1635 346.1,1632.3 347.4,1629.6 348.8,1632.3 350.1,1632.3 351.5,1629.6 352.8,1629.6 354.1,1629.6 355.5,1629.6 356.8,1629.6 358.2,1632.3 359.5,1629.6 360.9,1629.6 362.2,1632.3 363.5,1632.3 364.9,1632.3 366.2,1635 367.6,1635 368.9,1629.6 370.2,1626.9 371.6,1629.6 372.9,1632.3 374.3,1626.9 375.6,1629.6 376.9,1624.2 378.3,1632.3 379.6,1632.3 381,1635 382.3,1635 383.7,1626.9 385,1629.6 386.3,1635 387.7,1629.6 389,1624.2 390.4,1629.6 391.7,1629.6 393,1624.2 394.4,1621.5 395.7,1618.8 397.1,1626.9 398.4,1626.9 399.7,1624.2 401.1,1626.9 402.4,1624.2 403.8,1621.5 405.1,1618.8 406.5,1618.8 407.8,1621.5 409.1,1621.5 410.5,1624.2 411.8,1626.9 413.2,1613.4 414.5,1602.5 415.8,1589 417.2,1583.6 418.5,1561.9 419.9,1589 421.2,1534.9 422.5,1589 423.9,1572.8 425.2,1602.5 426.6,1586.3 427.9,1602.5 429.2,1607.9 430.6,1616.1 431.9,1618.8 433.3,1618.8 434.6,1599.8 436,1605.2 437.3,1589 438.6,1575.5 440,1575.5 441.3,1556.5 442.7,1529.5 444,1513.2 445.3,1559.2 446.7,1534.9 448,1570.1 449.4,1564.6 450.7,1580.9 452,1594.4 453.4,1607.9 454.7,1610.6 456.1,1621.5 457.4,1632.3 458.8,1629.6 460.1,1632.3 461.4,1632.3 462.8,1632.3 464.1,1629.6 465.5,1626.9 466.8,1635 468.1,1629.6 469.5,1632.3 470.8,1626.9 472.2,1629.6 473.5,1632.3 474.8,1629.6 476.2,1626.9 477.5,1635 478.9,1629.6 480.2,1629.6 481.6,1626.9 482.9,1632.3 484.2,1629.6 485.6,1626.9 486.9,1632.3 488.3,1632.3 489.6,1626.9 490.9,1635 492.3,1629.6 493.6,1626.9 495,1626.9 496.3,1621.5 497.6,1626.9 499,1629.6 500.3,1626.9 501.7,1635 503,1621.5 504.4,1613.4 505.7,1610.6 507,1626.9 508.4,1635 509.7,1626.9 511.1,1635 512.4,1626.9 513.7,1624.2 515.1,1621.5 516.4,1632.3 517.8,1635 519.1,1624.2 520.4,1635 521.8,1624.2 523.1,1635 524.5,1635 525.8,1629.6 527.1,1624.2 528.5,1626.9 529.8,1629.6 531.2,1613.4 532.5,1624.2 533.9,1635 535.2,1632.3 536.5,1618.8 537.9,1626.9 539.2,1635 540.6,1635 541.9,1626.9 543.2,1626.9 544.6,1632.3 545.9,1635 547.3,1624.2 548.6,1621.5 549.9,1599.8 551.3,1626.9 552.6,1621.5 554,1635 555.3,1626.9 556.7,1629.6 558,1632.3 559.3,1624.2 560.7,1635 562,1635 563.4,1632.3 564.7,1632.3 566,1629.6 567.4,1624.2 568.7,1635 570.1,1626.9 571.4,1632.3 572.7,1621.5 574.1,1629.6 575.4,1624.2 576.8,1626.9 578.1,1629.6 579.5,1635 580.8,1635 582.1,1632.3 583.5,1616.1 584.8,1624.2 586.2,1624.2 587.5,1629.6 588.8,1624.2 590.2,1621.5 591.5,1616.1 592.9,1626.9 594.2,1624.2 595.5,1616.1 596.9,1624.2 598.2,1626.9 599.6,1621.5 600.9,1618.8 602.3,1626.9 603.6,1626.9 604.9,1626.9 606.3,1626.9 607.6,1626.9 609,1629.6 610.3,1618.8 611.6,1618.8 613,1618.8 614.3,1624.2 615.7,1616.1 617,1632.3 618.3,1626.9 619.7,1635 621,1618.8 622.4,1616.1 623.7,1624.2 625,1626.9 626.4,1621.5 627.7,1624.2 629.1,1626.9 630.4,1626.9 631.8,1629.6 633.1,1629.6 634.4,1632.3 635.8,1629.6 637.1,1629.6 638.5,1629.6 639.8,1626.9 641.1,1602.5 642.5,1607.9 643.8,1616.1 645.2,1626.9 646.5,1629.6 647.8,1635 649.2,1626.9 650.5,1624.2 651.9,1626.9 653.2,1624.2 654.6,1621.5 655.9,1635 657.2,1632.3 658.6,1626.9 659.9,1635 661.3,1626.9 662.6,1629.6 663.9,1629.6 665.3,1632.3 666.6,1632.3 668,1632.3 669.3,1635 670.6,1632.3 672,1629.6 673.3,1632.3 674.7,1635 676,1626.9 677.4,1629.6 678.7,1626.9 680,1629.6 681.4,1624.2 682.7,1629.6 684.1,1632.3 685.4,1632.3 686.7,1626.9 688.1,1629.6 689.4,1629.6 690.8,1626.9 692.1,1635 693.4,1629.6 694.8,1626.9 696.1,1632.3 697.5,1629.6 698.8,1626.9 700.2,1635 701.5,1621.5 702.8,1626.9 704.2,1629.6 705.5,1629.6 706.9,1629.6 708.2,1629.6 709.5,1629.6 710.9,1629.6 712.2,1629.6 713.6,1635 714.9,1632.3 716.2,1626.9 717.6,1629.6 718.9,1635 720.3,1629.6 721.6,1632.3 722.9,1629.6 724.3,1629.6 725.6,1626.9 727,1629.6 728.3,1629.6 729.7,1632.3 731,1632.3 732.3,1635 733.7,1629.6 735,1626.9 736.4,1632.3 737.7,1632.3 739,1632.3 740.4,1629.6 741.7,1635 743.1,1629.6 744.4,1624.2 745.7,1621.5 747.1,1635 748.4,1626.9 749.8,1632.3 751.1,1624.2 752.5,1624.2 753.8,1626.9 755.1,1621.5 756.5,1632.3 757.8,1624.2 759.2,1629.6 760.5,1632.3 761.8,1632.3 763.2,1632.3 764.5,1632.3 765.9,1632.3 767.2,1635 768.5,1632.3 769.9,1629.6 771.2,1624.2 772.6,1632.3 773.9,1632.3 775.3,1629.6 776.6,1626.9 777.9,1629.6 779.3,1624.2 780.6,1632.3 782,1629.6 783.3,1629.6 784.6,1635 786,1629.6 787.3,1632.3 788.7,1626.9 790,1624.2 791.3,1632.3 792.7,1626.9 794,1632.3 795.4,1632.3 796.7,1629.6 798.1,1624.2 799.4,1629.6 800.7,1632.3 802.1,1629.6 803.4,1632.3 804.8,1629.6 806.1,1632.3 807.4,1632.3 808.8,1629.6 810.1,1629.6 811.5,1632.3 812.8,1632.3 814.1,1632.3 815.5,1632.3 816.8,1621.5 818.2,1629.6 819.5,1635 820.8,1635 822.2,1632.3 823.5,1632.3 824.9,1629.6 826.2,1635 827.6,1635 828.9,1629.6 830.2,1635 831.6,1629.6 832.9,1632.3 834.3,1626.9 835.6,1629.6 836.9,1632.3 838.3,1635 839.6,1632.3 841,1626.9 842.3,1624.2 843.6,1624.2 845,1624.2 846.3,1632.3 847.7,1626.9 849,1621.5 850.4,1632.3 851.7,1624.2 853,1632.3 854.4,1624.2 855.7,1621.5 857.1,1632.3 858.4,1629.6 859.7,1632.3 861.1,1632.3 862.4,1632.3 863.8,1624.2 865.1,1624.2 866.4,1624.2 867.8,1626.9 869.1,1624.2 870.5,1632.3 871.8,1635 873.2,1626.9 874.5,1629.6 875.8,1632.3 877.2,1629.6 878.5,1632.3 879.9,1626.9 881.2,1635 882.5,1629.6 883.9,1629.6 885.2,1629.6 886.6,1632.3 887.9,1632.3 889.2,1621.5 890.6,1621.5 891.9,1635 893.3,1626.9 894.6,1626.9 895.9,1635 897.3,1621.5 898.6,1626.9 900,1621.5 901.3,1624.2 902.7,1626.9 904,1624.2 905.3,1629.6 906.7,1624.2 908,1632.3 909.4,1621.5 910.7,1624.2 912,1624.2 913.4,1626.9 914.7,1618.8 916.1,1632.3 917.4,1626.9 918.7,1618.8 920.1,1618.8 921.4,1624.2 922.8,1629.6 924.1,1626.9 925.5,1632.3 926.8,1629.6 928.1,1626.9 929.5,1626.9 930.8,1626.9 932.2,1629.6 933.5,1629.6 934.8,1626.9 936.2,1629.6 937.5,1626.9 938.9,1629.6 940.2,1626.9 941.5,1629.6 942.9,1629.6 944.2,1626.9 945.6,1626.9 946.9,1626.9 948.3,1626.9 949.6,1626.9 950.9,1624.2 952.3,1624.2 953.6,1621.5 955,1629.6 956.3,1624.2 957.6,1626.9 959,1613.4 960.3,1624.2 961.7,1635 963,1635 964.3,1629.6 965.7,1624.2 967,1621.5 968.4,1610.6 969.7,1618.8 971.1,1626.9 972.4,1629.6 973.7,1635 975.1,1629.6 976.4,1635 977.8,1635 979.1,1635 980.4,1635 981.8,1626.9 983.1,1629.6 984.5,1632.3 985.8,1632.3 987.1,1626.9 988.5,1624.2 989.8,1629.6 991.2,1629.6 992.5,1626.9 993.8,1626.9 995.2,1626.9 996.5,1624.2 997.9,1629.6 999.2,1632.3 1000.6,1621.5 1001.9,1626.9 1003.2,1632.3 1004.6,1618.8 1005.9,1613.4 1007.3,1594.4 1008.6,1605.2 1009.9,1605.2 1011.3,1570.1 1012.6,1583.6 1014,1586.3 1015.3,1561.9 1016.6,1570.1 1018,1497 1019.3,1559.2 1020.7,1572.8 1022,1537.6 1023.4,1543 1024.7,1545.7 1026,1607.9 1027.4,1607.9 1028.7,1629.6 1030.1,1632.3 1031.4,1629.6 1032.7,1632.3 1034.1,1629.6 1035.4,1632.3 1036.8,1626.9 1038.1,1632.3 1039.4,1626.9 1040.8,1632.3 1042.1,1626.9 1043.5,1629.6 1044.8,1629.6 1046.2,1632.3 1047.5,1629.6 1048.8,1629.6 1050.2,1635 1051.5,1626.9 1052.9,1632.3 1054.2,1626.9 1055.5,1632.3 1056.9,1624.2 1058.2,1629.6 1059.6,1624.2 1060.9,1626.9 1062.2,1626.9 1063.6,1629.6 1064.9,1632.3 1066.3,1626.9 1067.6,1629.6 1069,1632.3 1070.3,1632.3 1071.6,1629.6 1073,1626.9 1074.3,1635 1075.7,1629.6 1077,1635 1078.3,1635 1079.7,1626.9 1081,1629.6 1082.4,1632.3 1083.7,1626.9 1085,1629.6 1086.4,1624.2 1087.7,1629.6 1089.1,1618.8 1090.4,1610.6 1091.7,1621.5 1093.1,1607.9 1094.4,1613.4 1095.8,1621.5 1097.1,1624.2 1098.5,1626.9 1099.8,1624.2 1101.1,1632.3 1102.5,1624.2 1103.8,1626.9 1105.2,1626.9 1106.5,1632.3 1107.8,1629.6 1109.2,1626.9 1110.5,1626.9 1111.9,1629.6 1113.2,1629.6 1114.5,1629.6 1115.9,1632.3 1117.2,1626.9 1118.6,1626.9 1119.9,1632.3 1121.3,1629.6 1122.6,1626.9 1123.9,1635 1125.3,1632.3 1126.6,1635 1128,1632.3 1129.3,1626.9 1130.6,1632.3 1132,1624.2 1133.3,1632.3 1134.7,1629.6 1136,1629.6 1137.3,1632.3 1138.7,1629.6 1140,1632.3 1141.4,1618.8 1142.7,1629.6 1144.1,1632.3 1145.4,1624.2 1146.7,1624.2 1148.1,1635 1149.4,1629.6 1150.8,1629.6 1152.1,1635 1153.4,1626.9 1154.8,1626.9 1156.1,1629.6 1157.5,1624.2 1158.8,1635 1160.1,1626.9 1161.5,1635 1162.8,1626.9 1164.2,1626.9 1165.5,1632.3 1166.9,1635 1168.2,1629.6 1169.5,1629.6 1170.9,1632.3 1172.2,1632.3 1173.6,1632.3 1174.9,1635 1176.2,1629.6 1177.6,1624.2 1178.9,1626.9 1180.3,1629.6 1181.6,1635 1182.9,1632.3 1184.3,1626.9 1185.6,1626.9 1187,1629.6 1188.3,1624.2 1189.6,1629.6 1191,1618.8 1192.3,1632.3 1193.7,1629.6 1195,1635 1196.4,1629.6 1197.7,1624.2 1199,1632.3 1200.4,1626.9 1201.7,1626.9 1203.1,1616.1 1204.4,1610.6 1205.7,1607.9 1207.1,1618.8 1208.4,1613.4 1209.8,1610.6 1211.1,1616.1 1212.4,1621.5 1213.8,1626.9 1215.1,1629.6 1216.5,1632.3 1217.8,1626.9 1219.2,1624.2 1220.5,1629.6 1221.8,1635 1223.2,1632.3 1224.5,1629.6 1225.9,1632.3 1227.2,1635 1228.5,1629.6 1229.9,1626.9 1231.2,1635 1232.6,1621.5 1233.9,1629.6 1235.2,1629.6 1236.6,1635 1237.9,1635 1239.3,1635 1240.6,1626.9 1242,1626.9 1243.3,1621.5 1244.6,1624.2 1246,1629.6 1247.3,1635 1248.7,1629.6 1250,1629.6 1251.3,1626.9 1252.7,1624.2 1254,1605.2 1255.4,1597.1 1256.7,1589 1258,1572.8 1259.4,1607.9 1260.7,1602.5 1262.1,1618.8 1263.4,1610.6 1264.8,1607.9 1266.1,1618.8 1267.4,1629.6 1268.8,1626.9 1270.1,1629.6 1271.5,1629.6 1272.8,1629.6 1274.1,1621.5 1275.5,1613.4 1276.8,1616.1 1278.2,1605.2 1279.5,1613.4 1280.8,1602.5 1282.2,1607.9 1283.5,1599.8 1284.9,1602.5 1286.2,1618.8 1287.5,1607.9 1288.9,1629.6 1290.2,1618.8 1291.6,1626.9 1292.9,1618.8 1294.3,1621.5 1295.6,1621.5 1296.9,1624.2 1298.3,1624.2 1299.6,1626.9 1301,1629.6 1302.3,1626.9 1303.6,1629.6 1305,1632.3 1306.3,1629.6 1307.7,1629.6 1309,1626.9 1310.3,1635 1311.7,1629.6 1313,1635 1314.4,1624.2 1315.7,1629.6 1317.1,1624.2 1318.4,1632.3 1319.7,1626.9 1321.1,1629.6 1322.4,1632.3 1323.8,1626.9 1325.1,1626.9 1326.4,1632.3 1327.8,1632.3 1329.1,1632.3 1330.5,1635 1331.8,1635 1333.1,1635 1334.5,1635 1335.8,1635 1337.2,1635 1338.5,1635 1339.9,1635 1341.2,1635 1342.5,1635 1343.9,1635 1345.2,1635 1346.6,1635 1347.9,1635 1349.2,1632.3 1350.6,1635 1351.9,1635 1353.3,1635 1354.6,1635 1355.9,1632.3 1357.3,1635 1358.6,1635 1360,1635 1361.3,1635 1362.7,1635 1364,1632.3 1365.3,1632.3 1366.7,1632.3 1368,1632.3 1369.4,1629.6 1370.7,1626.9 1372,1629.6 1373.4,1626.9 1374.7,1621.5 1376.1,1626.9 1377.4,1613.4 1378.7,1613.4 1380.1,1575.5 1381.4,1551.1 1382.8,1572.8 1384.1,1607.9 1385.4,1602.5 1386.8,1610.6 1388.1,1621.5 1389.5,1624.2 1390.8,1621.5 1392.2,1626.9 1393.5,1626.9 1394.8,1624.2 1396.2,1629.6 1397.5,1629.6 1398.9,1624.2 1400.2,1624.2 1401.5,1624.2 1402.9,1616.1 1404.2,1621.5 1405.6,1626.9 1406.9,1629.6 1408.2,1629.6 1409.6,1629.6 1410.9,1629.6 1412.3,1626.9 1413.6,1632.3 1415,1629.6 1416.3,1624.2 1417.6,1618.8 1419,1626.9 1420.3,1624.2 1421.7,1635 1423,1626.9L1423,1635"/><path id="p10" d="M271,1789L271,1776.5 272.3,1782.7 273.7,1776.5 275,1776.5 276.4,1782.7 277.7,1776.5 279,1770.2 280.4,1770.2 281.7,1789 283.1,1782.7 284.4,1776.5 285.8,1789 287.1,1770.2 288.4,1770.2 289.8,1776.5 291.1,1789 292.5,1776.5 293.8,1776.5 295.1,1789 296.5,1770.2 297.8,1763.9 299.2,1789 300.5,1776.5 301.8,1782.7 303.2,1782.7 304.5,1789 305.9,1789 307.2,1770.2 308.6,1770.2 309.9,1789 311.2,1770.2 312.6,1763.9 313.9,1782.7 315.3,1776.5 316.6,1782.7 317.9,1770.2 319.3,1782.7 320.6,1776.5 322,1770.2 323.3,1770.2 324.6,1782.7 326,1789 327.3,1789 328.7,1776.5 330,1770.2 331.3,1776.5 332.7,1776.5 334,1789 335.4,1782.7 336.7,1789 338.1,1789 339.4,1789 340.7,1789 342.1,1789 343.4,1789 344.8,1782.7 346.1,1789 347.4,1789 348.8,1789 350.1,1782.7 351.5,1789 352.8,1789 354.1,1782.7 355.5,1782.7 356.8,1789 358.2,1782.7 359.5,1789 360.9,1782.7 362.2,1789 363.5,1776.5 364.9,1789 366.2,1776.5 367.6,1789 368.9,1782.7 370.2,1782.7 371.6,1776.5 372.9,1782.7 374.3,1789 375.6,1782.7 376.9,1782.7 378.3,1776.5 379.6,1770.2 381,1789 382.3,1770.2 383.7,1776.5 385,1782.7 386.3,1776.5 387.7,1776.5 389,1789 390.4,1789 391.7,1738.8 393,1789 394.4,1776.5 395.7,1757.6 397.1,1757.6 398.4,1776.5 399.7,1789 401.1,1776.5 402.4,1789 403.8,1776.5 405.1,1782.7 406.5,1782.7 407.8,1782.7 409.1,1782.7 410.5,1770.2 411.8,1770.2 413.2,1763.9 414.5,1751.4 415.8,1757.6 417.2,1763.9 418.5,1738.8 419.9,1745.1 421.2,1713.7 422.5,1701.2 423.9,1745.1 425.2,1726.3 426.6,1745.1 427.9,1745.1 429.2,1757.6 430.6,1763.9 431.9,1757.6 433.3,1770.2 434.6,1763.9 436,1763.9 437.3,1745.1 438.6,1757.6 440,1694.9 441.3,1757.6 442.7,1651 444,1707.5 445.3,1713.7 446.7,1726.3 448,1682.4 449.4,1770.2 450.7,1770.2 452,1757.6 453.4,1738.8 454.7,1763.9 456.1,1763.9 457.4,1776.5 458.8,1782.7 460.1,1782.7 461.4,1763.9 462.8,1782.7 464.1,1776.5 465.5,1776.5 466.8,1776.5 468.1,1782.7 469.5,1782.7 470.8,1776.5 472.2,1782.7 473.5,1789 474.8,1776.5 476.2,1782.7 477.5,1776.5 478.9,1782.7 480.2,1770.2 481.6,1770.2 482.9,1789 484.2,1782.7 485.6,1770.2 486.9,1776.5 488.3,1789 489.6,1757.6 490.9,1770.2 492.3,1776.5 493.6,1776.5 495,1763.9 496.3,1776.5 497.6,1751.4 499,1776.5 500.3,1751.4 501.7,1776.5 503,1763.9 504.4,1763.9 505.7,1763.9 507,1757.6 508.4,1726.3 509.7,1757.6 511.1,1776.5 512.4,1776.5 513.7,1789 515.1,1789 516.4,1770.2 517.8,1782.7 519.1,1776.5 520.4,1757.6 521.8,1789 523.1,1757.6 524.5,1782.7 525.8,1776.5 527.1,1789 528.5,1776.5 529.8,1770.2 531.2,1776.5 532.5,1776.5 533.9,1763.9 535.2,1782.7 536.5,1782.7 537.9,1782.7 539.2,1782.7 540.6,1782.7 541.9,1789 543.2,1763.9 544.6,1782.7 545.9,1763.9 547.3,1770.2 548.6,1770.2 549.9,1770.2 551.3,1763.9 552.6,1776.5 554,1782.7 555.3,1751.4 556.7,1763.9 558,1782.7 559.3,1770.2 560.7,1782.7 562,1789 563.4,1782.7 564.7,1782.7 566,1789 567.4,1782.7 568.7,1776.5 570.1,1770.2 571.4,1770.2 572.7,1789 574.1,1782.7 575.4,1782.7 576.8,1770.2 578.1,1770.2 579.5,1789 580.8,1782.7 582.1,1789 583.5,1782.7 584.8,1776.5 586.2,1782.7 587.5,1776.5 588.8,1789 590.2,1789 591.5,1763.9 592.9,1782.7 594.2,1776.5 595.5,1789 596.9,1776.5 598.2,1763.9 599.6,1782.7 600.9,1776.5 602.3,1738.8 603.6,1757.6 604.9,1789 606.3,1770.2 607.6,1776.5 609,1770.2 610.3,1763.9 611.6,1776.5 613,1757.6 614.3,1770.2 615.7,1776.5 617,1770.2 618.3,1757.6 619.7,1757.6 621,1770.2 622.4,1789 623.7,1763.9 625,1751.4 626.4,1757.6 627.7,1745.1 629.1,1757.6 630.4,1763.9 631.8,1763.9 633.1,1763.9 634.4,1770.2 635.8,1770.2 637.1,1757.6 638.5,1763.9 639.8,1763.9 641.1,1763.9 642.5,1763.9 643.8,1763.9 645.2,1770.2 646.5,1763.9 647.8,1757.6 649.2,1776.5 650.5,1757.6 651.9,1751.4 653.2,1782.7 654.6,1789 655.9,1776.5 657.2,1789 658.6,1776.5 659.9,1751.4 661.3,1789 662.6,1782.7 663.9,1751.4 665.3,1776.5 666.6,1776.5 668,1770.2 669.3,1776.5 670.6,1763.9 672,1751.4 673.3,1789 674.7,1782.7 676,1776.5 677.4,1763.9 678.7,1776.5 680,1776.5 681.4,1789 682.7,1782.7 684.1,1776.5 685.4,1776.5 686.7,1782.7 688.1,1789 689.4,1776.5 690.8,1776.5 692.1,1782.7 693.4,1782.7 694.8,1776.5 696.1,1770.2 697.5,1763.9 698.8,1776.5 700.2,1789 701.5,1789 702.8,1782.7 704.2,1776.5 705.5,1763.9 706.9,1782.7 708.2,1763.9 709.5,1757.6 710.9,1776.5 712.2,1789 713.6,1782.7 714.9,1776.5 716.2,1770.2 717.6,1782.7 718.9,1789 720.3,1776.5 721.6,1776.5 722.9,1789 724.3,1776.5 725.6,1776.5 727,1789 728.3,1789 729.7,1763.9 731,1776.5 732.3,1782.7 733.7,1757.6 735,1770.2 736.4,1757.6 737.7,1782.7 739,1776.5 740.4,1789 741.7,1763.9 743.1,1782.7 744.4,1782.7 745.7,1763.9 747.1,1782.7 748.4,1776.5 749.8,1789 751.1,1782.7 752.5,1776.5 753.8,1770.2 755.1,1776.5 756.5,1751.4 757.8,1782.7 759.2,1782.7 760.5,1782.7 761.8,1789 763.2,1789 764.5,1789 765.9,1763.9 767.2,1789 768.5,1789 769.9,1789 771.2,1782.7 772.6,1789 773.9,1782.7 775.3,1782.7 776.6,1782.7 777.9,1770.2 779.3,1770.2 780.6,1770.2 782,1763.9 783.3,1757.6 784.6,1763.9 786,1763.9 787.3,1770.2 788.7,1789 790,1763.9 791.3,1776.5 792.7,1789 794,1782.7 795.4,1770.2 796.7,1789 798.1,1782.7 799.4,1763.9 800.7,1770.2 802.1,1782.7 803.4,1776.5 804.8,1789 806.1,1789 807.4,1770.2 808.8,1789 810.1,1763.9 811.5,1782.7 812.8,1782.7 814.1,1776.5 815.5,1782.7 816.8,1776.5 818.2,1770.2 819.5,1776.5 820.8,1770.2 822.2,1789 823.5,1770.2 824.9,1789 826.2,1782.7 827.6,1757.6 828.9,1782.7 830.2,1770.2 831.6,1776.5 832.9,1782.7 834.3,1751.4 835.6,1789 836.9,1782.7 838.3,1782.7 839.6,1763.9 841,1757.6 842.3,1776.5 843.6,1789 845,1763.9 846.3,1776.5 847.7,1763.9 849,1757.6 850.4,1776.5 851.7,1751.4 853,1770.2 854.4,1782.7 855.7,1782.7 857.1,1770.2 858.4,1770.2 859.7,1782.7 861.1,1770.2 862.4,1782.7 863.8,1751.4 865.1,1757.6 866.4,1776.5 867.8,1789 869.1,1782.7 870.5,1763.9 871.8,1770.2 873.2,1782.7 874.5,1782.7 875.8,1776.5 877.2,1738.8 878.5,1776.5 879.9,1782.7 881.2,1776.5 882.5,1776.5 883.9,1782.7 885.2,1770.2 886.6,1776.5 887.9,1789 889.2,1770.2 890.6,1770.2 891.9,1782.7 893.3,1763.9 894.6,1789 895.9,1789 897.3,1789 898.6,1751.4 900,1776.5 901.3,1789 902.7,1763.9 904,1776.5 905.3,1782.7 906.7,1776.5 908,1782.7 909.4,1770.2 910.7,1789 912,1770.2 913.4,1776.5 914.7,1789 916.1,1782.7 917.4,1776.5 918.7,1782.7 920.1,1789 921.4,1789 922.8,1776.5 924.1,1789 925.5,1782.7 926.8,1763.9 928.1,1776.5 929.5,1763.9 930.8,1789 932.2,1776.5 933.5,1770.2 934.8,1757.6 936.2,1789 937.5,1763.9 938.9,1770.2 940.2,1770.2 941.5,1757.6 942.9,1738.8 944.2,1757.6 945.6,1770.2 946.9,1782.7 948.3,1763.9 949.6,1789 950.9,1782.7 952.3,1757.6 953.6,1782.7 955,1789 956.3,1789 957.6,1782.7 959,1782.7 960.3,1782.7 961.7,1763.9 963,1757.6 964.3,1770.2 965.7,1757.6 967,1789 968.4,1776.5 969.7,1776.5 971.1,1776.5 972.4,1776.5 973.7,1776.5 975.1,1763.9 976.4,1763.9 977.8,1776.5 979.1,1782.7 980.4,1776.5 981.8,1776.5 983.1,1770.2 984.5,1789 985.8,1757.6 987.1,1763.9 988.5,1789 989.8,1789 991.2,1776.5 992.5,1789 993.8,1789 995.2,1770.2 996.5,1782.7 997.9,1776.5 999.2,1770.2 1000.6,1745.1 1001.9,1751.4 1003.2,1757.6 1004.6,1751.4 1005.9,1751.4 1007.3,1726.3 1008.6,1745.1 1009.9,1745.1 1011.3,1738.8 1012.6,1726.3 1014,1707.5 1015.3,1701.2 1016.6,1676.1 1018,1688.6 1019.3,1694.9 1020.7,1707.5 1022,1682.4 1023.4,1663.5 1024.7,1738.8 1026,1738.8 1027.4,1751.4 1028.7,1770.2 1030.1,1782.7 1031.4,1782.7 1032.7,1782.7 1034.1,1782.7 1035.4,1763.9 1036.8,1757.6 1038.1,1770.2 1039.4,1763.9 1040.8,1770.2 1042.1,1782.7 1043.5,1770.2 1044.8,1782.7 1046.2,1776.5 1047.5,1782.7 1048.8,1776.5 1050.2,1776.5 1051.5,1757.6 1052.9,1776.5 1054.2,1776.5 1055.5,1770.2 1056.9,1770.2 1058.2,1776.5 1059.6,1763.9 1060.9,1751.4 1062.2,1770.2 1063.6,1782.7 1064.9,1776.5 1066.3,1782.7 1067.6,1776.5 1069,1782.7 1070.3,1789 1071.6,1776.5 1073,1776.5 1074.3,1770.2 1075.7,1763.9 1077,1789 1078.3,1770.2 1079.7,1782.7 1081,1782.7 1082.4,1776.5 1083.7,1789 1085,1745.1 1086.4,1770.2 1087.7,1757.6 1089.1,1757.6 1090.4,1776.5 1091.7,1738.8 1093.1,1770.2 1094.4,1763.9 1095.8,1770.2 1097.1,1757.6 1098.5,1763.9 1099.8,1757.6 1101.1,1745.1 1102.5,1757.6 1103.8,1745.1 1105.2,1763.9 1106.5,1782.7 1107.8,1757.6 1109.2,1789 1110.5,1789 1111.9,1770.2 1113.2,1757.6 1114.5,1770.2 1115.9,1782.7 1117.2,1782.7 1118.6,1770.2 1119.9,1776.5 1121.3,1757.6 1122.6,1763.9 1123.9,1776.5 1125.3,1770.2 1126.6,1763.9 1128,1789 1129.3,1782.7 1130.6,1776.5 1132,1776.5 1133.3,1776.5 1134.7,1782.7 1136,1751.4 1137.3,1757.6 1138.7,1776.5 1140,1776.5 1141.4,1763.9 1142.7,1782.7 1144.1,1745.1 1145.4,1782.7 1146.7,1789 1148.1,1757.6 1149.4,1770.2 1150.8,1745.1 1152.1,1776.5 1153.4,1776.5 1154.8,1782.7 1156.1,1770.2 1157.5,1789 1158.8,1757.6 1160.1,1763.9 1161.5,1789 1162.8,1776.5 1164.2,1782.7 1165.5,1789 1166.9,1770.2 1168.2,1763.9 1169.5,1789 1170.9,1770.2 1172.2,1789 1173.6,1770.2 1174.9,1782.7 1176.2,1789 1177.6,1763.9 1178.9,1789 1180.3,1789 1181.6,1776.5 1182.9,1763.9 1184.3,1782.7 1185.6,1782.7 1187,1770.2 1188.3,1782.7 1189.6,1782.7 1191,1770.2 1192.3,1782.7 1193.7,1776.5 1195,1789 1196.4,1776.5 1197.7,1776.5 1199,1789 1200.4,1776.5 1201.7,1782.7 1203.1,1757.6 1204.4,1738.8 1205.7,1782.7 1207.1,1770.2 1208.4,1782.7 1209.8,1789 1211.1,1782.7 1212.4,1789 1213.8,1745.1 1215.1,1776.5 1216.5,1789 1217.8,1782.7 1219.2,1751.4 1220.5,1770.2 1221.8,1770.2 1223.2,1776.5 1224.5,1757.6 1225.9,1757.6 1227.2,1763.9 1228.5,1789 1229.9,1776.5 1231.2,1738.8 1232.6,1789 1233.9,1763.9 1235.2,1789 1236.6,1782.7 1237.9,1776.5 1239.3,1770.2 1240.6,1757.6 1242,1770.2 1243.3,1763.9 1244.6,1782.7 1246,1770.2 1247.3,1776.5 1248.7,1763.9 1250,1745.1 1251.3,1770.2 1252.7,1770.2 1254,1757.6 1255.4,1776.5 1256.7,1782.7 1258,1770.2 1259.4,1745.1 1260.7,1757.6 1262.1,1763.9 1263.4,1770.2 1264.8,1776.5 1266.1,1776.5 1267.4,1763.9 1268.8,1763.9 1270.1,1776.5 1271.5,1776.5 1272.8,1751.4 1274.1,1782.7 1275.5,1763.9 1276.8,1763.9 1278.2,1751.4 1279.5,1726.3 1280.8,1770.2 1282.2,1732.5 1283.5,1751.4 1284.9,1776.5 1286.2,1782.7 1287.5,1782.7 1288.9,1776.5 1290.2,1776.5 1291.6,1776.5 1292.9,1763.9 1294.3,1738.8 1295.6,1770.2 1296.9,1732.5 1298.3,1789 1299.6,1776.5 1301,1776.5 1302.3,1770.2 1303.6,1789 1305,1751.4 1306.3,1789 1307.7,1789 1309,1751.4 1310.3,1757.6 1311.7,1763.9 1313,1763.9 1314.4,1789 1315.7,1776.5 1317.1,1770.2 1318.4,1770.2 1319.7,1763.9 1321.1,1789 1322.4,1782.7 1323.5,1775.2 1327.7,1783.5 1346.5,1789 1367.5,1779.3 1368,1782.7 1369.4,1776.5 1370.7,1776.5 1372,1770.2 1373.4,1776.5 1374.7,1770.2 1376.1,1770.2 1377.4,1757.6 1378.7,1751.4 1380.1,1770.2 1381.4,1732.5 1382.8,1738.8 1384.1,1738.8 1385.4,1757.6 1386.8,1757.6 1388.1,1757.6 1389.5,1770.2 1390.8,1770.2 1392.2,1776.5 1393.5,1782.7 1394.8,1770.2 1396.2,1789 1397.5,1789 1398.9,1757.6 1400.2,1782.7 1401.5,1789 1402.9,1770.2 1404.2,1763.9 1405.6,1757.6 1406.9,1776.5 1408.2,1763.9 1409.6,1776.5 1410.9,1776.5 1412.3,1789 1413.6,1770.2 1415,1770.2 1416.3,1763.9 1417.6,1770.2 1419,1770.2 1420.3,1770.2 1421.7,1776.5 1423,1782.7L1423,1789"/><path id="p11" d="M271,1943L271,1898.9 272.3,1932.3 273.7,1904.3 275,1943 276.4,1941.1 277.7,1897.4 279,1869.1 280.4,1904.5 281.7,1873 283.1,1897.5 284.4,1895.4 285.8,1849.6 287.1,1943 288.4,1883.7 289.8,1925.3 291.1,1918.8 292.5,1924.8 293.8,1925.8 295.1,1926.9 296.5,1906 297.8,1943 299.2,1905.2 300.5,1914.9 301.8,1899.1 303.2,1935.2 304.5,1865.1 305.9,1899.4 307.2,1925.7 308.6,1929 309.9,1924 311.2,1922.2 312.6,1887.3 313.9,1925.4 315.3,1903.8 316.6,1907.7 317.9,1909.3 319.3,1943 320.6,1917.6 322,1937.3 323.3,1908.9 324.6,1883.7 326,1943 327.3,1896.8 328.7,1916.2 330,1907.7 331.3,1902 332.7,1911.3 334,1895.5 335.4,1913.1 336.7,1930 338.1,1932.1 339.4,1930.7 340.7,1934.1 342.1,1942.1 343.4,1936.4 344.8,1935.5 346.1,1938.6 347.4,1935.5 348.8,1936.2 350.1,1933.6 351.5,1935.7 352.8,1940.1 354.1,1922.6 355.5,1922.7 356.8,1907.8 358.2,1914.4 359.5,1926.8 360.9,1924.2 362.2,1902 363.5,1909.3 364.9,1940.2 366.2,1924.9 367.6,1920.2 368.9,1925.7 370.2,1943 371.6,1943 372.9,1865.3 374.3,1924.7 375.6,1910.6 376.9,1942.4 378.3,1943 379.6,1914.8 381,1932 382.3,1920.1 383.7,1922.8 385,1939.3 386.3,1930.1 387.7,1942.7 389,1913 390.4,1905.9 391.7,1943 393,1919.8 394.4,1914.7 395.7,1899 397.1,1896.7 398.4,1907.6 399.7,1871.6 401.1,1931.6 402.4,1919.6 403.8,1915.1 405.1,1922.1 406.5,1910.2 407.8,1919.2 409.1,1887.4 410.5,1943 411.8,1890.7 413.2,1917.3 414.5,1940.6 415.8,1929.8 417.2,1931.3 418.5,1929.8 419.9,1892.7 421.2,1943 422.5,1922.4 423.9,1879.1 425.2,1941.3 426.6,1914.9 427.9,1903.4 429.2,1919.1 430.6,1892.7 431.9,1912.7 433.3,1907.2 434.6,1943 436,1938.1 437.3,1943 438.6,1943 440,1887.3 441.3,1901.8 442.7,1918.5 444,1839.5 445.3,1943 446.7,1943 448,1920.1 449.4,1933.5 450.7,1880.3 452,1820.2 453.4,1899.6 454.7,1861.7 456.1,1859.1 457.4,1922.8 458.8,1900.1 460.1,1916.2 461.4,1889.2 462.8,1935.1 464.1,1938.3 465.5,1942.1 466.8,1937.5 468.1,1929.3 469.5,1897 470.8,1943 472.2,1919.3 473.5,1875.9 474.8,1925.4 476.2,1873.2 477.5,1875.5 478.9,1918.2 480.2,1928.1 481.6,1934 482.9,1936.5 484.2,1937 485.6,1932.2 486.9,1840.8 488.3,1892 489.6,1885.7 490.9,1857.3 492.3,1884.5 493.6,1846.1 495,1932.5 496.3,1920.9 497.6,1943 499,1890.4 500.3,1929.2 501.7,1893.1 503,1943 504.4,1905.6 505.7,1897.6 507,1929.1 508.4,1924.3 509.7,1942.8 511.1,1900.3 512.4,1933.7 513.7,1847.1 515.1,1939.7 516.4,1898.5 517.8,1927.6 519.1,1907.9 520.4,1937.4 521.8,1890.1 523.1,1936.9 524.5,1897.1 525.8,1935.3 527.1,1943 528.5,1929.3 529.8,1924 531.2,1914.9 532.5,1928.5 533.9,1906.2 535.2,1942.9 536.5,1903.9 537.9,1930.5 539.2,1896.1 540.6,1921 541.9,1924.8 543.2,1933.6 544.6,1905.5 545.9,1943 547.3,1943 548.6,1909.3 549.9,1943 551.3,1943 552.6,1934.6 554,1847.1 555.3,1943 556.7,1908.6 558,1923.1 559.3,1928.3 560.7,1934.1 562,1906.2 563.4,1899.7 564.7,1927.3 566,1898.1 567.4,1896.2 568.7,1921.1 570.1,1901.8 571.4,1914 572.7,1922.1 574.1,1898.2 575.4,1881 576.8,1909.4 578.1,1896 579.5,1887.5 580.8,1911.9 582.1,1902.8 583.5,1915.8 584.8,1878.5 586.2,1849.7 587.5,1943 588.8,1923.3 590.2,1943 591.5,1917.9 592.9,1918.4 594.2,1875.9 595.5,1907.1 596.9,1904.8 598.2,1908.6 599.6,1893.5 600.9,1914.2 602.3,1887.9 603.6,1893.3 604.9,1863.1 606.3,1916.9 607.6,1898.7 609,1933 610.3,1878.5 611.6,1934.2 613,1903.1 614.3,1880.5 615.7,1885.4 617,1943 618.3,1915.6 619.7,1919.2 621,1898.4 622.4,1924.3 623.7,1916.6 625,1915.1 626.4,1883 627.7,1929.9 629.1,1906.1 630.4,1899.9 631.8,1914.7 633.1,1939.3 634.4,1922.7 635.8,1914.1 637.1,1932.7 638.5,1925 639.8,1888.2 641.1,1941.6 642.5,1886.6 643.8,1908.6 645.2,1943 646.5,1922 647.8,1910.7 649.2,1914.3 650.5,1889.6 651.9,1893.7 653.2,1931.9 654.6,1943 655.9,1905.8 657.2,1915.8 658.6,1943 659.9,1929.6 661.3,1909.8 662.6,1919 663.9,1931.5 665.3,1931.6 666.6,1910 668,1929.7 669.3,1921.4 670.6,1910.6 672,1927.1 673.3,1891.5 674.7,1937.9 676,1926.8 677.4,1943 678.7,1938.4 680,1939.1 681.4,1936.8 682.7,1938.1 684.1,1937.7 685.4,1929.7 686.7,1935.6 688.1,1925.5 689.4,1923.3 690.8,1918 692.1,1914.5 693.4,1906.3 694.8,1932 696.1,1924.5 697.5,1887.3 698.8,1873.9 700.2,1893 701.5,1920.2 702.8,1936.6 704.2,1926.6 705.5,1941.1 706.9,1917.1 708.2,1889.3 709.5,1911.7 710.9,1913.2 712.2,1906.9 713.6,1871.5 714.9,1901.7 716.2,1873.8 717.6,1889.9 718.9,1878 720.3,1919.5 721.6,1882.4 722.9,1921.6 724.3,1853 725.6,1906.3 727,1908.7 728.3,1883.7 729.7,1939.3 731,1925.1 732.3,1943 733.7,1888.1 735,1910.6 736.4,1927.8 737.7,1939.1 739,1923.2 740.4,1900.1 741.7,1901 743.1,1916.8 744.4,1943 745.7,1877.9 747.1,1923.3 748.4,1920.4 749.8,1899.7 751.1,1927.4 752.5,1859.6 753.8,1902.8 755.1,1907.6 756.5,1913.1 757.8,1907.1 759.2,1877.7 760.5,1918.3 761.8,1917.3 763.2,1918.9 764.5,1822.4 765.9,1910.7 767.2,1943 768.5,1916.2 769.9,1933.8 771.2,1905.1 772.6,1909.5 773.9,1888.9 775.3,1937.1 776.6,1910.4 777.9,1916.2 779.3,1887.8 780.6,1923.5 782,1943 783.3,1905.9 784.6,1893.3 786,1906 787.3,1889.1 788.7,1925.9 790,1901.5 791.3,1919.3 792.7,1938.6 794,1924.5 795.4,1905.1 796.7,1935.3 798.1,1885 799.4,1910.6 800.7,1918.4 802.1,1884.8 803.4,1889.1 804.8,1933.1 806.1,1873.8 807.4,1899.9 808.8,1917.8 810.1,1922.9 811.5,1922.6 812.8,1877.3 814.1,1906.7 815.5,1869.2 816.8,1917 818.2,1917.6 819.5,1916.2 820.8,1910.3 822.2,1908.4 823.5,1868.8 824.9,1938 826.2,1896.7 827.6,1919.7 828.9,1891.8 830.2,1932.8 831.6,1910.8 832.9,1869.3 834.3,1923.7 835.6,1920.9 836.9,1884.7 838.3,1923.3 839.6,1896.3 841,1902.4 842.3,1859.5 843.6,1903.9 845,1900.5 846.3,1889.1 847.7,1903 849,1903.3 850.4,1885.8 851.7,1904.7 853,1916.6 854.4,1887.8 855.7,1895 857.1,1897.4 858.4,1821.1 859.7,1839.1 861.1,1891.6 862.4,1883 863.8,1861.4 865.1,1930.3 866.4,1903.9 867.8,1899.5 869.1,1895 870.5,1925.4 871.8,1902.7 873.2,1903.6 874.5,1870.4 875.8,1921.2 877.2,1874 878.5,1894.3 879.9,1943 881.2,1943 882.5,1909.3 883.9,1905.8 885.2,1886.1 886.6,1914.6 887.9,1912.7 889.2,1912.2 890.6,1942.6 891.9,1857.9 893.3,1931 894.6,1882.7 895.9,1863.3 897.3,1937.6 898.6,1943 900,1925.1 901.3,1901.2 902.7,1920.2 904,1902.5 905.3,1908 906.7,1931 908,1925.3 909.4,1934.3 910.7,1887.4 912,1895.5 913.4,1891.8 914.7,1895.2 916.1,1895.4 917.4,1915.2 918.7,1908 920.1,1888.7 921.4,1873 922.8,1916.3 924.1,1883.5 925.5,1928.1 926.8,1910.8 928.1,1917 929.5,1896 930.8,1907.3 932.2,1908.2 933.5,1886.9 934.8,1872.1 936.2,1939.3 937.5,1933.6 938.9,1943 940.2,1922 941.5,1914.6 942.9,1904.6 944.2,1921.4 945.6,1918.5 946.9,1910.9 948.3,1919.6 949.6,1926.2 950.9,1932.3 952.3,1859 953.6,1923 955,1932.9 956.3,1919.1 957.6,1925.9 959,1898 960.3,1914.8 961.7,1938 963,1909.4 964.3,1924.5 965.7,1871.1 967,1911.4 968.4,1926.8 969.7,1885 971.1,1916.2 972.4,1906.1 973.7,1863.1 975.1,1844.5 976.4,1906.2 977.8,1893.3 979.1,1904.3 980.4,1888 981.8,1936.5 983.1,1910.3 984.5,1907 985.8,1920.8 987.1,1909 988.5,1903.5 989.8,1914.1 991.2,1931.8 992.5,1903.9 993.8,1887.5 995.2,1910 996.5,1863.9 997.9,1917.7 999.2,1897.9 1000.6,1876.3 1001.9,1889.8 1003.2,1878.2 1004.6,1893.4 1005.9,1890.8 1007.3,1908.9 1008.6,1937.3 1009.9,1922 1011.3,1894.5 1012.6,1907.9 1014,1873.8 1015.3,1893.5 1016.6,1874.3 1018,1916.7 1019.3,1864.1 1020.7,1874.3 1022,1884.6 1023.4,1919.8 1024.7,1894.9 1026,1912.6 1027.4,1919 1028.7,1876.9 1030.1,1920.3 1031.4,1943 1032.7,1902 1034.1,1912.6 1035.4,1924.2 1036.8,1926 1038.1,1874.2 1039.4,1881.7 1040.8,1859.8 1042.1,1917.5 1043.5,1927.4 1044.8,1931.8 1046.2,1906.8 1047.5,1909.9 1048.8,1916.3 1050.2,1900.9 1051.5,1931.9 1052.9,1825.7 1054.2,1914.8 1055.5,1943 1056.9,1940.6 1058.2,1918.3 1059.6,1884.5 1060.9,1897.9 1062.2,1923.6 1063.6,1912.1 1064.9,1910.4 1066.3,1899.4 1067.6,1921.7 1069,1897.4 1070.3,1943 1071.6,1928.4 1073,1892.1 1074.3,1897.5 1075.7,1893.1 1077,1923.9 1078.3,1940.9 1079.7,1923.5 1081,1883.5 1082.4,1897.3 1083.7,1899.3 1085,1927.5 1086.4,1900.1 1087.7,1930.6 1089.1,1917.1 1090.4,1879.3 1091.7,1870.7 1093.1,1869.9 1094.4,1943 1095.8,1921.4 1097.1,1902.1 1098.5,1906.5 1099.8,1898.9 1101.1,1930.1 1102.5,1935.3 1103.8,1930.2 1105.2,1918.2 1106.5,1935.6 1107.8,1848.4 1109.2,1925.5 1110.5,1929.2 1111.9,1908.5 1113.2,1907.7 1114.5,1894.5 1115.9,1854.9 1117.2,1885.5 1118.6,1909.3 1119.9,1908.8 1121.3,1910.9 1122.6,1920.3 1123.9,1923.9 1125.3,1900.2 1126.6,1900.1 1128,1900.3 1129.3,1920.7 1130.6,1882.5 1132,1911 1133.3,1894.7 1134.7,1869.6 1136,1867.7 1137.3,1922.8 1138.7,1927 1140,1895.2 1141.4,1936 1142.7,1916 1144.1,1943 1145.4,1868 1146.7,1900.6 1148.1,1910.1 1149.4,1871.5 1150.8,1872.3 1152.1,1926 1153.4,1934.4 1154.8,1921.9 1156.1,1905.4 1157.5,1850.6 1158.8,1867.9 1160.1,1943 1161.5,1920.1 1162.8,1934.3 1164.2,1891.5 1165.5,1913 1166.9,1912.7 1168.2,1929.6 1169.5,1914.3 1170.9,1926.5 1172.2,1897 1173.6,1929.3 1174.9,1934.5 1176.2,1943 1177.6,1926.3 1178.9,1899.3 1180.3,1920.3 1181.6,1930.2 1182.9,1932.8 1184.3,1934.1 1185.6,1893.7 1187,1923.3 1188.3,1913.8 1189.6,1928.8 1191,1906.2 1192.3,1907.8 1193.7,1924.4 1195,1924.7 1196.4,1920.6 1197.7,1900.6 1199,1907.8 1200.4,1874.7 1201.7,1923.5 1203.1,1935.1 1204.4,1936.7 1205.7,1919.7 1207.1,1943 1208.4,1938.6 1209.8,1938.9 1211.1,1926.8 1212.4,1918.4 1213.8,1914.2 1215.1,1896.3 1216.5,1890.5 1217.8,1894.4 1219.2,1929.2 1220.5,1909.7 1221.8,1892.9 1223.2,1877.5 1224.5,1884.9 1225.9,1943 1227.2,1883.5 1228.5,1923.5 1229.9,1943 1231.2,1943 1232.6,1943 1233.9,1930.3 1235.2,1906.5 1236.6,1921.2 1237.9,1926.9 1239.3,1856.6 1240.6,1909.1 1242,1901.1 1243.3,1908 1244.6,1873.3 1246,1941.7 1247.3,1884 1248.7,1848.6 1250,1889.9 1251.3,1930.8 1252.7,1926.7 1254,1932.3 1255.4,1927.7 1256.7,1892.5 1258,1847 1259.4,1943 1260.7,1913 1262.1,1926.1 1263.4,1892.2 1264.8,1901 1266.1,1877 1267.4,1889.5 1268.8,1870.7 1270.1,1943 1271.5,1939.1 1272.8,1919.2 1274.1,1943 1275.5,1892.1 1276.8,1917.2 1278.2,1918.1 1279.5,1943 1280.8,1930.6 1282.2,1928 1283.5,1928.9 1284.9,1888.4 1286.2,1933.3 1287.5,1943 1288.9,1909.9 1290.2,1924.2 1291.6,1936.7 1292.9,1930.6 1294.3,1896.6 1295.6,1904.9 1296.9,1903.9 1298.3,1925.7 1299.6,1875.5 1301,1900.3 1302.3,1922.4 1303.6,1870.3 1305,1906.9 1306.3,1888.6 1307.7,1928.9 1309,1936 1310.3,1898.2 1311.7,1906.5 1313,1866.4 1314.4,1879.4 1315.7,1924.2 1317.1,1909.7 1318.4,1928.2 1319.7,1877.3 1321.1,1924.3 1322.4,1943 1323.8,1836.7 1325.1,1920 1326,1929.2 1327.3,1932 1337.6,1943 1347.7,1932 1349.7,1897.5 1351.3,1932 1358.6,1943 1366.5,1932 1367.5,1920.9 1368,1901.8 1369.4,1878.5 1370.7,1906.2 1372,1871.8 1373.4,1915.4 1374.7,1873.1 1376.1,1842.8 1377.4,1805 1378.7,1873.7 1380.1,1943 1381.4,1840.1 1382.8,1880.6 1384.1,1887.4 1385.4,1860.8 1386.8,1907.7 1388.1,1905.8 1389.5,1872.4 1390.8,1893.4 1392.2,1874 1393.5,1899.1 1394.8,1909.6 1396.2,1901.8 1397.5,1851.4 1398.9,1841.9 1400.2,1894.4 1401.5,1883.7 1402.9,1915.2 1404.2,1943 1405.6,1898.5 1406.9,1906.3 1408.2,1904.5 1409.6,1892.3 1410.9,1905.2 1412.3,1918.8 1413.6,1925.2 1415,1897.3 1416.3,1845.2 1417.6,1863.1 1419,1911.9 1420.3,1906.1 1421.7,1905.5 1423,1913.6L1423,1943"/><path id="p12" d="M271,2097L271,2097 272.3,2057 273.7,2057 275,2065 276.4,2089 277.7,2041 279,2081 280.4,2057 281.7,2049 283.1,2049 284.4,2089 285.8,2049 287.1,2097 288.4,2057 289.8,2073 291.1,2025 292.5,2025 293.8,2057 295.1,2057 296.5,2081 297.8,2073 299.2,2089 300.5,2065 301.8,2081 303.2,2065 304.5,2057 305.9,2065 307.2,2001 308.6,2081 309.9,2057 311.2,2057 312.6,1993 313.9,2089 315.3,2065 316.6,2033 317.9,2057 319.3,2049 320.6,1969 322,2097 323.3,2073 324.6,2073 326,2057 327.3,2097 328.7,2073 330,2033 331.3,2089 332.7,2065 334,2081 335.4,2049 336.7,2065 338.1,2049 339.4,2065 340.7,2057 342.1,2081 343.4,2073 344.8,1993 346.1,2081 347.4,2065 348.8,2041 350.1,2009 351.5,2041 352.8,2073 354.1,1985 355.5,2033 356.8,2065 358.2,2089 359.5,2057 360.9,2033 362.2,2049 363.5,2057 364.9,2057 366.2,2065 367.6,2057 368.9,2065 370.2,2057 371.6,2073 372.9,2057 374.3,2049 375.6,2057 376.9,2081 378.3,2073 379.6,2057 381,2057 382.3,2073 383.7,2073 385,2097 386.3,2049 387.7,2065 389,2049 390.4,2049 391.7,2025 393,2049 394.4,2049 395.7,2049 397.1,2041 398.4,2097 399.7,1959 401.1,2065 402.4,2057 403.8,2025 405.1,2081 406.5,1961 407.8,2017 409.1,2073 410.5,2057 411.8,2017 413.2,2049 414.5,2057 415.8,2049 417.2,2041 418.5,2041 419.9,2057 421.2,2025 422.5,2025 423.9,2089 425.2,1969 426.6,2057 427.9,2081 429.2,2057 430.6,1977 431.9,2017 433.3,2057 434.6,2033 436,2057 437.3,2065 438.6,2041 440,2009 441.3,2025 442.7,2017 444,2041 445.3,2009 446.7,2049 448,2097 449.4,2017 450.7,2049 452,2033 453.4,2073 454.7,2081 456.1,2009 457.4,2097 458.8,2033 460.1,2081 461.4,2057 462.8,2033 464.1,2081 465.5,2041 466.8,2081 468.1,1985 469.5,2081 470.8,2089 472.2,2073 473.5,2017 474.8,2025 476.2,2097 477.5,2097 478.9,2049 480.2,2041 481.6,2073 482.9,2057 484.2,2017 485.6,2057 486.9,2065 488.3,2025 489.6,2089 490.9,2033 492.3,2025 493.6,2073 495,2049 496.3,2041 497.6,2065 499,2049 500.3,2081 501.7,2081 503,2081 504.4,2025 505.7,2073 507,2065 508.4,2057 509.7,2089 511.1,2081 512.4,2073 513.7,2089 515.1,2041 516.4,2065 517.8,2041 519.1,2041 520.4,2041 521.8,2057 523.1,2033 524.5,2049 525.8,2041 527.1,2049 528.5,2073 529.8,2049 531.2,1993 532.5,2065 533.9,2049 535.2,2049 536.5,2073 537.9,2033 539.2,2017 540.6,2049 541.9,2041 543.2,2081 544.6,2049 545.9,2057 547.3,2049 548.6,2017 549.9,2041 551.3,2049 552.6,2025 554,2049 555.3,2081 556.7,2065 558,2041 559.3,2089 560.7,2089 562,2049 563.4,2049 564.7,2081 566,2057 567.4,2009 568.7,2017 570.1,2073 571.4,2057 572.7,2057 574.1,2057 575.4,2041 576.8,2049 578.1,2073 579.5,2049 580.8,1993 582.1,2073 583.5,2049 584.8,2041 586.2,2057 587.5,2065 588.8,2041 590.2,2025 591.5,2097 592.9,2073 594.2,2081 595.5,2065 596.9,2057 598.2,2081 599.6,2097 600.9,2073 602.3,2057 603.6,2001 604.9,2065 606.3,2089 607.6,2057 609,2073 610.3,2073 611.6,2073 613,2065 614.3,2049 615.7,2073 617,2089 618.3,2073 619.7,2017 621,2009 622.4,2017 623.7,2073 625,2065 626.4,2089 627.7,2073 629.1,2049 630.4,2081 631.8,2041 633.1,2057 634.4,2065 635.8,2089 637.1,2089 638.5,2081 639.8,2041 641.1,2073 642.5,2073 643.8,2081 645.2,2097 646.5,2009 647.8,2057 649.2,2033 650.5,2065 651.9,2033 653.2,2041 654.6,2081 655.9,2081 657.2,2081 658.6,2049 659.9,2057 661.3,2065 662.6,2065 663.9,1985 665.3,2041 666.6,2097 668,2041 669.3,2041 670.6,2025 672,2049 673.3,2065 674.7,2049 676,2041 677.4,2065 678.7,2049 680,2073 681.4,1993 682.7,2081 684.1,2049 685.4,2025 686.7,2081 688.1,2089 689.4,2065 690.8,2073 692.1,2097 693.4,2073 694.8,2057 696.1,2073 697.5,2033 698.8,2089 700.2,2033 701.5,2033 702.8,2025 704.2,1961 705.5,2049 706.9,2049 708.2,2097 709.5,2057 710.9,2097 712.2,2033 713.6,2097 714.9,2065 716.2,2049 717.6,2089 718.9,2049 720.3,2081 721.6,2057 722.9,2057 724.3,2041 725.6,2041 727,2097 728.3,2065 729.7,2073 731,2057 732.3,2057 733.7,2073 735,2073 736.4,2041 737.7,2033 739,2089 740.4,2065 741.7,2073 743.1,2081 744.4,2057 745.7,2001 747.1,2049 748.4,2097 749.8,2073 751.1,2073 752.5,2017 753.8,2057 755.1,2025 756.5,2073 757.8,2073 759.2,2065 760.5,2065 761.8,2009 763.2,2017 764.5,2049 765.9,2033 767.2,2073 768.5,2097 769.9,2073 771.2,2049 772.6,2057 773.9,2041 775.3,2057 776.6,2041 777.9,2065 779.3,2049 780.6,2073 782,2057 783.3,2049 784.6,2065 786,2057 787.3,2057 788.7,2089 790,2017 791.3,2081 792.7,1985 794,2065 795.4,2073 796.7,2097 798.1,2057 799.4,2041 800.7,2089 802.1,2081 803.4,2025 804.8,2057 806.1,2089 807.4,2065 808.8,2041 810.1,2041 811.5,2057 812.8,2025 814.1,2057 815.5,2073 816.8,2065 818.2,1993 819.5,2049 820.8,2073 822.2,2033 823.5,2049 824.9,2057 826.2,2089 827.6,2089 828.9,2081 830.2,2081 831.6,2057 832.9,2073 834.3,2081 835.6,2089 836.9,2073 838.3,2041 839.6,2041 841,2065 842.3,2065 843.6,2073 845,2097 846.3,2009 847.7,2073 849,2041 850.4,2017 851.7,2057 853,2065 854.4,2073 855.7,2097 857.1,2081 858.4,2041 859.7,2049 861.1,2065 862.4,2049 863.8,2057 865.1,2025 866.4,2025 867.8,2057 869.1,2033 870.5,2057 871.8,2033 873.2,2049 874.5,2049 875.8,2041 877.2,2081 878.5,2065 879.9,2009 881.2,2081 882.5,2009 883.9,2001 885.2,2097 886.6,2001 887.9,1985 889.2,2041 890.6,2033 891.9,2089 893.3,2049 894.6,2057 895.9,2065 897.3,2041 898.6,2009 900,2089 901.3,2065 902.7,2033 904,2081 905.3,2017 906.7,2001 908,2033 909.4,2041 910.7,2073 912,2057 913.4,2041 914.7,2049 916.1,2057 917.4,2073 918.7,2089 920.1,2049 921.4,1985 922.8,2009 924.1,2081 925.5,2057 926.8,2009 928.1,2033 929.5,2081 930.8,2065 932.2,2041 933.5,2017 934.8,2049 936.2,2025 937.5,2057 938.9,2065 940.2,2049 941.5,2065 942.9,2057 944.2,2033 945.6,2065 946.9,2017 948.3,2065 949.6,2073 950.9,2049 952.3,2057 953.6,2041 955,2025 956.3,2049 957.6,2057 959,2081 960.3,2081 961.7,2025 963,2049 964.3,2081 965.7,2065 967,2057 968.4,2057 969.7,2049 971.1,2049 972.4,2049 973.7,2049 975.1,2065 976.4,2073 977.8,2065 979.1,2065 980.4,2081 981.8,2065 983.1,2049 984.5,2049 985.8,2073 987.1,2065 988.5,2041 989.8,2017 991.2,1985 992.5,2065 993.8,2041 995.2,2073 996.5,2057 997.9,2025 999.2,2065 1000.6,2057 1001.9,2033 1003.2,2073 1004.6,2065 1005.9,2057 1007.3,2081 1008.6,2041 1009.9,2049 1011.3,2065 1012.6,2033 1014,2025 1015.3,2057 1016.6,2025 1018,2097 1019.3,2041 1020.7,2057 1022,2073 1023.4,2081 1024.7,2049 1026,2057 1027.4,2065 1028.7,2033 1030.1,2081 1031.4,2057 1032.7,2041 1034.1,2041 1035.4,2041 1036.8,2041 1038.1,2049 1039.4,2081 1040.8,2049 1042.1,2057 1043.5,2041 1044.8,2065 1046.2,2009 1047.5,2073 1048.8,2073 1050.2,2057 1051.5,2065 1052.9,2057 1054.2,2057 1055.5,2033 1056.9,2057 1058.2,2089 1059.6,2025 1060.9,2033 1062.2,2017 1063.6,2089 1064.9,2017 1066.3,2041 1067.6,2049 1069,2057 1070.3,2057 1071.6,2041 1073,2057 1074.3,2041 1075.7,2033 1077,2057 1078.3,2017 1079.7,2065 1081,2033 1082.4,2065 1083.7,2065 1085,2041 1086.4,2065 1087.7,2057 1089.1,2017 1090.4,2097 1091.7,1993 1093.1,2089 1094.4,2081 1095.8,2065 1097.1,2049 1098.5,2017 1099.8,2073 1101.1,2025 1102.5,2057 1103.8,2073 1105.2,2057 1106.5,2049 1107.8,2097 1109.2,2033 1110.5,2065 1111.9,2049 1113.2,2049 1114.5,2057 1115.9,2073 1117.2,2057 1118.6,2065 1119.9,2081 1121.3,2073 1122.6,2065 1123.9,2081 1125.3,2057 1126.6,2049 1128,2073 1129.3,2049 1130.6,2057 1132,2057 1133.3,2065 1134.7,2073 1136,2073 1137.3,2065 1138.7,2057 1140,2065 1141.4,2065 1142.7,2065 1144.1,2065 1145.4,2073 1146.7,2041 1148.1,2057 1149.4,2081 1150.8,2041 1152.1,2065 1153.4,2057 1154.8,2049 1156.1,2057 1157.5,2065 1158.8,2057 1160.1,2065 1161.5,2041 1162.8,2073 1164.2,2041 1165.5,2057 1166.9,2065 1168.2,2009 1169.5,2057 1170.9,2065 1172.2,2073 1173.6,2057 1174.9,2097 1176.2,2081 1177.6,2049 1178.9,2089 1180.3,2065 1181.6,2001 1182.9,2025 1184.3,2073 1185.6,2065 1187,2073 1188.3,2057 1189.6,2073 1191,2065 1192.3,2057 1193.7,2049 1195,2057 1196.4,2073 1197.7,1977 1199,2065 1200.4,2073 1201.7,2065 1203.1,2025 1204.4,2049 1205.7,2081 1207.1,1993 1208.4,2025 1209.8,2049 1211.1,2041 1212.4,2065 1213.8,2081 1215.1,2017 1216.5,2049 1217.8,2065 1219.2,2097 1220.5,2041 1221.8,2081 1223.2,2049 1224.5,2065 1225.9,2033 1227.2,2009 1228.5,2057 1229.9,2073 1231.2,2073 1232.6,2073 1233.9,2073 1235.2,2081 1236.6,2033 1237.9,2081 1239.3,2065 1240.6,2097 1242,2073 1243.3,2073 1244.6,2065 1246,2089 1247.3,2065 1248.7,2041 1250,2073 1251.3,2049 1252.7,2065 1254,2041 1255.4,2065 1256.7,2057 1258,2073 1259.4,2057 1260.7,2065 1262.1,2057 1263.4,2049 1264.8,2001 1266.1,2057 1267.4,2065 1268.8,2081 1270.1,2025 1271.5,2033 1272.8,2041 1274.1,1985 1275.5,2033 1276.8,2017 1278.2,2081 1279.5,2049 1280.8,1993 1282.2,2033 1283.5,2073 1284.9,2049 1286.2,2033 1287.5,2065 1288.9,2081 1290.2,2057 1291.6,2057 1292.9,2049 1294.3,2049 1295.6,2049 1296.9,2001 1298.3,2057 1299.6,2049 1301,2049 1302.3,2025 1303.6,2057 1305,2057 1306.3,2049 1307.7,2009 1309,2073 1310.3,2049 1311.7,2057 1313,2057 1314.4,2049 1315.7,2049 1317.1,2073 1318.4,2081 1319.7,2049 1321.1,2049 1322.4,2033 1323.8,2081 1325.1,2041 1326.4,2041 1327,2076.3 1328.5,2086 1331.4,2097 1335.7,2072.2 1336.4,2086 1345.8,2097 1353.7,2074.9 1355.4,2059.7 1357.8,2086 1361,2097 1364.6,2086 1366.5,2059.7 1366.7,2065 1368,2033 1369.4,2049 1370.7,2057 1372,2041 1373.4,2017 1374.7,2057 1376.1,2073 1377.4,2033 1378.7,2041 1380.1,2081 1381.4,2057 1382.8,2065 1384.1,2049 1385.4,2081 1386.8,1985 1388.1,2001 1389.5,2073 1390.8,2017 1392.2,2097 1393.5,2065 1394.8,2097 1396.2,2073 1397.5,2017 1398.9,2049 1400.2,2017 1401.5,2025 1402.9,2097 1404.2,2089 1405.6,2097 1406.9,2065 1408.2,2041 1409.6,2089 1410.9,2089 1412.3,2065 1413.6,2025 1415,2017 1416.3,2025 1417.6,2009 1419,2065 1420.3,2017 1421.7,2049 1423,2057L1423,2097"/><path id="p13" d="M271,2251L271,2219 272.3,2179 273.7,2203 275,2211 276.4,2171 277.7,2211 279,2219 280.4,2219 281.7,2219 283.1,2171 284.4,2235 285.8,2195 287.1,2179 288.4,2235 289.8,2187 291.1,2251 292.5,2251 293.8,2211 295.1,2243 296.5,2211 297.8,2227 299.2,2219 300.5,2211 301.8,2219 303.2,2235 304.5,2211 305.9,2203 307.2,2147 308.6,2219 309.9,2227 311.2,2203 312.6,2195 313.9,2251 315.3,2227 316.6,2227 317.9,2203 319.3,2211 320.6,2219 322,2219 323.3,2203 324.6,2187 326,2235 327.3,2227 328.7,2179 330,2219 331.3,2219 332.7,2203 334,2155 335.4,2235 336.7,2243 338.1,2203 339.4,2243 340.7,2203 342.1,2219 343.4,2227 344.8,2219 346.1,2211 347.4,2219 348.8,2251 350.1,2211 351.5,2227 352.8,2219 354.1,2219 355.5,2235 356.8,2187 358.2,2235 359.5,2155 360.9,2195 362.2,2203 363.5,2227 364.9,2227 366.2,2211 367.6,2179 368.9,2203 370.2,2179 371.6,2187 372.9,2251 374.3,2211 375.6,2235 376.9,2219 378.3,2235 379.6,2179 381,2203 382.3,2163 383.7,2211 385,2187 386.3,2211 387.7,2187 389,2243 390.4,2219 391.7,2203 393,2211 394.4,2203 395.7,2219 397.1,2227 398.4,2219 399.7,2163 401.1,2219 402.4,2219 403.8,2235 405.1,2203 406.5,2227 407.8,2203 409.1,2227 410.5,2187 411.8,2219 413.2,2155 414.5,2203 415.8,2203 417.2,2195 418.5,2115 419.9,2179 421.2,2227 422.5,2195 423.9,2195 425.2,2195 426.6,2113 427.9,2203 429.2,2235 430.6,2227 431.9,2171 433.3,2211 434.6,2219 436,2227 437.3,2227 438.6,2235 440,2139 441.3,2203 442.7,2227 444,2203 445.3,2235 446.7,2187 448,2139 449.4,2219 450.7,2203 452,2139 453.4,2187 454.7,2113 456.1,2179 457.4,2155 458.8,2211 460.1,2195 461.4,2203 462.8,2195 464.1,2203 465.5,2227 466.8,2211 468.1,2227 469.5,2187 470.8,2219 472.2,2187 473.5,2227 474.8,2227 476.2,2227 477.5,2219 478.9,2211 480.2,2227 481.6,2219 482.9,2187 484.2,2195 485.6,2251 486.9,2219 488.3,2227 489.6,2203 490.9,2195 492.3,2211 493.6,2227 495,2235 496.3,2227 497.6,2195 499,2219 500.3,2211 501.7,2195 503,2235 504.4,2227 505.7,2251 507,2203 508.4,2219 509.7,2179 511.1,2211 512.4,2219 513.7,2227 515.1,2227 516.4,2203 517.8,2235 519.1,2227 520.4,2219 521.8,2219 523.1,2211 524.5,2155 525.8,2163 527.1,2195 528.5,2219 529.8,2211 531.2,2219 532.5,2243 533.9,2203 535.2,2163 536.5,2171 537.9,2123 539.2,2235 540.6,2195 541.9,2171 543.2,2195 544.6,2123 545.9,2203 547.3,2219 548.6,2123 549.9,2131 551.3,2179 552.6,2219 554,2195 555.3,2227 556.7,2251 558,2219 559.3,2155 560.7,2243 562,2211 563.4,2211 564.7,2227 566,2179 567.4,2187 568.7,2203 570.1,2187 571.4,2163 572.7,2187 574.1,2211 575.4,2139 576.8,2195 578.1,2179 579.5,2219 580.8,2187 582.1,2235 583.5,2203 584.8,2187 586.2,2211 587.5,2219 588.8,2243 590.2,2243 591.5,2211 592.9,2211 594.2,2203 595.5,2195 596.9,2219 598.2,2235 599.6,2227 600.9,2203 602.3,2219 603.6,2227 604.9,2179 606.3,2219 607.6,2203 609,2251 610.3,2227 611.6,2227 613,2219 614.3,2219 615.7,2219 617,2235 618.3,2211 619.7,2195 621,2163 622.4,2203 623.7,2187 625,2211 626.4,2195 627.7,2203 629.1,2203 630.4,2203 631.8,2187 633.1,2227 634.4,2227 635.8,2187 637.1,2203 638.5,2187 639.8,2219 641.1,2203 642.5,2187 643.8,2163 645.2,2147 646.5,2235 647.8,2211 649.2,2243 650.5,2195 651.9,2219 653.2,2219 654.6,2195 655.9,2139 657.2,2219 658.6,2195 659.9,2219 661.3,2203 662.6,2211 663.9,2219 665.3,2131 666.6,2219 668,2195 669.3,2235 670.6,2211 672,2179 673.3,2227 674.7,2219 676,2251 677.4,2211 678.7,2211 680,2211 681.4,2227 682.7,2227 684.1,2195 685.4,2211 686.7,2211 688.1,2195 689.4,2211 690.8,2163 692.1,2195 693.4,2219 694.8,2163 696.1,2219 697.5,2227 698.8,2203 700.2,2187 701.5,2219 702.8,2243 704.2,2211 705.5,2227 706.9,2219 708.2,2227 709.5,2227 710.9,2235 712.2,2235 713.6,2227 714.9,2219 716.2,2203 717.6,2235 718.9,2235 720.3,2211 721.6,2203 722.9,2243 724.3,2211 725.6,2235 727,2235 728.3,2235 729.7,2171 731,2203 732.3,2251 733.7,2235 735,2211 736.4,2227 737.7,2243 739,2227 740.4,2243 741.7,2235 743.1,2195 744.4,2251 745.7,2203 747.1,2179 748.4,2235 749.8,2211 751.1,2187 752.5,2219 753.8,2235 755.1,2211 756.5,2227 757.8,2219 759.2,2219 760.5,2227 761.8,2227 763.2,2227 764.5,2235 765.9,2219 767.2,2235 768.5,2195 769.9,2243 771.2,2243 772.6,2235 773.9,2243 775.3,2219 776.6,2251 777.9,2211 779.3,2227 780.6,2219 782,2211 783.3,2195 784.6,2227 786,2243 787.3,2195 788.7,2227 790,2203 791.3,2179 792.7,2211 794,2219 795.4,2195 796.7,2219 798.1,2219 799.4,2171 800.7,2243 802.1,2179 803.4,2211 804.8,2195 806.1,2203 807.4,2195 808.8,2219 810.1,2235 811.5,2179 812.8,2219 814.1,2235 815.5,2163 816.8,2227 818.2,2227 819.5,2203 820.8,2243 822.2,2211 823.5,2211 824.9,2219 826.2,2227 827.6,2195 828.9,2147 830.2,2211 831.6,2219 832.9,2219 834.3,2211 835.6,2227 836.9,2203 838.3,2171 839.6,2211 841,2179 842.3,2179 843.6,2211 845,2203 846.3,2243 847.7,2219 849,2219 850.4,2203 851.7,2171 853,2227 854.4,2203 855.7,2195 857.1,2211 858.4,2203 859.7,2227 861.1,2203 862.4,2179 863.8,2235 865.1,2211 866.4,2211 867.8,2235 869.1,2195 870.5,2227 871.8,2243 873.2,2171 874.5,2235 875.8,2227 877.2,2211 878.5,2171 879.9,2211 881.2,2227 882.5,2211 883.9,2251 885.2,2179 886.6,2203 887.9,2203 889.2,2227 890.6,2227 891.9,2163 893.3,2131 894.6,2219 895.9,2171 897.3,2235 898.6,2219 900,2243 901.3,2211 902.7,2219 904,2227 905.3,2235 906.7,2251 908,2219 909.4,2219 910.7,2211 912,2195 913.4,2235 914.7,2227 916.1,2211 917.4,2147 918.7,2243 920.1,2211 921.4,2211 922.8,2179 924.1,2203 925.5,2227 926.8,2211 928.1,2195 929.5,2203 930.8,2203 932.2,2219 933.5,2243 934.8,2187 936.2,2211 937.5,2211 938.9,2235 940.2,2227 941.5,2211 942.9,2219 944.2,2195 945.6,2203 946.9,2227 948.3,2195 949.6,2227 950.9,2203 952.3,2203 953.6,2219 955,2219 956.3,2187 957.6,2131 959,2195 960.3,2211 961.7,2227 963,2179 964.3,2211 965.7,2155 967,2203 968.4,2211 969.7,2235 971.1,2187 972.4,2211 973.7,2211 975.1,2195 976.4,2219 977.8,2219 979.1,2195 980.4,2195 981.8,2203 983.1,2219 984.5,2203 985.8,2211 987.1,2195 988.5,2227 989.8,2235 991.2,2195 992.5,2187 993.8,2211 995.2,2211 996.5,2203 997.9,2155 999.2,2219 1000.6,2227 1001.9,2203 1003.2,2203 1004.6,2123 1005.9,2235 1007.3,2211 1008.6,2243 1009.9,2139 1011.3,2211 1012.6,2227 1014,2203 1015.3,2195 1016.6,2179 1018,2243 1019.3,2235 1020.7,2211 1022,2227 1023.4,2219 1024.7,2187 1026,2251 1027.4,2187 1028.7,2155 1030.1,2243 1031.4,2203 1032.7,2211 1034.1,2155 1035.4,2219 1036.8,2179 1038.1,2211 1039.4,2203 1040.8,2187 1042.1,2195 1043.5,2227 1044.8,2243 1046.2,2219 1047.5,2227 1048.8,2219 1050.2,2211 1051.5,2211 1052.9,2219 1054.2,2211 1055.5,2235 1056.9,2203 1058.2,2251 1059.6,2219 1060.9,2139 1062.2,2219 1063.6,2195 1064.9,2195 1066.3,2179 1067.6,2227 1069,2243 1070.3,2227 1071.6,2163 1073,2195 1074.3,2243 1075.7,2203 1077,2219 1078.3,2219 1079.7,2163 1081,2211 1082.4,2219 1083.7,2227 1085,2195 1086.4,2195 1087.7,2227 1089.1,2219 1090.4,2227 1091.7,2219 1093.1,2227 1094.4,2227 1095.8,2211 1097.1,2211 1098.5,2171 1099.8,2243 1101.1,2235 1102.5,2227 1103.8,2235 1105.2,2195 1106.5,2171 1107.8,2235 1109.2,2227 1110.5,2251 1111.9,2203 1113.2,2219 1114.5,2171 1115.9,2179 1117.2,2195 1118.6,2211 1119.9,2131 1121.3,2227 1122.6,2211 1123.9,2211 1125.3,2163 1126.6,2227 1128,2227 1129.3,2227 1130.6,2235 1132,2243 1133.3,2219 1134.7,2251 1136,2187 1137.3,2187 1138.7,2131 1140,2251 1141.4,2227 1142.7,2211 1144.1,2195 1145.4,2203 1146.7,2203 1148.1,2219 1149.4,2203 1150.8,2203 1152.1,2219 1153.4,2203 1154.8,2219 1156.1,2219 1157.5,2179 1158.8,2195 1160.1,2227 1161.5,2219 1162.8,2203 1164.2,2219 1165.5,2195 1166.9,2243 1168.2,2219 1169.5,2235 1170.9,2219 1172.2,2243 1173.6,2243 1174.9,2211 1176.2,2243 1177.6,2211 1178.9,2203 1180.3,2235 1181.6,2195 1182.9,2219 1184.3,2211 1185.6,2195 1187,2195 1188.3,2195 1189.6,2235 1191,2203 1192.3,2219 1193.7,2219 1195,2187 1196.4,2203 1197.7,2187 1199,2195 1200.4,2251 1201.7,2203 1203.1,2235 1204.4,2243 1205.7,2195 1207.1,2235 1208.4,2219 1209.8,2227 1211.1,2227 1212.4,2235 1213.8,2195 1215.1,2251 1216.5,2243 1217.8,2235 1219.2,2203 1220.5,2235 1221.8,2251 1223.2,2243 1224.5,2219 1225.9,2203 1227.2,2251 1228.5,2179 1229.9,2179 1231.2,2219 1232.6,2227 1233.9,2219 1235.2,2171 1236.6,2227 1237.9,2235 1239.3,2147 1240.6,2251 1242,2219 1243.3,2187 1244.6,2203 1246,2115 1247.3,2187 1248.7,2235 1250,2219 1251.3,2203 1252.7,2163 1254,2195 1255.4,2251 1256.7,2187 1258,2219 1259.4,2123 1260.7,2227 1262.1,2195 1263.4,2155 1264.8,2227 1266.1,2155 1267.4,2139 1268.8,2211 1270.1,2219 1271.5,2235 1272.8,2187 1274.1,2211 1275.5,2251 1276.8,2211 1278.2,2235 1279.5,2219 1280.8,2211 1282.2,2203 1283.5,2227 1284.9,2251 1286.2,2227 1287.5,2243 1288.9,2211 1290.2,2219 1291.6,2219 1292.9,2227 1294.3,2195 1295.6,2163 1296.9,2219 1298.3,2211 1299.6,2251 1301,2163 1302.3,2203 1303.6,2227 1305,2211 1306.3,2203 1307.7,2203 1309,2227 1310.3,2219 1311.7,2227 1313,2219 1314.4,2219 1315.7,2227 1317.1,2219 1318.4,2243 1319.7,2195 1321.1,2227 1322.4,2211 1323.8,2171 1325,2223.4 1326.1,2235.8 1337.6,2251 1347.7,2235.8 1349.7,2220.6 1351.6,2241.3 1353.7,2235.8 1355.4,2237.2 1361.7,2251 1368.2,2235.8 1369.4,2195 1370.7,2219 1372,2211 1373.4,2211 1374.7,2219 1376.1,2203 1377.4,2219 1378.7,2195 1380.1,2203 1381.4,2227 1382.8,2211 1384.1,2203 1385.4,2235 1386.8,2235 1388.1,2227 1389.5,2195 1390.8,2243 1392.2,2227 1393.5,2203 1394.8,2235 1396.2,2195 1397.5,2227 1398.9,2179 1400.2,2187 1401.5,2131 1402.9,2195 1404.2,2219 1405.6,2227 1406.9,2147 1408.2,2155 1409.6,2187 1410.9,2227 1412.3,2219 1413.6,2203 1415,2235 1416.3,2195 1417.6,2211 1419,2235 1420.3,2163 1421.7,2235 1423,2203L1423,2251"/><path id="p14" d="M271,2405L271,2333 272.3,2381 273.7,2381 275,2373 276.4,2357 277.7,2301 279,2349 280.4,2333 281.7,2357 283.1,2341 284.4,2381 285.8,2381 287.1,2357 288.4,2365 289.8,2381 291.1,2357 292.5,2373 293.8,2365 295.1,2389 296.5,2389 297.8,2405 299.2,2301 300.5,2365 301.8,2357 303.2,2373 304.5,2373 305.9,2301 307.2,2293 308.6,2365 309.9,2365 311.2,2373 312.6,2317 313.9,2357 315.3,2365 316.6,2277 317.9,2397 319.3,2365 320.6,2373 322,2389 323.3,2373 324.6,2333 326,2373 327.3,2357 328.7,2365 330,2357 331.3,2333 332.7,2365 334,2349 335.4,2365 336.7,2365 338.1,2373 339.4,2365 340.7,2365 342.1,2309 343.4,2381 344.8,2381 346.1,2357 347.4,2381 348.8,2357 350.1,2381 351.5,2389 352.8,2381 354.1,2381 355.5,2389 356.8,2381 358.2,2373 359.5,2397 360.9,2365 362.2,2365 363.5,2349 364.9,2365 366.2,2381 367.6,2333 368.9,2373 370.2,2301 371.6,2397 372.9,2373 374.3,2373 375.6,2373 376.9,2381 378.3,2325 379.6,2405 381,2381 382.3,2357 383.7,2293 385,2325 386.3,2397 387.7,2341 389,2373 390.4,2357 391.7,2365 393,2357 394.4,2397 395.7,2405 397.1,2373 398.4,2309 399.7,2357 401.1,2365 402.4,2405 403.8,2365 405.1,2381 406.5,2341 407.8,2365 409.1,2357 410.5,2349 411.8,2325 413.2,2381 414.5,2269 415.8,2357 417.2,2397 418.5,2389 419.9,2365 421.2,2317 422.5,2349 423.9,2389 425.2,2397 426.6,2405 427.9,2285 429.2,2357 430.6,2381 431.9,2293 433.3,2365 434.6,2389 436,2397 437.3,2293 438.6,2357 440,2373 441.3,2389 442.7,2389 444,2341 445.3,2389 446.7,2333 448,2365 449.4,2381 450.7,2357 452,2381 453.4,2373 454.7,2293 456.1,2349 457.4,2365 458.8,2349 460.1,2381 461.4,2397 462.8,2365 464.1,2381 465.5,2373 466.8,2373 468.1,2381 469.5,2397 470.8,2349 472.2,2381 473.5,2397 474.8,2357 476.2,2389 477.5,2365 478.9,2389 480.2,2389 481.6,2349 482.9,2349 484.2,2365 485.6,2365 486.9,2357 488.3,2325 489.6,2381 490.9,2365 492.3,2349 493.6,2349 495,2341 496.3,2365 497.6,2349 499,2373 500.3,2405 501.7,2357 503,2341 504.4,2357 505.7,2349 507,2365 508.4,2349 509.7,2381 511.1,2341 512.4,2381 513.7,2365 515.1,2317 516.4,2357 517.8,2397 519.1,2341 520.4,2373 521.8,2357 523.1,2333 524.5,2373 525.8,2277 527.1,2357 528.5,2349 529.8,2357 531.2,2357 532.5,2381 533.9,2357 535.2,2365 536.5,2373 537.9,2357 539.2,2381 540.6,2397 541.9,2293 543.2,2389 544.6,2373 545.9,2389 547.3,2365 548.6,2365 549.9,2381 551.3,2389 552.6,2357 554,2381 555.3,2373 556.7,2373 558,2397 559.3,2381 560.7,2349 562,2381 563.4,2365 564.7,2373 566,2389 567.4,2405 568.7,2389 570.1,2357 571.4,2381 572.7,2373 574.1,2357 575.4,2373 576.8,2373 578.1,2357 579.5,2389 580.8,2349 582.1,2381 583.5,2397 584.8,2389 586.2,2365 587.5,2405 588.8,2397 590.2,2357 591.5,2365 592.9,2349 594.2,2373 595.5,2341 596.9,2301 598.2,2389 599.6,2373 600.9,2357 602.3,2381 603.6,2349 604.9,2389 606.3,2357 607.6,2373 609,2373 610.3,2365 611.6,2341 613,2381 614.3,2341 615.7,2365 617,2381 618.3,2373 619.7,2373 621,2325 622.4,2293 623.7,2349 625,2365 626.4,2389 627.7,2389 629.1,2365 630.4,2373 631.8,2365 633.1,2341 634.4,2357 635.8,2325 637.1,2341 638.5,2389 639.8,2373 641.1,2301 642.5,2381 643.8,2389 645.2,2381 646.5,2405 647.8,2373 649.2,2381 650.5,2357 651.9,2397 653.2,2301 654.6,2389 655.9,2389 657.2,2293 658.6,2357 659.9,2349 661.3,2381 662.6,2325 663.9,2317 665.3,2357 666.6,2389 668,2389 669.3,2325 670.6,2365 672,2365 673.3,2341 674.7,2333 676,2349 677.4,2373 678.7,2381 680,2365 681.4,2405 682.7,2357 684.1,2389 685.4,2349 686.7,2381 688.1,2397 689.4,2373 690.8,2381 692.1,2373 693.4,2333 694.8,2341 696.1,2301 697.5,2357 698.8,2381 700.2,2389 701.5,2381 702.8,2373 704.2,2405 705.5,2365 706.9,2325 708.2,2357 709.5,2357 710.9,2381 712.2,2389 713.6,2389 714.9,2365 716.2,2333 717.6,2333 718.9,2397 720.3,2397 721.6,2365 722.9,2333 724.3,2373 725.6,2381 727,2389 728.3,2357 729.7,2389 731,2333 732.3,2397 733.7,2357 735,2381 736.4,2365 737.7,2365 739,2373 740.4,2349 741.7,2365 743.1,2341 744.4,2365 745.7,2373 747.1,2365 748.4,2389 749.8,2373 751.1,2373 752.5,2389 753.8,2389 755.1,2373 756.5,2397 757.8,2405 759.2,2389 760.5,2365 761.8,2341 763.2,2341 764.5,2365 765.9,2341 767.2,2357 768.5,2357 769.9,2381 771.2,2381 772.6,2349 773.9,2373 775.3,2333 776.6,2341 777.9,2349 779.3,2365 780.6,2381 782,2349 783.3,2301 784.6,2357 786,2349 787.3,2357 788.7,2373 790,2365 791.3,2381 792.7,2357 794,2349 795.4,2365 796.7,2397 798.1,2333 799.4,2285 800.7,2357 802.1,2381 803.4,2341 804.8,2349 806.1,2365 807.4,2349 808.8,2405 810.1,2397 811.5,2405 812.8,2397 814.1,2365 815.5,2357 816.8,2389 818.2,2357 819.5,2397 820.8,2365 822.2,2301 823.5,2349 824.9,2357 826.2,2333 827.6,2301 828.9,2389 830.2,2349 831.6,2333 832.9,2405 834.3,2365 835.6,2373 836.9,2293 838.3,2381 839.6,2381 841,2405 842.3,2381 843.6,2381 845,2373 846.3,2309 847.7,2389 849,2405 850.4,2365 851.7,2373 853,2373 854.4,2397 855.7,2373 857.1,2365 858.4,2349 859.7,2373 861.1,2381 862.4,2373 863.8,2381 865.1,2373 866.4,2357 867.8,2309 869.1,2349 870.5,2301 871.8,2325 873.2,2365 874.5,2357 875.8,2357 877.2,2365 878.5,2317 879.9,2357 881.2,2389 882.5,2365 883.9,2389 885.2,2365 886.6,2365 887.9,2389 889.2,2381 890.6,2357 891.9,2333 893.3,2397 894.6,2389 895.9,2357 897.3,2357 898.6,2341 900,2349 901.3,2381 902.7,2365 904,2373 905.3,2357 906.7,2365 908,2381 909.4,2389 910.7,2349 912,2365 913.4,2365 914.7,2389 916.1,2365 917.4,2381 918.7,2373 920.1,2381 921.4,2373 922.8,2357 924.1,2397 925.5,2357 926.8,2373 928.1,2357 929.5,2341 930.8,2373 932.2,2365 933.5,2381 934.8,2349 936.2,2373 937.5,2341 938.9,2357 940.2,2349 941.5,2373 942.9,2357 944.2,2349 945.6,2277 946.9,2373 948.3,2381 949.6,2381 950.9,2341 952.3,2381 953.6,2285 955,2381 956.3,2365 957.6,2373 959,2365 960.3,2397 961.7,2357 963,2357 964.3,2397 965.7,2301 967,2397 968.4,2389 969.7,2381 971.1,2365 972.4,2373 973.7,2405 975.1,2389 976.4,2389 977.8,2381 979.1,2357 980.4,2317 981.8,2381 983.1,2317 984.5,2373 985.8,2349 987.1,2349 988.5,2357 989.8,2333 991.2,2373 992.5,2365 993.8,2365 995.2,2381 996.5,2389 997.9,2357 999.2,2373 1000.6,2389 1001.9,2309 1003.2,2293 1004.6,2373 1005.9,2341 1007.3,2365 1008.6,2357 1009.9,2381 1011.3,2381 1012.6,2365 1014,2397 1015.3,2373 1016.6,2373 1018,2373 1019.3,2381 1020.7,2381 1022,2381 1023.4,2357 1024.7,2373 1026,2317 1027.4,2381 1028.7,2349 1030.1,2357 1031.4,2349 1032.7,2389 1034.1,2357 1035.4,2357 1036.8,2365 1038.1,2357 1039.4,2373 1040.8,2357 1042.1,2389 1043.5,2373 1044.8,2389 1046.2,2381 1047.5,2389 1048.8,2381 1050.2,2405 1051.5,2381 1052.9,2357 1054.2,2381 1055.5,2389 1056.9,2397 1058.2,2381 1059.6,2405 1060.9,2381 1062.2,2301 1063.6,2357 1064.9,2373 1066.3,2325 1067.6,2381 1069,2373 1070.3,2365 1071.6,2333 1073,2365 1074.3,2301 1075.7,2389 1077,2397 1078.3,2381 1079.7,2397 1081,2349 1082.4,2397 1083.7,2381 1085,2373 1086.4,2365 1087.7,2405 1089.1,2381 1090.4,2381 1091.7,2365 1093.1,2357 1094.4,2373 1095.8,2349 1097.1,2405 1098.5,2373 1099.8,2333 1101.1,2357 1102.5,2357 1103.8,2365 1105.2,2373 1106.5,2373 1107.8,2373 1109.2,2357 1110.5,2381 1111.9,2381 1113.2,2365 1114.5,2349 1115.9,2365 1117.2,2389 1118.6,2349 1119.9,2389 1121.3,2381 1122.6,2357 1123.9,2333 1125.3,2373 1126.6,2349 1128,2381 1129.3,2357 1130.6,2365 1132,2373 1133.3,2381 1134.7,2365 1136,2397 1137.3,2357 1138.7,2325 1140,2365 1141.4,2309 1142.7,2357 1144.1,2309 1145.4,2357 1146.7,2293 1148.1,2365 1149.4,2357 1150.8,2357 1152.1,2381 1153.4,2365 1154.8,2381 1156.1,2349 1157.5,2365 1158.8,2341 1160.1,2341 1161.5,2389 1162.8,2357 1164.2,2301 1165.5,2365 1166.9,2397 1168.2,2349 1169.5,2405 1170.9,2381 1172.2,2317 1173.6,2365 1174.9,2365 1176.2,2381 1177.6,2357 1178.9,2365 1180.3,2341 1181.6,2357 1182.9,2405 1184.3,2381 1185.6,2349 1187,2397 1188.3,2309 1189.6,2373 1191,2365 1192.3,2365 1193.7,2309 1195,2373 1196.4,2365 1197.7,2365 1199,2309 1200.4,2325 1201.7,2365 1203.1,2357 1204.4,2349 1205.7,2349 1207.1,2325 1208.4,2357 1209.8,2357 1211.1,2365 1212.4,2317 1213.8,2357 1215.1,2373 1216.5,2365 1217.8,2389 1219.2,2381 1220.5,2309 1221.8,2389 1223.2,2317 1224.5,2381 1225.9,2397 1227.2,2365 1228.5,2357 1229.9,2365 1231.2,2349 1232.6,2373 1233.9,2325 1235.2,2325 1236.6,2357 1237.9,2293 1239.3,2365 1240.6,2349 1242,2285 1243.3,2349 1244.6,2349 1246,2365 1247.3,2349 1248.7,2285 1250,2333 1251.3,2269 1252.7,2357 1254,2357 1255.4,2357 1256.7,2349 1258,2373 1259.4,2341 1260.7,2349 1262.1,2333 1263.4,2373 1264.8,2341 1266.1,2381 1267.4,2405 1268.8,2373 1270.1,2357 1271.5,2373 1272.8,2333 1274.1,2365 1275.5,2349 1276.8,2333 1278.2,2357 1279.5,2301 1280.8,2373 1282.2,2349 1283.5,2365 1284.9,2349 1286.2,2349 1287.5,2285 1288.9,2325 1290.2,2277 1291.6,2381 1292.9,2357 1294.3,2325 1295.6,2381 1296.9,2333 1298.3,2397 1299.6,2373 1301,2365 1302.3,2381 1303.6,2325 1305,2357 1306.3,2405 1307.7,2333 1309,2357 1310.3,2293 1311.7,2381 1313,2373 1314.4,2381 1315.7,2357 1317.1,2341 1318.4,2365 1319.7,2381 1321.1,2397 1322.4,2397 1323.8,2349 1325.1,2373 1326,2377.4 1327.3,2385.7 1337.6,2405 1347,2395.3 1349.7,2348.4 1351.6,2395.3 1355,2385.7 1356.9,2395.3 1361,2405 1367,2394.7 1368,2373 1369.4,2381 1370.7,2365 1372,2389 1373.4,2349 1374.7,2333 1376.1,2325 1377.4,2397 1378.7,2309 1380.1,2373 1381.4,2381 1382.8,2357 1384.1,2373 1385.4,2405 1386.8,2341 1388.1,2365 1389.5,2357 1390.8,2357 1392.2,2333 1393.5,2389 1394.8,2405 1396.2,2357 1397.5,2389 1398.9,2373 1400.2,2349 1401.5,2333 1402.9,2317 1404.2,2349 1405.6,2389 1406.9,2381 1408.2,2381 1409.6,2381 1410.9,2389 1412.3,2333 1413.6,2373 1415,2381 1416.3,2389 1417.6,2301 1419,2325 1420.3,2381 1421.7,2333 1423,2373L1423,2405"/><path id="p15" d="M271,2559L271,2543 272.3,2535 273.7,2543 275,2535 276.4,2535 277.7,2535 279,2535 280.4,2519 281.7,2535 283.1,2543 284.4,2535 285.8,2535 287.1,2519 288.4,2543 289.8,2511 291.1,2527 292.5,2543 293.8,2527 295.1,2527 296.5,2535 297.8,2527 299.2,2535 300.5,2519 301.8,2535 303.2,2519 304.5,2535 305.9,2503 307.2,2527 308.6,2487 309.9,2527 311.2,2527 312.6,2503 313.9,2503 315.3,2511 316.6,2543 317.9,2527 319.3,2535 320.6,2535 322,2527 323.3,2487 324.6,2535 326,2503 327.3,2503 328.7,2535 330,2535 331.3,2543 332.7,2551 334,2519 335.4,2535 336.7,2527 338.1,2551 339.4,2543 340.7,2527 342.1,2527 343.4,2535 344.8,2519 346.1,2551 347.4,2479 348.8,2519 350.1,2527 351.5,2535 352.8,2527 354.1,2543 355.5,2543 356.8,2527 358.2,2559 359.5,2527 360.9,2495 362.2,2527 363.5,2511 364.9,2527 366.2,2511 367.6,2519 368.9,2503 370.2,2543 371.6,2511 372.9,2551 374.3,2559 375.6,2535 376.9,2535 378.3,2535 379.6,2559 381,2503 382.3,2543 383.7,2527 385,2519 386.3,2527 387.7,2519 389,2511 390.4,2527 391.7,2543 393,2551 394.4,2543 395.7,2527 397.1,2519 398.4,2511 399.7,2551 401.1,2511 402.4,2551 403.8,2543 405.1,2503 406.5,2535 407.8,2535 409.1,2535 410.5,2447 411.8,2519 413.2,2511 414.5,2559 415.8,2535 417.2,2479 418.5,2431 419.9,2551 421.2,2519 422.5,2543 423.9,2559 425.2,2487 426.6,2455 427.9,2503 429.2,2519 430.6,2423 431.9,2519 433.3,2519 434.6,2471 436,2511 437.3,2543 438.6,2479 440,2535 441.3,2551 442.7,2519 444,2535 445.3,2495 446.7,2559 448,2527 449.4,2527 450.7,2527 452,2471 453.4,2495 454.7,2551 456.1,2487 457.4,2495 458.8,2511 460.1,2511 461.4,2535 462.8,2503 464.1,2511 465.5,2519 466.8,2511 468.1,2527 469.5,2503 470.8,2559 472.2,2559 473.5,2487 474.8,2511 476.2,2535 477.5,2535 478.9,2543 480.2,2527 481.6,2535 482.9,2535 484.2,2527 485.6,2543 486.9,2527 488.3,2503 489.6,2535 490.9,2527 492.3,2535 493.6,2527 495,2551 496.3,2543 497.6,2543 499,2527 500.3,2527 501.7,2543 503,2535 504.4,2527 505.7,2503 507,2519 508.4,2527 509.7,2511 511.1,2519 512.4,2543 513.7,2535 515.1,2519 516.4,2527 517.8,2527 519.1,2511 520.4,2527 521.8,2535 523.1,2543 524.5,2503 525.8,2511 527.1,2519 528.5,2535 529.8,2519 531.2,2519 532.5,2527 533.9,2511 535.2,2535 536.5,2495 537.9,2527 539.2,2535 540.6,2455 541.9,2535 543.2,2535 544.6,2511 545.9,2543 547.3,2519 548.6,2543 549.9,2519 551.3,2543 552.6,2543 554,2527 555.3,2543 556.7,2535 558,2543 559.3,2527 560.7,2511 562,2519 563.4,2527 564.7,2527 566,2511 567.4,2551 568.7,2527 570.1,2535 571.4,2543 572.7,2527 574.1,2527 575.4,2543 576.8,2511 578.1,2519 579.5,2511 580.8,2527 582.1,2535 583.5,2527 584.8,2503 586.2,2527 587.5,2535 588.8,2527 590.2,2527 591.5,2527 592.9,2527 594.2,2559 595.5,2543 596.9,2527 598.2,2527 599.6,2535 600.9,2551 602.3,2535 603.6,2519 604.9,2551 606.3,2519 607.6,2511 609,2527 610.3,2543 611.6,2519 613,2543 614.3,2519 615.7,2543 617,2527 618.3,2543 619.7,2559 621,2527 622.4,2543 623.7,2527 625,2535 626.4,2535 627.7,2535 629.1,2519 630.4,2527 631.8,2543 633.1,2535 634.4,2535 635.8,2519 637.1,2535 638.5,2535 639.8,2527 641.1,2527 642.5,2535 643.8,2519 645.2,2519 646.5,2511 647.8,2543 649.2,2527 650.5,2479 651.9,2535 653.2,2487 654.6,2543 655.9,2535 657.2,2543 658.6,2519 659.9,2535 661.3,2535 662.6,2535 663.9,2535 665.3,2543 666.6,2543 668,2495 669.3,2479 670.6,2551 672,2519 673.3,2543 674.7,2511 676,2527 677.4,2527 678.7,2511 680,2519 681.4,2511 682.7,2511 684.1,2495 685.4,2519 686.7,2471 688.1,2527 689.4,2503 690.8,2511 692.1,2487 693.4,2495 694.8,2519 696.1,2511 697.5,2551 698.8,2535 700.2,2527 701.5,2527 702.8,2479 704.2,2543 705.5,2479 706.9,2535 708.2,2543 709.5,2551 710.9,2543 712.2,2519 713.6,2527 714.9,2543 716.2,2527 717.6,2519 718.9,2543 720.3,2519 721.6,2527 722.9,2543 724.3,2527 725.6,2559 727,2543 728.3,2527 729.7,2535 731,2551 732.3,2535 733.7,2543 735,2551 736.4,2527 737.7,2535 739,2519 740.4,2543 741.7,2527 743.1,2527 744.4,2543 745.7,2543 747.1,2543 748.4,2519 749.8,2527 751.1,2519 752.5,2511 753.8,2527 755.1,2519 756.5,2519 757.8,2519 759.2,2535 760.5,2543 761.8,2551 763.2,2511 764.5,2503 765.9,2559 767.2,2503 768.5,2535 769.9,2511 771.2,2527 772.6,2495 773.9,2503 775.3,2511 776.6,2535 777.9,2543 779.3,2527 780.6,2535 782,2535 783.3,2519 784.6,2543 786,2535 787.3,2527 788.7,2479 790,2511 791.3,2535 792.7,2527 794,2511 795.4,2535 796.7,2543 798.1,2511 799.4,2527 800.7,2471 802.1,2495 803.4,2519 804.8,2487 806.1,2511 807.4,2535 808.8,2535 810.1,2535 811.5,2503 812.8,2519 814.1,2519 815.5,2511 816.8,2511 818.2,2551 819.5,2519 820.8,2527 822.2,2527 823.5,2511 824.9,2535 826.2,2527 827.6,2519 828.9,2519 830.2,2503 831.6,2519 832.9,2511 834.3,2519 835.6,2503 836.9,2495 838.3,2511 839.6,2527 841,2511 842.3,2527 843.6,2551 845,2527 846.3,2535 847.7,2551 849,2527 850.4,2471 851.7,2535 853,2511 854.4,2543 855.7,2535 857.1,2535 858.4,2527 859.7,2519 861.1,2519 862.4,2519 863.8,2495 865.1,2519 866.4,2543 867.8,2535 869.1,2511 870.5,2519 871.8,2519 873.2,2511 874.5,2519 875.8,2551 877.2,2527 878.5,2535 879.9,2535 881.2,2543 882.5,2551 883.9,2527 885.2,2543 886.6,2535 887.9,2543 889.2,2519 890.6,2503 891.9,2535 893.3,2519 894.6,2519 895.9,2535 897.3,2543 898.6,2527 900,2503 901.3,2527 902.7,2543 904,2559 905.3,2543 906.7,2535 908,2511 909.4,2535 910.7,2495 912,2527 913.4,2519 914.7,2519 916.1,2535 917.4,2527 918.7,2543 920.1,2543 921.4,2535 922.8,2543 924.1,2535 925.5,2535 926.8,2511 928.1,2535 929.5,2527 930.8,2503 932.2,2503 933.5,2511 934.8,2527 936.2,2511 937.5,2535 938.9,2503 940.2,2527 941.5,2487 942.9,2495 944.2,2527 945.6,2527 946.9,2527 948.3,2543 949.6,2519 950.9,2535 952.3,2551 953.6,2527 955,2519 956.3,2495 957.6,2519 959,2535 960.3,2495 961.7,2519 963,2471 964.3,2511 965.7,2511 967,2535 968.4,2519 969.7,2519 971.1,2527 972.4,2519 973.7,2535 975.1,2551 976.4,2543 977.8,2551 979.1,2535 980.4,2535 981.8,2511 983.1,2519 984.5,2543 985.8,2535 987.1,2551 988.5,2527 989.8,2559 991.2,2535 992.5,2503 993.8,2519 995.2,2421 996.5,2455 997.9,2447 999.2,2487 1000.6,2559 1001.9,2495 1003.2,2519 1004.6,2495 1005.9,2495 1007.3,2503 1008.6,2431 1009.9,2479 1011.3,2495 1012.6,2503 1014,2519 1015.3,2479 1016.6,2519 1018,2439 1019.3,2463 1020.7,2431 1022,2535 1023.4,2495 1024.7,2471 1026,2503 1027.4,2487 1028.7,2535 1030.1,2519 1031.4,2519 1032.7,2503 1034.1,2535 1035.4,2527 1036.8,2511 1038.1,2527 1039.4,2519 1040.8,2543 1042.1,2519 1043.5,2551 1044.8,2527 1046.2,2511 1047.5,2551 1048.8,2535 1050.2,2551 1051.5,2535 1052.9,2535 1054.2,2527 1055.5,2527 1056.9,2527 1058.2,2535 1059.6,2559 1060.9,2535 1062.2,2543 1063.6,2543 1064.9,2551 1066.3,2519 1067.6,2503 1069,2519 1070.3,2527 1071.6,2527 1073,2511 1074.3,2559 1075.7,2527 1077,2463 1078.3,2527 1079.7,2511 1081,2503 1082.4,2543 1083.7,2535 1085,2543 1086.4,2543 1087.7,2527 1089.1,2559 1090.4,2535 1091.7,2519 1093.1,2519 1094.4,2527 1095.8,2535 1097.1,2535 1098.5,2535 1099.8,2495 1101.1,2535 1102.5,2495 1103.8,2527 1105.2,2519 1106.5,2535 1107.8,2495 1109.2,2519 1110.5,2543 1111.9,2543 1113.2,2511 1114.5,2503 1115.9,2543 1117.2,2559 1118.6,2543 1119.9,2519 1121.3,2543 1122.6,2511 1123.9,2511 1125.3,2543 1126.6,2519 1128,2519 1129.3,2519 1130.6,2511 1132,2495 1133.3,2503 1134.7,2511 1136,2487 1137.3,2519 1138.7,2527 1140,2527 1141.4,2527 1142.7,2519 1144.1,2511 1145.4,2495 1146.7,2471 1148.1,2535 1149.4,2543 1150.8,2543 1152.1,2511 1153.4,2535 1154.8,2527 1156.1,2487 1157.5,2471 1158.8,2511 1160.1,2519 1161.5,2535 1162.8,2519 1164.2,2527 1165.5,2543 1166.9,2511 1168.2,2535 1169.5,2551 1170.9,2503 1172.2,2471 1173.6,2519 1174.9,2535 1176.2,2535 1177.6,2519 1178.9,2535 1180.3,2519 1181.6,2543 1182.9,2559 1184.3,2543 1185.6,2543 1187,2527 1188.3,2535 1189.6,2503 1191,2511 1192.3,2495 1193.7,2543 1195,2527 1196.4,2559 1197.7,2519 1199,2511 1200.4,2487 1201.7,2511 1203.1,2479 1204.4,2511 1205.7,2527 1207.1,2519 1208.4,2519 1209.8,2511 1211.1,2543 1212.4,2511 1213.8,2535 1215.1,2535 1216.5,2495 1217.8,2535 1219.2,2535 1220.5,2527 1221.8,2535 1223.2,2495 1224.5,2479 1225.9,2527 1227.2,2519 1228.5,2511 1229.9,2495 1231.2,2503 1232.6,2527 1233.9,2503 1235.2,2471 1236.6,2543 1237.9,2527 1239.3,2511 1240.6,2519 1242,2559 1243.3,2503 1244.6,2519 1246,2519 1247.3,2527 1248.7,2495 1250,2479 1251.3,2551 1252.7,2495 1254,2495 1255.4,2495 1256.7,2495 1258,2495 1259.4,2511 1260.7,2543 1262.1,2487 1263.4,2495 1264.8,2479 1266.1,2543 1267.4,2511 1268.8,2495 1270.1,2463 1271.5,2527 1272.8,2551 1274.1,2527 1275.5,2527 1276.8,2519 1278.2,2535 1279.5,2511 1280.8,2535 1282.2,2511 1283.5,2527 1284.9,2487 1286.2,2479 1287.5,2503 1288.9,2527 1290.2,2503 1291.6,2543 1292.9,2479 1294.3,2511 1295.6,2519 1296.9,2551 1298.3,2551 1299.6,2543 1301,2519 1302.3,2535 1303.6,2535 1305,2527 1306.3,2535 1307.7,2519 1309,2527 1310.3,2527 1311.7,2543 1313,2519 1314.4,2511 1315.7,2543 1317.1,2551 1318.4,2551 1319.7,2543 1321.1,2535 1322.4,2527 1323.8,2527 1325,2542.4 1326.1,2549.3 1331.4,2559 1334.5,2539.7 1336.4,2520.4 1338.1,2549.3 1345.3,2559 1353.7,2539.7 1355.4,2539.7 1357.4,2550.7 1359.8,2552.1 1362.2,2559 1365.8,2546.6 1366.7,2511 1368,2527 1369.4,2503 1370.7,2519 1372,2511 1373.4,2551 1374.7,2519 1376.1,2551 1377.4,2503 1378.7,2559 1380.1,2543 1381.4,2519 1382.8,2535 1384.1,2527 1385.4,2519 1386.8,2503 1388.1,2527 1389.5,2479 1390.8,2535 1392.2,2503 1393.5,2495 1394.8,2495 1396.2,2495 1397.5,2535 1398.9,2551 1400.2,2519 1401.5,2503 1402.9,2511 1404.2,2511 1405.6,2535 1406.9,2503 1408.2,2487 1409.6,2503 1410.9,2511 1412.3,2535 1413.6,2527 1415,2535 1416.3,2487 1417.6,2519 1419,2495 1420.3,2535 1421.7,2559 1423,2543L1423,2559"/><path id="p16" d="M271,2713L271,2697 272.3,2681 273.7,2673 275,2697 276.4,2665 277.7,2665 279,2657 280.4,2673 281.7,2681 283.1,2665 284.4,2689 285.8,2673 287.1,2673 288.4,2673 289.8,2633 291.1,2657 292.5,2681 293.8,2641 295.1,2681 296.5,2649 297.8,2681 299.2,2641 300.5,2641 301.8,2665 303.2,2705 304.5,2689 305.9,2689 307.2,2665 308.6,2713 309.9,2657 311.2,2689 312.6,2657 313.9,2665 315.3,2641 316.6,2681 317.9,2681 319.3,2657 320.6,2681 322,2585 323.3,2665 324.6,2673 326,2657 327.3,2689 328.7,2673 330,2665 331.3,2673 332.7,2673 334,2665 335.4,2705 336.7,2665 338.1,2689 339.4,2705 340.7,2689 342.1,2673 343.4,2657 344.8,2681 346.1,2673 347.4,2657 348.8,2681 350.1,2681 351.5,2689 352.8,2681 354.1,2649 355.5,2673 356.8,2641 358.2,2649 359.5,2681 360.9,2625 362.2,2633 363.5,2681 364.9,2649 366.2,2689 367.6,2673 368.9,2665 370.2,2601 371.6,2601 372.9,2665 374.3,2697 375.6,2641 376.9,2657 378.3,2633 379.6,2689 381,2641 382.3,2705 383.7,2673 385,2657 386.3,2609 387.7,2641 389,2593 390.4,2601 391.7,2633 393,2633 394.4,2641 395.7,2657 397.1,2665 398.4,2657 399.7,2689 401.1,2609 402.4,2657 403.8,2641 405.1,2657 406.5,2649 407.8,2633 409.1,2649 410.5,2673 411.8,2649 413.2,2713 414.5,2681 415.8,2609 417.2,2673 418.5,2697 419.9,2705 421.2,2657 422.5,2577 423.9,2657 425.2,2673 426.6,2697 427.9,2633 429.2,2657 430.6,2713 431.9,2665 433.3,2657 434.6,2697 436,2625 437.3,2705 438.6,2681 440,2697 441.3,2673 442.7,2713 444,2641 445.3,2641 446.7,2697 448,2633 449.4,2665 450.7,2657 452,2641 453.4,2673 454.7,2657 456.1,2665 457.4,2689 458.8,2697 460.1,2673 461.4,2689 462.8,2649 464.1,2609 465.5,2649 466.8,2641 468.1,2665 469.5,2673 470.8,2649 472.2,2625 473.5,2649 474.8,2657 476.2,2673 477.5,2713 478.9,2689 480.2,2633 481.6,2713 482.9,2665 484.2,2713 485.6,2649 486.9,2681 488.3,2713 489.6,2585 490.9,2633 492.3,2649 493.6,2673 495,2633 496.3,2681 497.6,2657 499,2673 500.3,2665 501.7,2601 503,2641 504.4,2673 505.7,2633 507,2681 508.4,2673 509.7,2681 511.1,2609 512.4,2665 513.7,2665 515.1,2641 516.4,2689 517.8,2657 519.1,2665 520.4,2689 521.8,2641 523.1,2649 524.5,2665 525.8,2673 527.1,2681 528.5,2697 529.8,2593 531.2,2575 532.5,2705 533.9,2681 535.2,2673 536.5,2689 537.9,2577 539.2,2617 540.6,2673 541.9,2665 543.2,2697 544.6,2649 545.9,2681 547.3,2657 548.6,2617 549.9,2609 551.3,2673 552.6,2649 554,2689 555.3,2641 556.7,2649 558,2713 559.3,2665 560.7,2681 562,2681 563.4,2689 564.7,2665 566,2593 567.4,2665 568.7,2681 570.1,2657 571.4,2665 572.7,2609 574.1,2673 575.4,2649 576.8,2617 578.1,2657 579.5,2681 580.8,2689 582.1,2665 583.5,2681 584.8,2681 586.2,2697 587.5,2705 588.8,2689 590.2,2681 591.5,2657 592.9,2625 594.2,2681 595.5,2673 596.9,2689 598.2,2697 599.6,2649 600.9,2665 602.3,2681 603.6,2673 604.9,2617 606.3,2641 607.6,2657 609,2665 610.3,2665 611.6,2681 613,2657 614.3,2633 615.7,2681 617,2657 618.3,2713 619.7,2657 621,2665 622.4,2681 623.7,2681 625,2681 626.4,2681 627.7,2657 629.1,2665 630.4,2657 631.8,2705 633.1,2713 634.4,2689 635.8,2665 637.1,2649 638.5,2681 639.8,2689 641.1,2713 642.5,2681 643.8,2665 645.2,2649 646.5,2593 647.8,2633 649.2,2641 650.5,2585 651.9,2689 653.2,2649 654.6,2633 655.9,2593 657.2,2657 658.6,2625 659.9,2657 661.3,2665 662.6,2625 663.9,2657 665.3,2673 666.6,2625 668,2649 669.3,2665 670.6,2649 672,2673 673.3,2641 674.7,2705 676,2609 677.4,2609 678.7,2577 680,2649 681.4,2625 682.7,2657 684.1,2601 685.4,2657 686.7,2633 688.1,2649 689.4,2641 690.8,2617 692.1,2633 693.4,2705 694.8,2575 696.1,2649 697.5,2665 698.8,2713 700.2,2681 701.5,2665 702.8,2689 704.2,2617 705.5,2689 706.9,2617 708.2,2657 709.5,2665 710.9,2697 712.2,2673 713.6,2649 714.9,2681 716.2,2697 717.6,2665 718.9,2713 720.3,2657 721.6,2681 722.9,2697 724.3,2681 725.6,2697 727,2681 728.3,2697 729.7,2689 731,2681 732.3,2633 733.7,2713 735,2673 736.4,2713 737.7,2609 739,2673 740.4,2665 741.7,2657 743.1,2657 744.4,2689 745.7,2681 747.1,2673 748.4,2665 749.8,2657 751.1,2681 752.5,2649 753.8,2681 755.1,2673 756.5,2633 757.8,2697 759.2,2673 760.5,2601 761.8,2641 763.2,2665 764.5,2577 765.9,2657 767.2,2641 768.5,2665 769.9,2657 771.2,2673 772.6,2649 773.9,2657 775.3,2577 776.6,2673 777.9,2609 779.3,2673 780.6,2697 782,2673 783.3,2617 784.6,2681 786,2641 787.3,2633 788.7,2641 790,2673 791.3,2665 792.7,2657 794,2665 795.4,2649 796.7,2697 798.1,2681 799.4,2641 800.7,2673 802.1,2641 803.4,2657 804.8,2575 806.1,2649 807.4,2697 808.8,2689 810.1,2665 811.5,2657 812.8,2633 814.1,2657 815.5,2697 816.8,2697 818.2,2633 819.5,2713 820.8,2649 822.2,2657 823.5,2641 824.9,2609 826.2,2689 827.6,2649 828.9,2657 830.2,2681 831.6,2681 832.9,2633 834.3,2657 835.6,2697 836.9,2649 838.3,2665 839.6,2689 841,2593 842.3,2665 843.6,2617 845,2665 846.3,2641 847.7,2649 849,2657 850.4,2705 851.7,2657 853,2673 854.4,2689 855.7,2689 857.1,2697 858.4,2689 859.7,2673 861.1,2697 862.4,2657 863.8,2689 865.1,2705 866.4,2689 867.8,2697 869.1,2657 870.5,2657 871.8,2673 873.2,2657 874.5,2673 875.8,2705 877.2,2601 878.5,2697 879.9,2601 881.2,2665 882.5,2697 883.9,2697 885.2,2681 886.6,2705 887.9,2641 889.2,2697 890.6,2713 891.9,2633 893.3,2657 894.6,2689 895.9,2665 897.3,2665 898.6,2681 900,2673 901.3,2665 902.7,2617 904,2681 905.3,2705 906.7,2705 908,2705 909.4,2673 910.7,2665 912,2673 913.4,2633 914.7,2681 916.1,2689 917.4,2681 918.7,2665 920.1,2673 921.4,2657 922.8,2649 924.1,2673 925.5,2665 926.8,2689 928.1,2713 929.5,2657 930.8,2705 932.2,2689 933.5,2617 934.8,2689 936.2,2681 937.5,2641 938.9,2649 940.2,2681 941.5,2713 942.9,2673 944.2,2713 945.6,2713 946.9,2681 948.3,2665 949.6,2697 950.9,2713 952.3,2713 953.6,2681 955,2713 956.3,2649 957.6,2641 959,2665 960.3,2641 961.7,2633 963,2681 964.3,2673 965.7,2697 967,2625 968.4,2689 969.7,2657 971.1,2673 972.4,2681 973.7,2657 975.1,2657 976.4,2681 977.8,2713 979.1,2689 980.4,2681 981.8,2665 983.1,2633 984.5,2681 985.8,2657 987.1,2575 988.5,2665 989.8,2697 991.2,2689 992.5,2689 993.8,2689 995.2,2689 996.5,2665 997.9,2697 999.2,2665 1000.6,2713 1001.9,2689 1003.2,2649 1004.6,2657 1005.9,2633 1007.3,2689 1008.6,2673 1009.9,2665 1011.3,2641 1012.6,2689 1014,2609 1015.3,2657 1016.6,2641 1018,2681 1019.3,2625 1020.7,2641 1022,2633 1023.4,2641 1024.7,2657 1026,2665 1027.4,2575 1028.7,2657 1030.1,2609 1031.4,2641 1032.7,2641 1034.1,2601 1035.4,2577 1036.8,2641 1038.1,2585 1039.4,2593 1040.8,2657 1042.1,2617 1043.5,2657 1044.8,2681 1046.2,2673 1047.5,2665 1048.8,2705 1050.2,2657 1051.5,2673 1052.9,2673 1054.2,2705 1055.5,2689 1056.9,2689 1058.2,2673 1059.6,2649 1060.9,2689 1062.2,2713 1063.6,2665 1064.9,2625 1066.3,2657 1067.6,2633 1069,2681 1070.3,2689 1071.6,2673 1073,2657 1074.3,2657 1075.7,2665 1077,2713 1078.3,2641 1079.7,2633 1081,2633 1082.4,2657 1083.7,2657 1085,2681 1086.4,2649 1087.7,2665 1089.1,2673 1090.4,2673 1091.7,2705 1093.1,2657 1094.4,2633 1095.8,2713 1097.1,2633 1098.5,2673 1099.8,2681 1101.1,2681 1102.5,2673 1103.8,2641 1105.2,2697 1106.5,2673 1107.8,2697 1109.2,2657 1110.5,2673 1111.9,2625 1113.2,2657 1114.5,2657 1115.9,2665 1117.2,2705 1118.6,2657 1119.9,2593 1121.3,2617 1122.6,2609 1123.9,2625 1125.3,2575 1126.6,2681 1128,2649 1129.3,2673 1130.6,2657 1132,2617 1133.3,2673 1134.7,2697 1136,2681 1137.3,2657 1138.7,2601 1140,2657 1141.4,2673 1142.7,2673 1144.1,2673 1145.4,2705 1146.7,2665 1148.1,2673 1149.4,2673 1150.8,2657 1152.1,2665 1153.4,2575 1154.8,2681 1156.1,2673 1157.5,2673 1158.8,2689 1160.1,2657 1161.5,2657 1162.8,2673 1164.2,2641 1165.5,2593 1166.9,2689 1168.2,2593 1169.5,2633 1170.9,2649 1172.2,2657 1173.6,2633 1174.9,2633 1176.2,2633 1177.6,2673 1178.9,2585 1180.3,2689 1181.6,2681 1182.9,2641 1184.3,2575 1185.6,2681 1187,2625 1188.3,2593 1189.6,2697 1191,2665 1192.3,2689 1193.7,2705 1195,2575 1196.4,2689 1197.7,2689 1199,2665 1200.4,2641 1201.7,2585 1203.1,2713 1204.4,2689 1205.7,2633 1207.1,2673 1208.4,2689 1209.8,2673 1211.1,2633 1212.4,2649 1213.8,2649 1215.1,2649 1216.5,2697 1217.8,2609 1219.2,2681 1220.5,2649 1221.8,2673 1223.2,2681 1224.5,2649 1225.9,2689 1227.2,2609 1228.5,2649 1229.9,2665 1231.2,2673 1232.6,2593 1233.9,2657 1235.2,2657 1236.6,2681 1237.9,2641 1239.3,2657 1240.6,2681 1242,2689 1243.3,2665 1244.6,2641 1246,2681 1247.3,2625 1248.7,2681 1250,2593 1251.3,2705 1252.7,2673 1254,2665 1255.4,2689 1256.7,2665 1258,2665 1259.4,2665 1260.7,2681 1262.1,2705 1263.4,2681 1264.8,2649 1266.1,2681 1267.4,2665 1268.8,2665 1270.1,2665 1271.5,2633 1272.8,2633 1274.1,2575 1275.5,2665 1276.8,2657 1278.2,2649 1279.5,2649 1280.8,2625 1282.2,2713 1283.5,2657 1284.9,2625 1286.2,2657 1287.5,2657 1288.9,2673 1290.2,2673 1291.6,2689 1292.9,2641 1294.3,2681 1295.6,2641 1296.9,2585 1298.3,2673 1299.6,2689 1301,2681 1302.3,2681 1303.6,2673 1305,2657 1306.3,2657 1307.7,2681 1309,2673 1310.3,2713 1311.7,2657 1313,2617 1314.4,2697 1315.7,2673 1317.1,2649 1318.4,2657 1319.7,2657 1321.1,2713 1322.4,2697 1323.8,2641 1325,2696.4 1326.1,2703.3 1330.9,2713 1336.9,2690.9 1341.7,2713 1345.8,2703.3 1348.2,2690.9 1350.1,2703.3 1357.4,2713 1365.1,2703.3 1366.5,2657.8 1366.7,2657 1368,2665 1369.4,2609 1370.7,2713 1372,2713 1373.4,2585 1374.7,2681 1376.1,2689 1377.4,2697 1378.7,2681 1380.1,2713 1381.4,2665 1382.8,2705 1384.1,2649 1385.4,2713 1386.8,2681 1388.1,2681 1389.5,2673 1390.8,2689 1392.2,2665 1393.5,2673 1394.8,2705 1396.2,2681 1397.5,2641 1398.9,2713 1400.2,2681 1401.5,2641 1402.9,2697 1404.2,2681 1405.6,2665 1406.9,2649 1408.2,2625 1409.6,2665 1410.9,2689 1412.3,2681 1413.6,2689 1415,2713 1416.3,2633 1417.6,2633 1419,2713 1420.3,2681 1421.7,2681 1423,2641L1423,2713"/><path id="p17" d="M271,2867L271,2803 272.3,2843 273.7,2811 275,2843 276.4,2827 277.7,2787 279,2835 280.4,2803 281.7,2795 283.1,2763 284.4,2755 285.8,2843 287.1,2827 288.4,2867 289.8,2803 291.1,2835 292.5,2835 293.8,2851 295.1,2843 296.5,2827 297.8,2811 299.2,2811 300.5,2835 301.8,2851 303.2,2851 304.5,2779 305.9,2803 307.2,2779 308.6,2835 309.9,2827 311.2,2819 312.6,2819 313.9,2827 315.3,2851 316.6,2827 317.9,2835 319.3,2819 320.6,2827 322,2827 323.3,2851 324.6,2811 326,2827 327.3,2843 328.7,2827 330,2843 331.3,2827 332.7,2835 334,2843 335.4,2827 336.7,2771 338.1,2827 339.4,2811 340.7,2867 342.1,2835 343.4,2819 344.8,2835 346.1,2787 347.4,2747 348.8,2803 350.1,2827 351.5,2803 352.8,2819 354.1,2843 355.5,2795 356.8,2819 358.2,2771 359.5,2819 360.9,2795 362.2,2819 363.5,2835 364.9,2843 366.2,2819 367.6,2851 368.9,2787 370.2,2795 371.6,2763 372.9,2787 374.3,2819 375.6,2819 376.9,2787 378.3,2811 379.6,2843 381,2835 382.3,2803 383.7,2811 385,2835 386.3,2803 387.7,2795 389,2851 390.4,2843 391.7,2811 393,2795 394.4,2803 395.7,2763 397.1,2811 398.4,2835 399.7,2771 401.1,2819 402.4,2811 403.8,2827 405.1,2843 406.5,2803 407.8,2803 409.1,2819 410.5,2843 411.8,2843 413.2,2729 414.5,2763 415.8,2835 417.2,2827 418.5,2771 419.9,2811 421.2,2771 422.5,2779 423.9,2803 425.2,2803 426.6,2795 427.9,2811 429.2,2739 430.6,2779 431.9,2851 433.3,2795 434.6,2779 436,2795 437.3,2803 438.6,2811 440,2755 441.3,2795 442.7,2859 444,2835 445.3,2771 446.7,2835 448,2811 449.4,2859 450.7,2843 452,2795 453.4,2827 454.7,2803 456.1,2827 457.4,2819 458.8,2819 460.1,2835 461.4,2803 462.8,2795 464.1,2803 465.5,2819 466.8,2835 468.1,2867 469.5,2835 470.8,2771 472.2,2827 473.5,2795 474.8,2811 476.2,2835 477.5,2803 478.9,2843 480.2,2859 481.6,2819 482.9,2819 484.2,2795 485.6,2803 486.9,2827 488.3,2739 489.6,2851 490.9,2843 492.3,2819 493.6,2835 495,2819 496.3,2787 497.6,2851 499,2859 500.3,2851 501.7,2835 503,2795 504.4,2803 505.7,2819 507,2787 508.4,2819 509.7,2811 511.1,2787 512.4,2787 513.7,2779 515.1,2803 516.4,2835 517.8,2843 519.1,2795 520.4,2787 521.8,2771 523.1,2851 524.5,2795 525.8,2803 527.1,2843 528.5,2811 529.8,2795 531.2,2803 532.5,2811 533.9,2819 535.2,2851 536.5,2811 537.9,2843 539.2,2811 540.6,2851 541.9,2843 543.2,2827 544.6,2819 545.9,2827 547.3,2787 548.6,2771 549.9,2811 551.3,2835 552.6,2811 554,2819 555.3,2819 556.7,2827 558,2729 559.3,2835 560.7,2795 562,2827 563.4,2795 564.7,2803 566,2827 567.4,2819 568.7,2763 570.1,2827 571.4,2835 572.7,2835 574.1,2827 575.4,2819 576.8,2843 578.1,2827 579.5,2779 580.8,2811 582.1,2827 583.5,2803 584.8,2819 586.2,2755 587.5,2843 588.8,2843 590.2,2827 591.5,2819 592.9,2795 594.2,2795 595.5,2755 596.9,2803 598.2,2771 599.6,2835 600.9,2811 602.3,2827 603.6,2811 604.9,2835 606.3,2843 607.6,2827 609,2843 610.3,2843 611.6,2827 613,2827 614.3,2811 615.7,2827 617,2827 618.3,2819 619.7,2819 621,2851 622.4,2779 623.7,2803 625,2819 626.4,2835 627.7,2795 629.1,2835 630.4,2819 631.8,2835 633.1,2795 634.4,2851 635.8,2851 637.1,2819 638.5,2867 639.8,2859 641.1,2739 642.5,2803 643.8,2803 645.2,2843 646.5,2795 647.8,2835 649.2,2827 650.5,2843 651.9,2811 653.2,2779 654.6,2851 655.9,2787 657.2,2763 658.6,2835 659.9,2787 661.3,2803 662.6,2729 663.9,2827 665.3,2827 666.6,2803 668,2827 669.3,2827 670.6,2827 672,2851 673.3,2867 674.7,2859 676,2851 677.4,2803 678.7,2803 680,2827 681.4,2851 682.7,2795 684.1,2827 685.4,2843 686.7,2859 688.1,2803 689.4,2819 690.8,2779 692.1,2843 693.4,2811 694.8,2803 696.1,2835 697.5,2843 698.8,2859 700.2,2827 701.5,2803 702.8,2835 704.2,2827 705.5,2819 706.9,2843 708.2,2835 709.5,2811 710.9,2835 712.2,2811 713.6,2835 714.9,2827 716.2,2859 717.6,2859 718.9,2787 720.3,2795 721.6,2771 722.9,2827 724.3,2819 725.6,2867 727,2843 728.3,2827 729.7,2795 731,2795 732.3,2771 733.7,2787 735,2827 736.4,2763 737.7,2803 739,2827 740.4,2811 741.7,2819 743.1,2787 744.4,2803 745.7,2795 747.1,2827 748.4,2851 749.8,2819 751.1,2779 752.5,2811 753.8,2835 755.1,2729 756.5,2827 757.8,2731 759.2,2835 760.5,2843 761.8,2729 763.2,2779 764.5,2795 765.9,2811 767.2,2795 768.5,2819 769.9,2827 771.2,2811 772.6,2819 773.9,2827 775.3,2819 776.6,2835 777.9,2763 779.3,2811 780.6,2827 782,2811 783.3,2795 784.6,2803 786,2827 787.3,2835 788.7,2803 790,2835 791.3,2787 792.7,2827 794,2851 795.4,2811 796.7,2811 798.1,2827 799.4,2819 800.7,2843 802.1,2843 803.4,2811 804.8,2843 806.1,2859 807.4,2827 808.8,2827 810.1,2835 811.5,2819 812.8,2787 814.1,2787 815.5,2827 816.8,2843 818.2,2835 819.5,2803 820.8,2843 822.2,2771 823.5,2843 824.9,2827 826.2,2763 827.6,2867 828.9,2787 830.2,2835 831.6,2827 832.9,2795 834.3,2819 835.6,2811 836.9,2811 838.3,2851 839.6,2835 841,2851 842.3,2787 843.6,2835 845,2755 846.3,2851 847.7,2819 849,2867 850.4,2835 851.7,2811 853,2859 854.4,2843 855.7,2859 857.1,2867 858.4,2867 859.7,2803 861.1,2803 862.4,2771 863.8,2851 865.1,2835 866.4,2811 867.8,2771 869.1,2755 870.5,2795 871.8,2843 873.2,2835 874.5,2803 875.8,2819 877.2,2835 878.5,2851 879.9,2827 881.2,2835 882.5,2779 883.9,2851 885.2,2803 886.6,2835 887.9,2859 889.2,2819 890.6,2739 891.9,2819 893.3,2843 894.6,2787 895.9,2851 897.3,2739 898.6,2843 900,2811 901.3,2827 902.7,2763 904,2867 905.3,2795 906.7,2843 908,2739 909.4,2803 910.7,2819 912,2835 913.4,2795 914.7,2803 916.1,2843 917.4,2755 918.7,2803 920.1,2771 921.4,2779 922.8,2811 924.1,2819 925.5,2867 926.8,2827 928.1,2859 929.5,2771 930.8,2827 932.2,2835 933.5,2867 934.8,2803 936.2,2827 937.5,2827 938.9,2835 940.2,2835 941.5,2787 942.9,2859 944.2,2827 945.6,2827 946.9,2819 948.3,2811 949.6,2819 950.9,2827 952.3,2843 953.6,2811 955,2827 956.3,2819 957.6,2827 959,2859 960.3,2851 961.7,2763 963,2803 964.3,2851 965.7,2819 967,2795 968.4,2739 969.7,2827 971.1,2867 972.4,2827 973.7,2787 975.1,2739 976.4,2851 977.8,2843 979.1,2827 980.4,2779 981.8,2819 983.1,2819 984.5,2827 985.8,2827 987.1,2819 988.5,2835 989.8,2795 991.2,2819 992.5,2851 993.8,2827 995.2,2827 996.5,2803 997.9,2771 999.2,2811 1000.6,2771 1001.9,2843 1003.2,2729 1004.6,2819 1005.9,2835 1007.3,2755 1008.6,2811 1009.9,2819 1011.3,2803 1012.6,2835 1014,2787 1015.3,2755 1016.6,2867 1018,2795 1019.3,2729 1020.7,2819 1022,2851 1023.4,2811 1024.7,2819 1026,2779 1027.4,2843 1028.7,2729 1030.1,2843 1031.4,2795 1032.7,2771 1034.1,2843 1035.4,2867 1036.8,2867 1038.1,2843 1039.4,2827 1040.8,2827 1042.1,2827 1043.5,2803 1044.8,2851 1046.2,2827 1047.5,2787 1048.8,2843 1050.2,2867 1051.5,2835 1052.9,2851 1054.2,2819 1055.5,2843 1056.9,2835 1058.2,2859 1059.6,2811 1060.9,2819 1062.2,2851 1063.6,2843 1064.9,2859 1066.3,2811 1067.6,2739 1069,2819 1070.3,2835 1071.6,2795 1073,2859 1074.3,2835 1075.7,2755 1077,2747 1078.3,2811 1079.7,2835 1081,2787 1082.4,2729 1083.7,2819 1085,2803 1086.4,2851 1087.7,2795 1089.1,2779 1090.4,2803 1091.7,2835 1093.1,2819 1094.4,2803 1095.8,2843 1097.1,2819 1098.5,2787 1099.8,2827 1101.1,2835 1102.5,2803 1103.8,2779 1105.2,2827 1106.5,2803 1107.8,2811 1109.2,2827 1110.5,2827 1111.9,2843 1113.2,2827 1114.5,2755 1115.9,2739 1117.2,2851 1118.6,2867 1119.9,2835 1121.3,2867 1122.6,2843 1123.9,2827 1125.3,2811 1126.6,2819 1128,2867 1129.3,2819 1130.6,2843 1132,2811 1133.3,2819 1134.7,2819 1136,2803 1137.3,2819 1138.7,2827 1140,2755 1141.4,2851 1142.7,2835 1144.1,2835 1145.4,2843 1146.7,2835 1148.1,2835 1149.4,2867 1150.8,2803 1152.1,2819 1153.4,2835 1154.8,2803 1156.1,2835 1157.5,2819 1158.8,2843 1160.1,2763 1161.5,2779 1162.8,2771 1164.2,2827 1165.5,2835 1166.9,2819 1168.2,2827 1169.5,2795 1170.9,2827 1172.2,2827 1173.6,2787 1174.9,2803 1176.2,2755 1177.6,2835 1178.9,2819 1180.3,2803 1181.6,2755 1182.9,2835 1184.3,2851 1185.6,2803 1187,2843 1188.3,2787 1189.6,2819 1191,2763 1192.3,2739 1193.7,2835 1195,2835 1196.4,2795 1197.7,2835 1199,2827 1200.4,2731 1201.7,2803 1203.1,2803 1204.4,2811 1205.7,2835 1207.1,2811 1208.4,2819 1209.8,2827 1211.1,2835 1212.4,2835 1213.8,2819 1215.1,2859 1216.5,2827 1217.8,2795 1219.2,2779 1220.5,2827 1221.8,2843 1223.2,2803 1224.5,2843 1225.9,2851 1227.2,2827 1228.5,2811 1229.9,2843 1231.2,2835 1232.6,2795 1233.9,2795 1235.2,2843 1236.6,2811 1237.9,2835 1239.3,2803 1240.6,2819 1242,2859 1243.3,2729 1244.6,2859 1246,2729 1247.3,2811 1248.7,2811 1250,2819 1251.3,2843 1252.7,2835 1254,2747 1255.4,2771 1256.7,2795 1258,2827 1259.4,2739 1260.7,2819 1262.1,2835 1263.4,2819 1264.8,2811 1266.1,2835 1267.4,2803 1268.8,2795 1270.1,2787 1271.5,2851 1272.8,2827 1274.1,2803 1275.5,2843 1276.8,2803 1278.2,2827 1279.5,2811 1280.8,2827 1282.2,2835 1283.5,2835 1284.9,2819 1286.2,2787 1287.5,2835 1288.9,2827 1290.2,2827 1291.6,2747 1292.9,2835 1294.3,2859 1295.6,2851 1296.9,2819 1298.3,2819 1299.6,2843 1301,2811 1302.3,2811 1303.6,2835 1305,2771 1306.3,2843 1307.7,2795 1309,2795 1310.3,2795 1311.7,2859 1313,2795 1314.4,2787 1315.7,2811 1317.1,2835 1318.4,2843 1319.7,2795 1321.1,2787 1322.4,2843 1323.8,2795 1325.1,2811 1326,2846.3 1327.3,2854.6 1338.1,2867 1348.9,2856 1350.1,2842.2 1352.1,2860.1 1353.7,2842.2 1355.4,2860.1 1359.8,2865.6 1363.4,2854.6 1364,2843 1365.3,2819 1366.7,2811 1368,2795 1369.4,2835 1370.7,2803 1372,2827 1373.4,2739 1374.7,2795 1376.1,2827 1377.4,2843 1378.7,2827 1380.1,2835 1381.4,2835 1382.8,2795 1384.1,2835 1385.4,2803 1386.8,2763 1388.1,2851 1389.5,2835 1390.8,2795 1392.2,2827 1393.5,2851 1394.8,2827 1396.2,2835 1397.5,2787 1398.9,2843 1400.2,2835 1401.5,2843 1402.9,2819 1404.2,2747 1405.6,2827 1406.9,2771 1408.2,2843 1409.6,2827 1410.9,2835 1412.3,2843 1413.6,2827 1415,2819 1416.3,2843 1417.6,2803 1419,2803 1420.3,2843 1421.7,2843 1423,2835L1423,2867"/><path id="p18" d="M271,3021L271,3005 272.3,2997 273.7,2997 275,2989 276.4,2981 277.7,2997 279,3013 280.4,2997 281.7,2981 283.1,2997 284.4,2989 285.8,2981 287.1,3005 288.4,2989 289.8,2997 291.1,2997 292.5,2981 293.8,3005 295.1,3021 296.5,2997 297.8,3013 299.2,2981 300.5,3021 301.8,2997 303.2,3013 304.5,3005 305.9,3005 307.2,2965 308.6,3013 309.9,2981 311.2,3005 312.6,2997 313.9,2997 315.3,2981 316.6,2989 317.9,2997 319.3,2949 320.6,2965 322,3021 323.3,2989 324.6,3021 326,2989 327.3,3013 328.7,3021 330,3005 331.3,2989 332.7,2965 334,3005 335.4,3005 336.7,2981 338.1,3005 339.4,2989 340.7,3005 342.1,2997 343.4,3005 344.8,2957 346.1,2981 347.4,2997 348.8,2973 350.1,2981 351.5,3005 352.8,3005 354.1,2989 355.5,3005 356.8,2997 358.2,3005 359.5,3005 360.9,2989 362.2,2973 363.5,2949 364.9,2997 366.2,2989 367.6,2989 368.9,2989 370.2,2981 371.6,2981 372.9,2997 374.3,3005 375.6,2941 376.9,2965 378.3,2997 379.6,2997 381,3005 382.3,2989 383.7,2949 385,2989 386.3,2973 387.7,2997 389,2997 390.4,2997 391.7,2997 393,2997 394.4,3013 395.7,2989 397.1,2989 398.4,2997 399.7,2997 401.1,2997 402.4,2997 403.8,3005 405.1,2989 406.5,2997 407.8,3005 409.1,2989 410.5,2933 411.8,2997 413.2,3005 414.5,3005 415.8,3013 417.2,2965 418.5,2997 419.9,2981 421.2,3013 422.5,2997 423.9,2965 425.2,2981 426.6,2989 427.9,2981 429.2,2997 430.6,2973 431.9,2949 433.3,3013 434.6,2989 436,2981 437.3,2949 438.6,3005 440,3021 441.3,2981 442.7,2973 444,2989 445.3,2997 446.7,2989 448,2957 449.4,2917 450.7,2957 452,2973 453.4,2965 454.7,2989 456.1,2997 457.4,2981 458.8,2981 460.1,2981 461.4,2989 462.8,2989 464.1,2965 465.5,2989 466.8,2989 468.1,2981 469.5,2973 470.8,2973 472.2,2989 473.5,2965 474.8,2981 476.2,3005 477.5,2981 478.9,3005 480.2,2981 481.6,2997 482.9,2989 484.2,2917 485.6,3005 486.9,3005 488.3,2997 489.6,2989 490.9,3005 492.3,3021 493.6,2957 495,2973 496.3,2989 497.6,2997 499,2989 500.3,2981 501.7,2997 503,2997 504.4,2989 505.7,2997 507,2989 508.4,2965 509.7,3005 511.1,3013 512.4,3005 513.7,3013 515.1,2997 516.4,3005 517.8,2981 519.1,3005 520.4,2981 521.8,2989 523.1,2973 524.5,2973 525.8,2981 527.1,3005 528.5,2981 529.8,3005 531.2,2949 532.5,2933 533.9,3021 535.2,2997 536.5,2989 537.9,3021 539.2,2989 540.6,2965 541.9,2965 543.2,2997 544.6,2997 545.9,2957 547.3,2981 548.6,2973 549.9,2965 551.3,2989 552.6,2973 554,2973 555.3,2997 556.7,2997 558,2989 559.3,2997 560.7,2989 562,2997 563.4,2989 564.7,2981 566,2989 567.4,2957 568.7,3013 570.1,2989 571.4,2965 572.7,2981 574.1,3005 575.4,3005 576.8,2981 578.1,2997 579.5,3005 580.8,3013 582.1,2997 583.5,3013 584.8,2989 586.2,2989 587.5,2989 588.8,2989 590.2,3021 591.5,2997 592.9,2997 594.2,2997 595.5,2957 596.9,2989 598.2,2981 599.6,2989 600.9,2989 602.3,2981 603.6,2973 604.9,3021 606.3,3005 607.6,2997 609,2981 610.3,2997 611.6,2973 613,2989 614.3,3005 615.7,2973 617,2965 618.3,2997 619.7,2989 621,2933 622.4,2965 623.7,2997 625,3021 626.4,2997 627.7,2989 629.1,3021 630.4,2989 631.8,2981 633.1,2909 634.4,2973 635.8,2965 637.1,2957 638.5,2965 639.8,2981 641.1,2997 642.5,2997 643.8,2989 645.2,2989 646.5,2981 647.8,3005 649.2,2933 650.5,2997 651.9,2997 653.2,2989 654.6,2989 655.9,3005 657.2,2997 658.6,2933 659.9,2989 661.3,2997 662.6,2989 663.9,2989 665.3,2997 666.6,2949 668,2973 669.3,3005 670.6,2997 672,2997 673.3,2997 674.7,2997 676,2981 677.4,3005 678.7,2989 680,2997 681.4,2957 682.7,2997 684.1,2989 685.4,3013 686.7,2965 688.1,2989 689.4,2965 690.8,2973 692.1,3013 693.4,2989 694.8,2981 696.1,2981 697.5,2997 698.8,2997 700.2,2997 701.5,3005 702.8,2981 704.2,3005 705.5,2997 706.9,2989 708.2,3021 709.5,2997 710.9,2997 712.2,3013 713.6,2989 714.9,2981 716.2,2925 717.6,2989 718.9,2997 720.3,2973 721.6,2989 722.9,2997 724.3,2941 725.6,2997 727,2997 728.3,2965 729.7,2973 731,3013 732.3,3005 733.7,2957 735,3013 736.4,2989 737.7,3013 739,2965 740.4,2973 741.7,2981 743.1,2997 744.4,2997 745.7,3005 747.1,2965 748.4,2949 749.8,2973 751.1,2949 752.5,2981 753.8,2989 755.1,2981 756.5,2989 757.8,2997 759.2,3005 760.5,2997 761.8,2981 763.2,2973 764.5,3013 765.9,2997 767.2,2957 768.5,2989 769.9,3013 771.2,3013 772.6,2989 773.9,3013 775.3,3013 776.6,2981 777.9,2981 779.3,2989 780.6,3005 782,2997 783.3,2973 784.6,2989 786,2997 787.3,2965 788.7,2941 790,3005 791.3,2973 792.7,2949 794,2989 795.4,2989 796.7,2997 798.1,3005 799.4,2989 800.7,2973 802.1,2997 803.4,2973 804.8,2989 806.1,2981 807.4,3005 808.8,2997 810.1,2989 811.5,2989 812.8,2997 814.1,3013 815.5,3013 816.8,2981 818.2,2997 819.5,3005 820.8,2997 822.2,2989 823.5,2981 824.9,3005 826.2,2989 827.6,2997 828.9,3005 830.2,3013 831.6,2989 832.9,2949 834.3,2973 835.6,2997 836.9,3005 838.3,2997 839.6,2997 841,2981 842.3,3021 843.6,2989 845,3013 846.3,2941 847.7,2989 849,2997 850.4,2941 851.7,2997 853,3013 854.4,3005 855.7,2997 857.1,3021 858.4,3005 859.7,3021 861.1,2997 862.4,2997 863.8,2981 865.1,2997 866.4,2989 867.8,2973 869.1,2989 870.5,3005 871.8,2997 873.2,3005 874.5,2941 875.8,2981 877.2,3013 878.5,2989 879.9,2989 881.2,2981 882.5,3013 883.9,3013 885.2,3013 886.6,3013 887.9,2997 889.2,2981 890.6,2997 891.9,2957 893.3,3005 894.6,3005 895.9,2973 897.3,3005 898.6,2941 900,2997 901.3,2957 902.7,2989 904,2981 905.3,2997 906.7,2965 908,2997 909.4,3005 910.7,2997 912,2981 913.4,2989 914.7,3005 916.1,2989 917.4,2989 918.7,2973 920.1,2997 921.4,3013 922.8,3013 924.1,2997 925.5,2989 926.8,3005 928.1,2981 929.5,2981 930.8,2997 932.2,2989 933.5,3005 934.8,3005 936.2,2981 937.5,2997 938.9,3005 940.2,3013 941.5,2981 942.9,3005 944.2,2981 945.6,2997 946.9,2997 948.3,3005 949.6,2989 950.9,3005 952.3,2997 953.6,2981 955,2981 956.3,2949 957.6,2997 959,2965 960.3,2997 961.7,2925 963,2989 964.3,2973 965.7,2965 967,3013 968.4,2965 969.7,2997 971.1,2989 972.4,2981 973.7,2989 975.1,2933 976.4,2989 977.8,2941 979.1,2941 980.4,2997 981.8,2917 983.1,2933 984.5,2989 985.8,2941 987.1,2965 988.5,2997 989.8,3013 991.2,2957 992.5,2957 993.8,2997 995.2,2965 996.5,2981 997.9,2997 999.2,2965 1000.6,3013 1001.9,3005 1003.2,2989 1004.6,2957 1005.9,2989 1007.3,2965 1008.6,2965 1009.9,2917 1011.3,2997 1012.6,3005 1014,2989 1015.3,2997 1016.6,2989 1018,2965 1019.3,2981 1020.7,2925 1022,2885 1023.4,2965 1024.7,2997 1026,2933 1027.4,2957 1028.7,2981 1030.1,3013 1031.4,2989 1032.7,2989 1034.1,2957 1035.4,3005 1036.8,2997 1038.1,2989 1039.4,3013 1040.8,2989 1042.1,2989 1043.5,2981 1044.8,3021 1046.2,2989 1047.5,3005 1048.8,2989 1050.2,2973 1051.5,2989 1052.9,2997 1054.2,2997 1055.5,2973 1056.9,2997 1058.2,2989 1059.6,2965 1060.9,2997 1062.2,2997 1063.6,2973 1064.9,2973 1066.3,2973 1067.6,2941 1069,2989 1070.3,2965 1071.6,3013 1073,3005 1074.3,3013 1075.7,2973 1077,2957 1078.3,2933 1079.7,3005 1081,2941 1082.4,2997 1083.7,2989 1085,3013 1086.4,2973 1087.7,2989 1089.1,2981 1090.4,2997 1091.7,2965 1093.1,2973 1094.4,2989 1095.8,2997 1097.1,2997 1098.5,2989 1099.8,2981 1101.1,2973 1102.5,2989 1103.8,2997 1105.2,2997 1106.5,2997 1107.8,2973 1109.2,3005 1110.5,2997 1111.9,2997 1113.2,2997 1114.5,2981 1115.9,2989 1117.2,2989 1118.6,2981 1119.9,2997 1121.3,2981 1122.6,2997 1123.9,2997 1125.3,2989 1126.6,2957 1128,2997 1129.3,3005 1130.6,2997 1132,2989 1133.3,3005 1134.7,2989 1136,3005 1137.3,2997 1138.7,2981 1140,3013 1141.4,2997 1142.7,2997 1144.1,2973 1145.4,3005 1146.7,2981 1148.1,2981 1149.4,2965 1150.8,2997 1152.1,3005 1153.4,2997 1154.8,3021 1156.1,2973 1157.5,2973 1158.8,2997 1160.1,3013 1161.5,2957 1162.8,2997 1164.2,2997 1165.5,2997 1166.9,3005 1168.2,3013 1169.5,3005 1170.9,3005 1172.2,3013 1173.6,3013 1174.9,2997 1176.2,3021 1177.6,2989 1178.9,2997 1180.3,2949 1181.6,2989 1182.9,3005 1184.3,2989 1185.6,2997 1187,2989 1188.3,2989 1189.6,2981 1191,2989 1192.3,2981 1193.7,3005 1195,2989 1196.4,2989 1197.7,2981 1199,2981 1200.4,2933 1201.7,2925 1203.1,2989 1204.4,2981 1205.7,2981 1207.1,2989 1208.4,2989 1209.8,2997 1211.1,2989 1212.4,2989 1213.8,2981 1215.1,2989 1216.5,3005 1217.8,2949 1219.2,2965 1220.5,2989 1221.8,2981 1223.2,2957 1224.5,2981 1225.9,2981 1227.2,2989 1228.5,2909 1229.9,3005 1231.2,2981 1232.6,2957 1233.9,2957 1235.2,3021 1236.6,3005 1237.9,3005 1239.3,2981 1240.6,2997 1242,2989 1243.3,2989 1244.6,2989 1246,2957 1247.3,2997 1248.7,2965 1250,3013 1251.3,3021 1252.7,3013 1254,2989 1255.4,2997 1256.7,3005 1258,3013 1259.4,3013 1260.7,2965 1262.1,2997 1263.4,3021 1264.8,2981 1266.1,2973 1267.4,2989 1268.8,2997 1270.1,3005 1271.5,2989 1272.8,2981 1274.1,2981 1275.5,2973 1276.8,2989 1278.2,2965 1279.5,2997 1280.8,2973 1282.2,3013 1283.5,2997 1284.9,2989 1286.2,2981 1287.5,2981 1288.9,2989 1290.2,2997 1291.6,3021 1292.9,2965 1294.3,3013 1295.6,2997 1296.9,2989 1298.3,2997 1299.6,2997 1301,2997 1302.3,2997 1303.6,2957 1305,3005 1306.3,2981 1307.7,3021 1309,2997 1310.3,2997 1311.7,3013 1313,2997 1314.4,2989 1315.7,2973 1317.1,2989 1318.4,2981 1319.7,2965 1321.1,2989 1322.4,2981 1323.8,2997 1325.1,2989 1326.4,3005 1327.8,2997 1328.5,3014.1 1329.7,3018.2 1334.5,3005.8 1345.8,3021 1355.4,3010.7 1356.2,3003.1 1357.4,3011.3 1361,3021 1365.1,3012.7 1365.3,2989 1366.7,2949 1368,2989 1369.4,2997 1370.7,2965 1372,3005 1373.4,2981 1374.7,2981 1376.1,2965 1377.4,2997 1378.7,2957 1380.1,2965 1381.4,2957 1382.8,2973 1384.1,2949 1385.4,3021 1386.8,3013 1388.1,2933 1389.5,3013 1390.8,2989 1392.2,2981 1393.5,2989 1394.8,2965 1396.2,2965 1397.5,2925 1398.9,3005 1400.2,2989 1401.5,2989 1402.9,2925 1404.2,2973 1405.6,2957 1406.9,3005 1408.2,3005 1409.6,2997 1410.9,3013 1412.3,2997 1413.6,3005 1415,2989 1416.3,3005 1417.6,3021 1419,2989 1420.3,2981 1421.7,2981 1423,2981L1423,3021"/><path id="p19" d="M271,3175L271,3087 272.3,3111 273.7,3135 275,3127 276.4,3127 277.7,3119 279,3151 280.4,3087 281.7,3079 283.1,3119 284.4,3135 285.8,3103 287.1,3143 288.4,3143 289.8,3087 291.1,3119 292.5,3095 293.8,3135 295.1,3079 296.5,3111 297.8,3087 299.2,3103 300.5,3087 301.8,3063 303.2,3087 304.5,3111 305.9,3111 307.2,3079 308.6,3135 309.9,3079 311.2,3135 312.6,3127 313.9,3087 315.3,3119 316.6,3103 317.9,3103 319.3,3103 320.6,3135 322,3127 323.3,3135 324.6,3103 326,3119 327.3,3111 328.7,3127 330,3119 331.3,3103 332.7,3095 334,3095 335.4,3111 336.7,3135 338.1,3135 339.4,3087 340.7,3111 342.1,3119 343.4,3143 344.8,3143 346.1,3127 347.4,3071 348.8,3103 350.1,3103 351.5,3119 352.8,3119 354.1,3087 355.5,3135 356.8,3127 358.2,3079 359.5,3095 360.9,3127 362.2,3095 363.5,3127 364.9,3127 366.2,3143 367.6,3103 368.9,3111 370.2,3111 371.6,3135 372.9,3119 374.3,3103 375.6,3119 376.9,3143 378.3,3087 379.6,3151 381,3119 382.3,3127 383.7,3143 385,3119 386.3,3119 387.7,3135 389,3111 390.4,3095 391.7,3103 393,3159 394.4,3135 395.7,3111 397.1,3127 398.4,3103 399.7,3103 401.1,3111 402.4,3095 403.8,3119 405.1,3111 406.5,3103 407.8,3095 409.1,3127 410.5,3143 411.8,3135 413.2,3111 414.5,3143 415.8,3087 417.2,3079 418.5,3103 419.9,3111 421.2,3079 422.5,3111 423.9,3111 425.2,3079 426.6,3079 427.9,3071 429.2,3159 430.6,3103 431.9,3111 433.3,3127 434.6,3079 436,3143 437.3,3111 438.6,3127 440,3095 441.3,3087 442.7,3103 444,3103 445.3,3095 446.7,3079 448,3127 449.4,3135 450.7,3119 452,3127 453.4,3111 454.7,3119 456.1,3127 457.4,3079 458.8,3111 460.1,3087 461.4,3103 462.8,3111 464.1,3087 465.5,3111 466.8,3063 468.1,3095 469.5,3167 470.8,3087 472.2,3071 473.5,3119 474.8,3127 476.2,3127 477.5,3119 478.9,3119 480.2,3127 481.6,3143 482.9,3087 484.2,3119 485.6,3127 486.9,3095 488.3,3103 489.6,3111 490.9,3143 492.3,3127 493.6,3127 495,3111 496.3,3111 497.6,3079 499,3119 500.3,3135 501.7,3151 503,3111 504.4,3111 505.7,3119 507,3119 508.4,3119 509.7,3103 511.1,3103 512.4,3151 513.7,3151 515.1,3103 516.4,3111 517.8,3087 519.1,3127 520.4,3119 521.8,3087 523.1,3127 524.5,3111 525.8,3103 527.1,3103 528.5,3111 529.8,3095 531.2,3119 532.5,3087 533.9,3127 535.2,3127 536.5,3079 537.9,3111 539.2,3095 540.6,3111 541.9,3135 543.2,3063 544.6,3119 545.9,3135 547.3,3087 548.6,3135 549.9,3119 551.3,3111 552.6,3135 554,3079 555.3,3095 556.7,3143 558,3103 559.3,3151 560.7,3151 562,3175 563.4,3159 564.7,3143 566,3103 567.4,3143 568.7,3111 570.1,3103 571.4,3103 572.7,3095 574.1,3119 575.4,3127 576.8,3143 578.1,3151 579.5,3103 580.8,3127 582.1,3119 583.5,3135 584.8,3127 586.2,3119 587.5,3103 588.8,3103 590.2,3103 591.5,3127 592.9,3111 594.2,3087 595.5,3087 596.9,3087 598.2,3079 599.6,3135 600.9,3087 602.3,3111 603.6,3127 604.9,3103 606.3,3143 607.6,3103 609,3103 610.3,3087 611.6,3135 613,3135 614.3,3151 615.7,3127 617,3111 618.3,3143 619.7,3119 621,3103 622.4,3071 623.7,3095 625,3127 626.4,3087 627.7,3143 629.1,3095 630.4,3103 631.8,3135 633.1,3127 634.4,3103 635.8,3103 637.1,3087 638.5,3095 639.8,3135 641.1,3079 642.5,3127 643.8,3087 645.2,3111 646.5,3079 647.8,3111 649.2,3119 650.5,3111 651.9,3071 653.2,3143 654.6,3079 655.9,3103 657.2,3119 658.6,3151 659.9,3103 661.3,3095 662.6,3087 663.9,3079 665.3,3119 666.6,3103 668,3087 669.3,3095 670.6,3087 672,3103 673.3,3111 674.7,3127 676,3127 677.4,3103 678.7,3119 680,3143 681.4,3111 682.7,3119 684.1,3087 685.4,3103 686.7,3111 688.1,3111 689.4,3079 690.8,3087 692.1,3087 693.4,3135 694.8,3127 696.1,3135 697.5,3111 698.8,3127 700.2,3135 701.5,3103 702.8,3119 704.2,3095 705.5,3135 706.9,3103 708.2,3151 709.5,3103 710.9,3111 712.2,3103 713.6,3095 714.9,3135 716.2,3079 717.6,3111 718.9,3103 720.3,3103 721.6,3127 722.9,3095 724.3,3167 725.6,3175 727,3127 728.3,3175 729.7,3103 731,3095 732.3,3111 733.7,3111 735,3127 736.4,3167 737.7,3079 739,3127 740.4,3095 741.7,3103 743.1,3151 744.4,3151 745.7,3135 747.1,3095 748.4,3127 749.8,3143 751.1,3119 752.5,3167 753.8,3127 755.1,3119 756.5,3119 757.8,3143 759.2,3159 760.5,3087 761.8,3119 763.2,3127 764.5,3119 765.9,3127 767.2,3111 768.5,3111 769.9,3103 771.2,3119 772.6,3111 773.9,3103 775.3,3087 776.6,3111 777.9,3079 779.3,3119 780.6,3111 782,3095 783.3,3127 784.6,3151 786,3103 787.3,3119 788.7,3127 790,3095 791.3,3119 792.7,3135 794,3151 795.4,3119 796.7,3119 798.1,3127 799.4,3095 800.7,3135 802.1,3103 803.4,3135 804.8,3143 806.1,3103 807.4,3079 808.8,3103 810.1,3127 811.5,3111 812.8,3127 814.1,3159 815.5,3143 816.8,3079 818.2,3087 819.5,3143 820.8,3151 822.2,3151 823.5,3135 824.9,3103 826.2,3135 827.6,3175 828.9,3095 830.2,3111 831.6,3111 832.9,3111 834.3,3175 835.6,3159 836.9,3127 838.3,3151 839.6,3143 841,3103 842.3,3119 843.6,3127 845,3159 846.3,3127 847.7,3143 849,3079 850.4,3095 851.7,3127 853,3167 854.4,3127 855.7,3119 857.1,3127 858.4,3143 859.7,3119 861.1,3095 862.4,3119 863.8,3119 865.1,3119 866.4,3135 867.8,3095 869.1,3095 870.5,3127 871.8,3095 873.2,3103 874.5,3127 875.8,3143 877.2,3103 878.5,3119 879.9,3143 881.2,3087 882.5,3079 883.9,3103 885.2,3095 886.6,3135 887.9,3103 889.2,3103 890.6,3111 891.9,3127 893.3,3159 894.6,3079 895.9,3079 897.3,3103 898.6,3087 900,3111 901.3,3151 902.7,3151 904,3159 905.3,3167 906.7,3135 908,3119 909.4,3135 910.7,3143 912,3103 913.4,3135 914.7,3119 916.1,3127 917.4,3111 918.7,3079 920.1,3127 921.4,3103 922.8,3103 924.1,3119 925.5,3087 926.8,3159 928.1,3127 929.5,3071 930.8,3135 932.2,3103 933.5,3127 934.8,3119 936.2,3167 937.5,3111 938.9,3135 940.2,3111 941.5,3111 942.9,3103 944.2,3159 945.6,3111 946.9,3087 948.3,3135 949.6,3095 950.9,3127 952.3,3143 953.6,3079 955,3111 956.3,3135 957.6,3151 959,3135 960.3,3143 961.7,3127 963,3151 964.3,3087 965.7,3127 967,3135 968.4,3143 969.7,3175 971.1,3111 972.4,3143 973.7,3135 975.1,3087 976.4,3079 977.8,3127 979.1,3127 980.4,3111 981.8,3079 983.1,3119 984.5,3135 985.8,3127 987.1,3135 988.5,3143 989.8,3111 991.2,3111 992.5,3111 993.8,3095 995.2,3119 996.5,3143 997.9,3103 999.2,3127 1000.6,3071 1001.9,3111 1003.2,3087 1004.6,3111 1005.9,3079 1007.3,3111 1008.6,3095 1009.9,3119 1011.3,3087 1012.6,3119 1014,3119 1015.3,3127 1016.6,3087 1018,3127 1019.3,3111 1020.7,3119 1022,3111 1023.4,3151 1024.7,3127 1026,3135 1027.4,3167 1028.7,3143 1030.1,3159 1031.4,3143 1032.7,3135 1034.1,3103 1035.4,3135 1036.8,3119 1038.1,3087 1039.4,3127 1040.8,3095 1042.1,3111 1043.5,3127 1044.8,3111 1046.2,3087 1047.5,3127 1048.8,3119 1050.2,3119 1051.5,3103 1052.9,3063 1054.2,3087 1055.5,3127 1056.9,3095 1058.2,3095 1059.6,3135 1060.9,3103 1062.2,3103 1063.6,3127 1064.9,3119 1066.3,3119 1067.6,3143 1069,3087 1070.3,3087 1071.6,3087 1073,3111 1074.3,3071 1075.7,3095 1077,3095 1078.3,3119 1079.7,3159 1081,3119 1082.4,3119 1083.7,3095 1085,3103 1086.4,3095 1087.7,3111 1089.1,3079 1090.4,3119 1091.7,3103 1093.1,3127 1094.4,3127 1095.8,3151 1097.1,3127 1098.5,3143 1099.8,3119 1101.1,3135 1102.5,3127 1103.8,3135 1105.2,3135 1106.5,3095 1107.8,3087 1109.2,3111 1110.5,3111 1111.9,3135 1113.2,3103 1114.5,3087 1115.9,3151 1117.2,3143 1118.6,3119 1119.9,3143 1121.3,3079 1122.6,3111 1123.9,3119 1125.3,3143 1126.6,3095 1128,3087 1129.3,3071 1130.6,3143 1132,3095 1133.3,3103 1134.7,3103 1136,3111 1137.3,3127 1138.7,3135 1140,3135 1141.4,3071 1142.7,3111 1144.1,3135 1145.4,3103 1146.7,3095 1148.1,3119 1149.4,3095 1150.8,3071 1152.1,3135 1153.4,3135 1154.8,3095 1156.1,3087 1157.5,3095 1158.8,3095 1160.1,3135 1161.5,3127 1162.8,3079 1164.2,3103 1165.5,3087 1166.9,3151 1168.2,3135 1169.5,3095 1170.9,3135 1172.2,3135 1173.6,3127 1174.9,3087 1176.2,3103 1177.6,3111 1178.9,3079 1180.3,3119 1181.6,3127 1182.9,3127 1184.3,3127 1185.6,3095 1187,3095 1188.3,3079 1189.6,3151 1191,3111 1192.3,3167 1193.7,3119 1195,3143 1196.4,3143 1197.7,3119 1199,3143 1200.4,3079 1201.7,3119 1203.1,3135 1204.4,3151 1205.7,3103 1207.1,3103 1208.4,3111 1209.8,3135 1211.1,3103 1212.4,3135 1213.8,3103 1215.1,3127 1216.5,3119 1217.8,3087 1219.2,3135 1220.5,3119 1221.8,3087 1223.2,3119 1224.5,3095 1225.9,3087 1227.2,3119 1228.5,3079 1229.9,3111 1231.2,3119 1232.6,3119 1233.9,3111 1235.2,3111 1236.6,3127 1237.9,3143 1239.3,3111 1240.6,3103 1242,3119 1243.3,3103 1244.6,3095 1246,3079 1247.3,3111 1248.7,3103 1250,3119 1251.3,3079 1252.7,3079 1254,3103 1255.4,3127 1256.7,3119 1258,3111 1259.4,3135 1260.7,3079 1262.1,3111 1263.4,3079 1264.8,3095 1266.1,3127 1267.4,3127 1268.8,3135 1270.1,3087 1271.5,3127 1272.8,3119 1274.1,3119 1275.5,3127 1276.8,3103 1278.2,3103 1279.5,3119 1280.8,3127 1282.2,3103 1283.5,3103 1284.9,3119 1286.2,3095 1287.5,3119 1288.9,3095 1290.2,3111 1291.6,3095 1292.9,3119 1294.3,3079 1295.6,3111 1296.9,3119 1298.3,3111 1299.6,3119 1301,3135 1302.3,3159 1303.6,3111 1305,3119 1306.3,3119 1307.7,3127 1309,3119 1310.3,3143 1311.7,3111 1313,3159 1314.4,3103 1315.7,3095 1317.1,3063 1318.4,3119 1319.7,3103 1321.1,3095 1322.4,3079 1323.8,3079 1325.1,3119 1326.4,3103 1326.5,3119.8 1329,3166.7 1331.4,3175 1334.5,3170.9 1337,3170.9 1341.2,3175 1346.5,3172.2 1349.7,3129.5 1352,3174.3 1355,3137.7 1358,3162.6 1361,3175 1363.4,3170.9 1365,3140.5 1368.2,3101.9 1369.4,3103 1370.7,3119 1372,3071 1373.4,3103 1374.7,3103 1376.1,3087 1377.4,3119 1378.7,3151 1380.1,3079 1381.4,3087 1382.8,3119 1384.1,3103 1385.4,3143 1386.8,3079 1388.1,3127 1389.5,3103 1390.8,3087 1392.2,3151 1393.5,3119 1394.8,3151 1396.2,3143 1397.5,3111 1398.9,3127 1400.2,3127 1401.5,3079 1402.9,3095 1404.2,3095 1405.6,3079 1406.9,3079 1408.2,3095 1409.6,3087 1410.9,3087 1412.3,3087 1413.6,3143 1415,3135 1416.3,3079 1417.6,3071 1419,3095 1420.3,3127 1421.7,3103 1423,3079L1423,3175"/><path id="p20" d="M271,3329L271,3297 272.3,3313 273.7,3305 275,3273 276.4,3313 277.7,3257 279,3305 280.4,3321 281.7,3305 283.1,3313 284.4,3289 285.8,3297 287.1,3305 288.4,3289 289.8,3273 291.1,3241 292.5,3297 293.8,3297 295.1,3321 296.5,3313 297.8,3297 299.2,3305 300.5,3305 301.8,3329 303.2,3305 304.5,3305 305.9,3321 307.2,3281 308.6,3313 309.9,3305 311.2,3313 312.6,3241 313.9,3265 315.3,3305 316.6,3289 317.9,3305 319.3,3321 320.6,3305 322,3305 323.3,3297 324.6,3313 326,3281 327.3,3321 328.7,3313 330,3289 331.3,3297 332.7,3321 334,3321 335.4,3321 336.7,3329 338.1,3329 339.4,3329 340.7,3321 342.1,3329 343.4,3313 344.8,3273 346.1,3321 347.4,3305 348.8,3297 350.1,3329 351.5,3313 352.8,3289 354.1,3305 355.5,3313 356.8,3297 358.2,3305 359.5,3313 360.9,3289 362.2,3297 363.5,3305 364.9,3305 366.2,3289 367.6,3297 368.9,3321 370.2,3305 371.6,3273 372.9,3305 374.3,3321 375.6,3265 376.9,3305 378.3,3329 379.6,3313 381,3297 382.3,3313 383.7,3305 385,3289 386.3,3313 387.7,3305 389,3305 390.4,3289 391.7,3305 393,3289 394.4,3305 395.7,3297 397.1,3313 398.4,3249 399.7,3305 401.1,3297 402.4,3305 403.8,3313 405.1,3313 406.5,3305 407.8,3281 409.1,3321 410.5,3289 411.8,3281 413.2,3281 414.5,3313 415.8,3321 417.2,3313 418.5,3321 419.9,3313 421.2,3305 422.5,3289 423.9,3297 425.2,3313 426.6,3257 427.9,3305 429.2,3297 430.6,3281 431.9,3313 433.3,3305 434.6,3297 436,3281 437.3,3305 438.6,3305 440,3313 441.3,3305 442.7,3313 444,3305 445.3,3289 446.7,3289 448,3281 449.4,3273 450.7,3313 452,3297 453.4,3329 454.7,3313 456.1,3297 457.4,3313 458.8,3313 460.1,3313 461.4,3305 462.8,3305 464.1,3305 465.5,3321 466.8,3313 468.1,3281 469.5,3281 470.8,3305 472.2,3273 473.5,3305 474.8,3281 476.2,3297 477.5,3273 478.9,3313 480.2,3297 481.6,3297 482.9,3289 484.2,3297 485.6,3297 486.9,3273 488.3,3297 489.6,3313 490.9,3305 492.3,3273 493.6,3305 495,3297 496.3,3289 497.6,3329 499,3297 500.3,3313 501.7,3297 503,3305 504.4,3329 505.7,3297 507,3257 508.4,3313 509.7,3297 511.1,3297 512.4,3305 513.7,3281 515.1,3313 516.4,3297 517.8,3297 519.1,3297 520.4,3321 521.8,3289 523.1,3321 524.5,3313 525.8,3289 527.1,3297 528.5,3297 529.8,3289 531.2,3321 532.5,3313 533.9,3273 535.2,3305 536.5,3297 537.9,3297 539.2,3321 540.6,3305 541.9,3305 543.2,3289 544.6,3305 545.9,3313 547.3,3289 548.6,3321 549.9,3313 551.3,3305 552.6,3257 554,3297 555.3,3305 556.7,3313 558,3305 559.3,3297 560.7,3281 562,3273 563.4,3305 564.7,3289 566,3313 567.4,3297 568.7,3297 570.1,3297 571.4,3289 572.7,3249 574.1,3201 575.4,3281 576.8,3297 578.1,3313 579.5,3289 580.8,3289 582.1,3329 583.5,3297 584.8,3313 586.2,3305 587.5,3265 588.8,3305 590.2,3313 591.5,3305 592.9,3305 594.2,3321 595.5,3289 596.9,3289 598.2,3313 599.6,3305 600.9,3313 602.3,3297 603.6,3313 604.9,3313 606.3,3281 607.6,3305 609,3305 610.3,3305 611.6,3313 613,3281 614.3,3305 615.7,3313 617,3305 618.3,3297 619.7,3305 621,3273 622.4,3313 623.7,3305 625,3321 626.4,3321 627.7,3297 629.1,3313 630.4,3289 631.8,3281 633.1,3305 634.4,3313 635.8,3321 637.1,3321 638.5,3289 639.8,3313 641.1,3281 642.5,3321 643.8,3321 645.2,3321 646.5,3257 647.8,3265 649.2,3321 650.5,3305 651.9,3297 653.2,3305 654.6,3281 655.9,3305 657.2,3297 658.6,3305 659.9,3305 661.3,3281 662.6,3297 663.9,3321 665.3,3305 666.6,3289 668,3305 669.3,3305 670.6,3297 672,3281 673.3,3305 674.7,3305 676,3313 677.4,3305 678.7,3313 680,3297 681.4,3305 682.7,3273 684.1,3305 685.4,3329 686.7,3297 688.1,3313 689.4,3313 690.8,3321 692.1,3321 693.4,3265 694.8,3321 696.1,3313 697.5,3289 698.8,3305 700.2,3297 701.5,3281 702.8,3289 704.2,3297 705.5,3257 706.9,3193 708.2,3273 709.5,3329 710.9,3305 712.2,3313 713.6,3297 714.9,3297 716.2,3273 717.6,3313 718.9,3313 720.3,3305 721.6,3329 722.9,3281 724.3,3305 725.6,3265 727,3297 728.3,3281 729.7,3289 731,3297 732.3,3305 733.7,3321 735,3313 736.4,3329 737.7,3313 739,3305 740.4,3265 741.7,3297 743.1,3297 744.4,3297 745.7,3305 747.1,3313 748.4,3305 749.8,3313 751.1,3297 752.5,3305 753.8,3321 755.1,3305 756.5,3321 757.8,3305 759.2,3313 760.5,3297 761.8,3297 763.2,3321 764.5,3305 765.9,3305 767.2,3305 768.5,3281 769.9,3305 771.2,3305 772.6,3273 773.9,3281 775.3,3281 776.6,3297 777.9,3313 779.3,3329 780.6,3313 782,3305 783.3,3305 784.6,3305 786,3305 787.3,3305 788.7,3329 790,3289 791.3,3297 792.7,3265 794,3297 795.4,3265 796.7,3313 798.1,3233 799.4,3313 800.7,3305 802.1,3297 803.4,3281 804.8,3289 806.1,3313 807.4,3297 808.8,3289 810.1,3273 811.5,3297 812.8,3297 814.1,3297 815.5,3289 816.8,3273 818.2,3297 819.5,3289 820.8,3313 822.2,3313 823.5,3321 824.9,3305 826.2,3305 827.6,3297 828.9,3265 830.2,3313 831.6,3281 832.9,3297 834.3,3289 835.6,3313 836.9,3313 838.3,3305 839.6,3297 841,3289 842.3,3297 843.6,3297 845,3313 846.3,3297 847.7,3297 849,3281 850.4,3313 851.7,3273 853,3201 854.4,3265 855.7,3281 857.1,3297 858.4,3297 859.7,3313 861.1,3281 862.4,3241 863.8,3305 865.1,3305 866.4,3313 867.8,3305 869.1,3281 870.5,3257 871.8,3249 873.2,3265 874.5,3233 875.8,3233 877.2,3249 878.5,3273 879.9,3265 881.2,3273 882.5,3281 883.9,3305 885.2,3257 886.6,3297 887.9,3297 889.2,3297 890.6,3329 891.9,3321 893.3,3321 894.6,3313 895.9,3297 897.3,3313 898.6,3305 900,3297 901.3,3313 902.7,3329 904,3321 905.3,3273 906.7,3305 908,3313 909.4,3297 910.7,3297 912,3289 913.4,3289 914.7,3297 916.1,3273 917.4,3313 918.7,3313 920.1,3305 921.4,3313 922.8,3305 924.1,3329 925.5,3305 926.8,3273 928.1,3297 929.5,3297 930.8,3305 932.2,3289 933.5,3305 934.8,3305 936.2,3305 937.5,3321 938.9,3305 940.2,3313 941.5,3313 942.9,3297 944.2,3305 945.6,3297 946.9,3305 948.3,3281 949.6,3289 950.9,3321 952.3,3313 953.6,3297 955,3233 956.3,3297 957.6,3297 959,3297 960.3,3281 961.7,3281 963,3305 964.3,3297 965.7,3297 967,3313 968.4,3273 969.7,3297 971.1,3265 972.4,3289 973.7,3281 975.1,3305 976.4,3313 977.8,3321 979.1,3297 980.4,3313 981.8,3273 983.1,3297 984.5,3329 985.8,3321 987.1,3281 988.5,3313 989.8,3321 991.2,3265 992.5,3289 993.8,3313 995.2,3313 996.5,3321 997.9,3265 999.2,3297 1000.6,3321 1001.9,3297 1003.2,3305 1004.6,3297 1005.9,3305 1007.3,3321 1008.6,3305 1009.9,3289 1011.3,3289 1012.6,3329 1014,3305 1015.3,3313 1016.6,3305 1018,3289 1019.3,3305 1020.7,3297 1022,3313 1023.4,3305 1024.7,3297 1026,3297 1027.4,3273 1028.7,3313 1030.1,3329 1031.4,3257 1032.7,3305 1034.1,3297 1035.4,3265 1036.8,3297 1038.1,3265 1039.4,3321 1040.8,3297 1042.1,3305 1043.5,3329 1044.8,3297 1046.2,3305 1047.5,3289 1048.8,3281 1050.2,3265 1051.5,3273 1052.9,3289 1054.2,3313 1055.5,3281 1056.9,3289 1058.2,3321 1059.6,3321 1060.9,3313 1062.2,3297 1063.6,3297 1064.9,3305 1066.3,3273 1067.6,3305 1069,3289 1070.3,3289 1071.6,3329 1073,3329 1074.3,3329 1075.7,3313 1077,3289 1078.3,3281 1079.7,3305 1081,3305 1082.4,3265 1083.7,3313 1085,3305 1086.4,3297 1087.7,3281 1089.1,3289 1090.4,3321 1091.7,3305 1093.1,3313 1094.4,3321 1095.8,3305 1097.1,3313 1098.5,3313 1099.8,3289 1101.1,3289 1102.5,3321 1103.8,3305 1105.2,3297 1106.5,3305 1107.8,3305 1109.2,3297 1110.5,3305 1111.9,3297 1113.2,3313 1114.5,3297 1115.9,3313 1117.2,3281 1118.6,3305 1119.9,3297 1121.3,3297 1122.6,3297 1123.9,3297 1125.3,3297 1126.6,3273 1128,3297 1129.3,3305 1130.6,3305 1132,3281 1133.3,3289 1134.7,3281 1136,3297 1137.3,3257 1138.7,3297 1140,3289 1141.4,3249 1142.7,3297 1144.1,3305 1145.4,3313 1146.7,3297 1148.1,3265 1149.4,3289 1150.8,3289 1152.1,3297 1153.4,3305 1154.8,3289 1156.1,3305 1157.5,3289 1158.8,3289 1160.1,3313 1161.5,3305 1162.8,3305 1164.2,3273 1165.5,3297 1166.9,3297 1168.2,3265 1169.5,3289 1170.9,3305 1172.2,3313 1173.6,3313 1174.9,3289 1176.2,3297 1177.6,3321 1178.9,3321 1180.3,3281 1181.6,3281 1182.9,3313 1184.3,3297 1185.6,3321 1187,3313 1188.3,3305 1189.6,3305 1191,3305 1192.3,3297 1193.7,3305 1195,3305 1196.4,3305 1197.7,3305 1199,3265 1200.4,3297 1201.7,3289 1203.1,3249 1204.4,3289 1205.7,3281 1207.1,3313 1208.4,3273 1209.8,3265 1211.1,3297 1212.4,3305 1213.8,3297 1215.1,3329 1216.5,3313 1217.8,3305 1219.2,3321 1220.5,3321 1221.8,3305 1223.2,3281 1224.5,3305 1225.9,3297 1227.2,3305 1228.5,3297 1229.9,3321 1231.2,3297 1232.6,3329 1233.9,3305 1235.2,3329 1236.6,3321 1237.9,3305 1239.3,3321 1240.6,3297 1242,3305 1243.3,3289 1244.6,3321 1246,3313 1247.3,3289 1248.7,3313 1250,3305 1251.3,3305 1252.7,3297 1254,3297 1255.4,3305 1256.7,3265 1258,3297 1259.4,3297 1260.7,3313 1262.1,3281 1263.4,3289 1264.8,3297 1266.1,3281 1267.4,3305 1268.8,3241 1270.1,3297 1271.5,3329 1272.8,3305 1274.1,3297 1275.5,3289 1276.8,3305 1278.2,3305 1279.5,3249 1280.8,3321 1282.2,3265 1283.5,3321 1284.9,3313 1286.2,3313 1287.5,3329 1288.9,3313 1290.2,3297 1291.6,3281 1292.9,3281 1294.3,3289 1295.6,3297 1296.9,3313 1298.3,3289 1299.6,3305 1301,3313 1302.3,3289 1303.6,3297 1305,3297 1306.3,3305 1307.7,3329 1309,3313 1310.3,3257 1311.7,3321 1313,3313 1314.4,3297 1315.7,3289 1317.1,3297 1318.4,3265 1319.7,3321 1321.1,3305 1322.4,3313 1323.8,3313 1325.1,3329 1326.1,3313.8 1328.5,3313.8 1347.3,3329 1367.5,3283.5 1368.2,3221.4 1369.4,3283.5 1370.7,3313 1372,3281 1373.4,3305 1374.7,3257 1376.1,3281 1377.4,3273 1378.7,3297 1380.1,3321 1381.4,3305 1382.8,3313 1384.1,3305 1385.4,3305 1386.8,3321 1388.1,3289 1389.5,3321 1390.8,3265 1392.2,3321 1393.5,3321 1394.8,3305 1396.2,3313 1397.5,3313 1398.9,3313 1400.2,3281 1401.5,3297 1402.9,3297 1404.2,3289 1405.6,3257 1406.9,3289 1408.2,3249 1409.6,3289 1410.9,3305 1412.3,3281 1413.6,3321 1415,3273 1416.3,3297 1417.6,3313 1419,3289 1420.3,3321 1421.7,3297 1423,3297L1423,3329"/><path id="p21" d="M271,3483L271,3419 272.3,3435 273.7,3443 275,3459 276.4,3379 277.7,3443 279,3467 280.4,3387 281.7,3427 283.1,3451 284.4,3459 285.8,3395 287.1,3451 288.4,3435 289.8,3435 291.1,3443 292.5,3451 293.8,3467 295.1,3467 296.5,3459 297.8,3443 299.2,3467 300.5,3451 301.8,3467 303.2,3435 304.5,3467 305.9,3443 307.2,3435 308.6,3443 309.9,3467 311.2,3387 312.6,3451 313.9,3427 315.3,3427 316.6,3451 317.9,3435 319.3,3435 320.6,3443 322,3427 323.3,3427 324.6,3443 326,3411 327.3,3435 328.7,3419 330,3451 331.3,3435 332.7,3483 334,3435 335.4,3443 336.7,3459 338.1,3419 339.4,3411 340.7,3427 342.1,3427 343.4,3427 344.8,3435 346.1,3419 347.4,3451 348.8,3411 350.1,3427 351.5,3395 352.8,3443 354.1,3403 355.5,3435 356.8,3411 358.2,3419 359.5,3411 360.9,3419 362.2,3459 363.5,3427 364.9,3419 366.2,3419 367.6,3451 368.9,3467 370.2,3467 371.6,3395 372.9,3435 374.3,3403 375.6,3435 376.9,3395 378.3,3443 379.6,3427 381,3395 382.3,3419 383.7,3435 385,3403 386.3,3451 387.7,3443 389,3435 390.4,3427 391.7,3427 393,3419 394.4,3467 395.7,3387 397.1,3443 398.4,3419 399.7,3395 401.1,3443 402.4,3411 403.8,3403 405.1,3395 406.5,3427 407.8,3403 409.1,3435 410.5,3371 411.8,3443 413.2,3379 414.5,3371 415.8,3403 417.2,3435 418.5,3395 419.9,3387 421.2,3387 422.5,3443 423.9,3395 425.2,3451 426.6,3395 427.9,3427 429.2,3443 430.6,3395 431.9,3483 433.3,3451 434.6,3419 436,3371 437.3,3459 438.6,3427 440,3443 441.3,3427 442.7,3435 444,3483 445.3,3435 446.7,3459 448,3451 449.4,3435 450.7,3427 452,3403 453.4,3411 454.7,3427 456.1,3387 457.4,3411 458.8,3419 460.1,3411 461.4,3435 462.8,3411 464.1,3427 465.5,3427 466.8,3427 468.1,3379 469.5,3419 470.8,3419 472.2,3451 473.5,3427 474.8,3395 476.2,3403 477.5,3459 478.9,3419 480.2,3371 481.6,3483 482.9,3451 484.2,3427 485.6,3411 486.9,3419 488.3,3411 489.6,3443 490.9,3427 492.3,3451 493.6,3395 495,3459 496.3,3459 497.6,3411 499,3379 500.3,3435 501.7,3411 503,3411 504.4,3443 505.7,3411 507,3435 508.4,3443 509.7,3435 511.1,3451 512.4,3443 513.7,3467 515.1,3403 516.4,3435 517.8,3411 519.1,3451 520.4,3427 521.8,3459 523.1,3387 524.5,3427 525.8,3451 527.1,3451 528.5,3427 529.8,3467 531.2,3427 532.5,3427 533.9,3459 535.2,3427 536.5,3419 537.9,3427 539.2,3443 540.6,3419 541.9,3451 543.2,3451 544.6,3435 545.9,3427 547.3,3459 548.6,3427 549.9,3483 551.3,3443 552.6,3459 554,3435 555.3,3387 556.7,3427 558,3451 559.3,3427 560.7,3475 562,3451 563.4,3427 564.7,3467 566,3427 567.4,3435 568.7,3435 570.1,3435 571.4,3467 572.7,3451 574.1,3451 575.4,3443 576.8,3435 578.1,3419 579.5,3435 580.8,3435 582.1,3419 583.5,3443 584.8,3419 586.2,3467 587.5,3435 588.8,3411 590.2,3459 591.5,3443 592.9,3451 594.2,3451 595.5,3363 596.9,3419 598.2,3483 599.6,3435 600.9,3435 602.3,3419 603.6,3427 604.9,3459 606.3,3427 607.6,3443 609,3387 610.3,3459 611.6,3451 613,3475 614.3,3475 615.7,3419 617,3403 618.3,3443 619.7,3443 621,3435 622.4,3427 623.7,3379 625,3451 626.4,3419 627.7,3387 629.1,3451 630.4,3451 631.8,3443 633.1,3427 634.4,3443 635.8,3459 637.1,3475 638.5,3435 639.8,3435 641.1,3467 642.5,3459 643.8,3387 645.2,3387 646.5,3427 647.8,3427 649.2,3427 650.5,3411 651.9,3451 653.2,3435 654.6,3459 655.9,3443 657.2,3435 658.6,3427 659.9,3443 661.3,3451 662.6,3435 663.9,3443 665.3,3419 666.6,3395 668,3403 669.3,3419 670.6,3443 672,3451 673.3,3435 674.7,3459 676,3411 677.4,3419 678.7,3427 680,3443 681.4,3411 682.7,3443 684.1,3459 685.4,3467 686.7,3451 688.1,3475 689.4,3427 690.8,3435 692.1,3427 693.4,3443 694.8,3435 696.1,3411 697.5,3435 698.8,3443 700.2,3435 701.5,3371 702.8,3419 704.2,3419 705.5,3435 706.9,3435 708.2,3387 709.5,3403 710.9,3451 712.2,3395 713.6,3387 714.9,3419 716.2,3411 717.6,3435 718.9,3427 720.3,3435 721.6,3459 722.9,3395 724.3,3403 725.6,3419 727,3443 728.3,3435 729.7,3435 731,3467 732.3,3395 733.7,3411 735,3371 736.4,3371 737.7,3403 739,3419 740.4,3411 741.7,3467 743.1,3443 744.4,3403 745.7,3419 747.1,3435 748.4,3427 749.8,3419 751.1,3451 752.5,3451 753.8,3411 755.1,3427 756.5,3467 757.8,3451 759.2,3419 760.5,3371 761.8,3403 763.2,3403 764.5,3443 765.9,3379 767.2,3387 768.5,3427 769.9,3403 771.2,3411 772.6,3403 773.9,3403 775.3,3475 776.6,3483 777.9,3435 779.3,3403 780.6,3459 782,3459 783.3,3395 784.6,3451 786,3459 787.3,3427 788.7,3451 790,3427 791.3,3427 792.7,3419 794,3403 795.4,3451 796.7,3475 798.1,3459 799.4,3411 800.7,3435 802.1,3435 803.4,3427 804.8,3443 806.1,3411 807.4,3483 808.8,3427 810.1,3427 811.5,3371 812.8,3435 814.1,3475 815.5,3467 816.8,3467 818.2,3443 819.5,3483 820.8,3403 822.2,3435 823.5,3443 824.9,3419 826.2,3403 827.6,3443 828.9,3443 830.2,3451 831.6,3427 832.9,3443 834.3,3395 835.6,3419 836.9,3483 838.3,3387 839.6,3443 841,3483 842.3,3451 843.6,3427 845,3459 846.3,3427 847.7,3395 849,3403 850.4,3435 851.7,3451 853,3483 854.4,3451 855.7,3443 857.1,3435 858.4,3451 859.7,3443 861.1,3459 862.4,3427 863.8,3459 865.1,3427 866.4,3443 867.8,3427 869.1,3387 870.5,3419 871.8,3435 873.2,3427 874.5,3427 875.8,3427 877.2,3419 878.5,3435 879.9,3451 881.2,3419 882.5,3387 883.9,3467 885.2,3419 886.6,3435 887.9,3403 889.2,3411 890.6,3427 891.9,3435 893.3,3443 894.6,3451 895.9,3443 897.3,3443 898.6,3403 900,3459 901.3,3419 902.7,3459 904,3475 905.3,3475 906.7,3467 908,3467 909.4,3419 910.7,3451 912,3427 913.4,3419 914.7,3483 916.1,3451 917.4,3419 918.7,3419 920.1,3387 921.4,3403 922.8,3435 924.1,3411 925.5,3459 926.8,3443 928.1,3443 929.5,3427 930.8,3371 932.2,3451 933.5,3467 934.8,3387 936.2,3387 937.5,3419 938.9,3395 940.2,3403 941.5,3467 942.9,3483 944.2,3427 945.6,3427 946.9,3483 948.3,3419 949.6,3467 950.9,3435 952.3,3419 953.6,3443 955,3451 956.3,3411 957.6,3427 959,3419 960.3,3427 961.7,3411 963,3411 964.3,3395 965.7,3483 967,3427 968.4,3475 969.7,3435 971.1,3451 972.4,3459 973.7,3443 975.1,3443 976.4,3435 977.8,3395 979.1,3451 980.4,3459 981.8,3443 983.1,3435 984.5,3451 985.8,3451 987.1,3387 988.5,3395 989.8,3435 991.2,3443 992.5,3467 993.8,3443 995.2,3403 996.5,3451 997.9,3379 999.2,3435 1000.6,3403 1001.9,3435 1003.2,3411 1004.6,3411 1005.9,3459 1007.3,3443 1008.6,3411 1009.9,3443 1011.3,3443 1012.6,3459 1014,3459 1015.3,3427 1016.6,3443 1018,3443 1019.3,3443 1020.7,3451 1022,3427 1023.4,3427 1024.7,3443 1026,3443 1027.4,3451 1028.7,3443 1030.1,3387 1031.4,3451 1032.7,3411 1034.1,3427 1035.4,3435 1036.8,3475 1038.1,3459 1039.4,3443 1040.8,3403 1042.1,3427 1043.5,3403 1044.8,3459 1046.2,3435 1047.5,3403 1048.8,3451 1050.2,3467 1051.5,3403 1052.9,3403 1054.2,3419 1055.5,3419 1056.9,3443 1058.2,3419 1059.6,3435 1060.9,3443 1062.2,3459 1063.6,3435 1064.9,3435 1066.3,3459 1067.6,3435 1069,3435 1070.3,3419 1071.6,3475 1073,3443 1074.3,3387 1075.7,3443 1077,3427 1078.3,3403 1079.7,3443 1081,3395 1082.4,3451 1083.7,3435 1085,3443 1086.4,3435 1087.7,3427 1089.1,3443 1090.4,3435 1091.7,3435 1093.1,3363 1094.4,3443 1095.8,3427 1097.1,3387 1098.5,3403 1099.8,3411 1101.1,3371 1102.5,3411 1103.8,3459 1105.2,3379 1106.5,3443 1107.8,3435 1109.2,3459 1110.5,3459 1111.9,3443 1113.2,3435 1114.5,3443 1115.9,3475 1117.2,3475 1118.6,3435 1119.9,3411 1121.3,3435 1122.6,3467 1123.9,3427 1125.3,3483 1126.6,3451 1128,3427 1129.3,3427 1130.6,3443 1132,3411 1133.3,3443 1134.7,3467 1136,3379 1137.3,3435 1138.7,3403 1140,3411 1141.4,3451 1142.7,3443 1144.1,3443 1145.4,3443 1146.7,3427 1148.1,3411 1149.4,3435 1150.8,3483 1152.1,3459 1153.4,3443 1154.8,3419 1156.1,3443 1157.5,3411 1158.8,3435 1160.1,3419 1161.5,3387 1162.8,3395 1164.2,3411 1165.5,3451 1166.9,3419 1168.2,3443 1169.5,3403 1170.9,3419 1172.2,3419 1173.6,3443 1174.9,3395 1176.2,3435 1177.6,3451 1178.9,3443 1180.3,3483 1181.6,3419 1182.9,3459 1184.3,3459 1185.6,3443 1187,3467 1188.3,3435 1189.6,3451 1191,3435 1192.3,3435 1193.7,3403 1195,3467 1196.4,3451 1197.7,3435 1199,3419 1200.4,3411 1201.7,3403 1203.1,3355 1204.4,3379 1205.7,3443 1207.1,3467 1208.4,3451 1209.8,3419 1211.1,3427 1212.4,3419 1213.8,3403 1215.1,3371 1216.5,3443 1217.8,3419 1219.2,3427 1220.5,3435 1221.8,3443 1223.2,3419 1224.5,3451 1225.9,3459 1227.2,3451 1228.5,3475 1229.9,3467 1231.2,3467 1232.6,3467 1233.9,3483 1235.2,3451 1236.6,3443 1237.9,3475 1239.3,3467 1240.6,3435 1242,3451 1243.3,3443 1244.6,3427 1246,3451 1247.3,3443 1248.7,3427 1250,3451 1251.3,3451 1252.7,3459 1254,3419 1255.4,3435 1256.7,3427 1258,3435 1259.4,3435 1260.7,3451 1262.1,3443 1263.4,3459 1264.8,3403 1266.1,3427 1267.4,3427 1268.8,3427 1270.1,3443 1271.5,3419 1272.8,3451 1274.1,3435 1275.5,3427 1276.8,3467 1278.2,3451 1279.5,3379 1280.8,3395 1282.2,3451 1283.5,3387 1284.9,3443 1286.2,3483 1287.5,3459 1288.9,3435 1290.2,3451 1291.6,3427 1292.9,3467 1294.3,3427 1295.6,3427 1296.9,3387 1298.3,3419 1299.6,3435 1301,3483 1302.3,3483 1303.6,3467 1305,3467 1306.3,3379 1307.7,3475 1309,3395 1310.3,3443 1311.7,3475 1313,3419 1314.4,3411 1315.7,3483 1317.1,3403 1318.4,3467 1319.7,3443 1321.1,3387 1322.4,3435 1323.8,3427 1325.1,3411 1326.4,3443 1326.5,3448.5 1328.5,3473.3 1331.4,3483 1335.7,3465.1 1338.1,3477.5 1342.4,3483 1348.9,3465.1 1350.1,3465.1 1353,3481.6 1356.2,3474.7 1358,3480.2 1359.8,3474.7 1361.7,3480.2 1363.4,3480.2 1366.5,3445.7 1366.7,3419 1368,3443 1369.4,3403 1370.7,3419 1372,3443 1373.4,3475 1374.7,3459 1376.1,3387 1377.4,3451 1378.7,3387 1380.1,3443 1381.4,3451 1382.8,3403 1384.1,3435 1385.4,3419 1386.8,3427 1388.1,3411 1389.5,3371 1390.8,3411 1392.2,3467 1393.5,3411 1394.8,3443 1396.2,3459 1397.5,3411 1398.9,3419 1400.2,3459 1401.5,3451 1402.9,3419 1404.2,3395 1405.6,3435 1406.9,3419 1408.2,3443 1409.6,3443 1410.9,3467 1412.3,3435 1413.6,3419 1415,3435 1416.3,3483 1417.6,3379 1419,3467 1420.3,3435 1421.7,3443 1423,3451L1423,3483"/><path id="p22" d="M271,3637L271,3621 272.3,3605 273.7,3589 275,3613 276.4,3605 277.7,3605 279,3629 280.4,3621 281.7,3613 283.1,3597 284.4,3637 285.8,3621 287.1,3605 288.4,3605 289.8,3629 291.1,3613 292.5,3605 293.8,3621 295.1,3621 296.5,3613 297.8,3613 299.2,3597 300.5,3613 301.8,3613 303.2,3589 304.5,3629 305.9,3613 307.2,3605 308.6,3597 309.9,3613 311.2,3613 312.6,3629 313.9,3605 315.3,3613 316.6,3573 317.9,3621 319.3,3581 320.6,3613 322,3621 323.3,3621 324.6,3605 326,3565 327.3,3589 328.7,3613 330,3629 331.3,3605 332.7,3605 334,3637 335.4,3621 336.7,3613 338.1,3621 339.4,3629 340.7,3557 342.1,3621 343.4,3613 344.8,3613 346.1,3613 347.4,3621 348.8,3637 350.1,3621 351.5,3549 352.8,3629 354.1,3589 355.5,3605 356.8,3605 358.2,3629 359.5,3629 360.9,3605 362.2,3589 363.5,3589 364.9,3605 366.2,3605 367.6,3613 368.9,3605 370.2,3589 371.6,3605 372.9,3581 374.3,3621 375.6,3613 376.9,3621 378.3,3597 379.6,3557 381,3613 382.3,3613 383.7,3589 385,3589 386.3,3621 387.7,3637 389,3605 390.4,3613 391.7,3613 393,3605 394.4,3573 395.7,3597 397.1,3605 398.4,3621 399.7,3597 401.1,3613 402.4,3597 403.8,3597 405.1,3605 406.5,3605 407.8,3621 409.1,3525 410.5,3549 411.8,3525 413.2,3621 414.5,3605 415.8,3589 417.2,3613 418.5,3629 419.9,3621 421.2,3589 422.5,3605 423.9,3613 425.2,3621 426.6,3581 427.9,3565 429.2,3597 430.6,3589 431.9,3589 433.3,3605 434.6,3605 436,3589 437.3,3597 438.6,3605 440,3605 441.3,3597 442.7,3613 444,3549 445.3,3613 446.7,3605 448,3605 449.4,3621 450.7,3597 452,3589 453.4,3605 454.7,3605 456.1,3589 457.4,3533 458.8,3565 460.1,3605 461.4,3589 462.8,3605 464.1,3597 465.5,3629 466.8,3589 468.1,3597 469.5,3605 470.8,3605 472.2,3549 473.5,3613 474.8,3581 476.2,3557 477.5,3613 478.9,3621 480.2,3597 481.6,3637 482.9,3637 484.2,3573 485.6,3621 486.9,3621 488.3,3573 489.6,3621 490.9,3621 492.3,3629 493.6,3629 495,3629 496.3,3621 497.6,3621 499,3589 500.3,3581 501.7,3597 503,3605 504.4,3605 505.7,3573 507,3613 508.4,3597 509.7,3605 511.1,3621 512.4,3589 513.7,3589 515.1,3581 516.4,3549 517.8,3605 519.1,3605 520.4,3589 521.8,3605 523.1,3613 524.5,3581 525.8,3589 527.1,3597 528.5,3613 529.8,3597 531.2,3581 532.5,3597 533.9,3597 535.2,3605 536.5,3589 537.9,3613 539.2,3597 540.6,3613 541.9,3621 543.2,3581 544.6,3589 545.9,3605 547.3,3637 548.6,3589 549.9,3613 551.3,3637 552.6,3589 554,3613 555.3,3605 556.7,3621 558,3573 559.3,3629 560.7,3613 562,3621 563.4,3621 564.7,3605 566,3557 567.4,3605 568.7,3629 570.1,3589 571.4,3621 572.7,3605 574.1,3589 575.4,3613 576.8,3613 578.1,3597 579.5,3613 580.8,3629 582.1,3581 583.5,3613 584.8,3613 586.2,3597 587.5,3613 588.8,3581 590.2,3629 591.5,3581 592.9,3621 594.2,3605 595.5,3629 596.9,3613 598.2,3613 599.6,3629 600.9,3589 602.3,3629 603.6,3621 604.9,3637 606.3,3613 607.6,3605 609,3621 610.3,3613 611.6,3629 613,3605 614.3,3605 615.7,3613 617,3629 618.3,3565 619.7,3541 621,3621 622.4,3613 623.7,3597 625,3613 626.4,3613 627.7,3605 629.1,3629 630.4,3581 631.8,3581 633.1,3605 634.4,3613 635.8,3621 637.1,3589 638.5,3637 639.8,3637 641.1,3613 642.5,3581 643.8,3613 645.2,3621 646.5,3613 647.8,3597 649.2,3621 650.5,3549 651.9,3621 653.2,3597 654.6,3541 655.9,3573 657.2,3605 658.6,3629 659.9,3621 661.3,3597 662.6,3589 663.9,3629 665.3,3613 666.6,3581 668,3605 669.3,3613 670.6,3613 672,3629 673.3,3597 674.7,3605 676,3573 677.4,3501 678.7,3589 680,3573 681.4,3589 682.7,3605 684.1,3605 685.4,3629 686.7,3621 688.1,3621 689.4,3613 690.8,3597 692.1,3589 693.4,3605 694.8,3629 696.1,3613 697.5,3605 698.8,3621 700.2,3613 701.5,3613 702.8,3597 704.2,3605 705.5,3629 706.9,3605 708.2,3605 709.5,3613 710.9,3629 712.2,3605 713.6,3581 714.9,3613 716.2,3589 717.6,3613 718.9,3621 720.3,3629 721.6,3621 722.9,3605 724.3,3589 725.6,3581 727,3613 728.3,3597 729.7,3605 731,3605 732.3,3581 733.7,3629 735,3605 736.4,3605 737.7,3573 739,3605 740.4,3573 741.7,3613 743.1,3621 744.4,3613 745.7,3605 747.1,3613 748.4,3613 749.8,3621 751.1,3605 752.5,3621 753.8,3613 755.1,3613 756.5,3613 757.8,3621 759.2,3613 760.5,3613 761.8,3613 763.2,3613 764.5,3597 765.9,3605 767.2,3613 768.5,3621 769.9,3613 771.2,3621 772.6,3605 773.9,3597 775.3,3605 776.6,3581 777.9,3605 779.3,3597 780.6,3637 782,3621 783.3,3637 784.6,3605 786,3621 787.3,3605 788.7,3605 790,3605 791.3,3613 792.7,3605 794,3637 795.4,3621 796.7,3597 798.1,3597 799.4,3621 800.7,3613 802.1,3597 803.4,3605 804.8,3629 806.1,3597 807.4,3589 808.8,3565 810.1,3597 811.5,3597 812.8,3589 814.1,3597 815.5,3629 816.8,3605 818.2,3613 819.5,3597 820.8,3565 822.2,3573 823.5,3613 824.9,3589 826.2,3589 827.6,3621 828.9,3589 830.2,3581 831.6,3613 832.9,3637 834.3,3605 835.6,3621 836.9,3557 838.3,3597 839.6,3597 841,3589 842.3,3613 843.6,3637 845,3629 846.3,3637 847.7,3589 849,3613 850.4,3605 851.7,3629 853,3629 854.4,3589 855.7,3605 857.1,3621 858.4,3629 859.7,3597 861.1,3637 862.4,3541 863.8,3565 865.1,3597 866.4,3613 867.8,3605 869.1,3621 870.5,3613 871.8,3597 873.2,3621 874.5,3629 875.8,3629 877.2,3605 878.5,3613 879.9,3629 881.2,3573 882.5,3629 883.9,3589 885.2,3613 886.6,3597 887.9,3605 889.2,3597 890.6,3613 891.9,3629 893.3,3597 894.6,3597 895.9,3613 897.3,3597 898.6,3605 900,3613 901.3,3613 902.7,3605 904,3613 905.3,3621 906.7,3621 908,3597 909.4,3629 910.7,3589 912,3581 913.4,3597 914.7,3597 916.1,3589 917.4,3613 918.7,3613 920.1,3613 921.4,3605 922.8,3613 924.1,3613 925.5,3621 926.8,3613 928.1,3581 929.5,3605 930.8,3605 932.2,3637 933.5,3613 934.8,3613 936.2,3605 937.5,3597 938.9,3613 940.2,3557 941.5,3629 942.9,3613 944.2,3621 945.6,3637 946.9,3621 948.3,3581 949.6,3597 950.9,3589 952.3,3589 953.6,3605 955,3565 956.3,3629 957.6,3541 959,3621 960.3,3605 961.7,3597 963,3573 964.3,3613 965.7,3621 967,3597 968.4,3581 969.7,3613 971.1,3621 972.4,3605 973.7,3581 975.1,3613 976.4,3589 977.8,3605 979.1,3621 980.4,3581 981.8,3621 983.1,3613 984.5,3605 985.8,3589 987.1,3629 988.5,3613 989.8,3605 991.2,3629 992.5,3629 993.8,3589 995.2,3581 996.5,3581 997.9,3597 999.2,3589 1000.6,3629 1001.9,3597 1003.2,3597 1004.6,3597 1005.9,3637 1007.3,3605 1008.6,3597 1009.9,3621 1011.3,3629 1012.6,3621 1014,3597 1015.3,3613 1016.6,3629 1018,3605 1019.3,3605 1020.7,3597 1022,3629 1023.4,3621 1024.7,3605 1026,3629 1027.4,3621 1028.7,3581 1030.1,3621 1031.4,3629 1032.7,3621 1034.1,3613 1035.4,3589 1036.8,3597 1038.1,3613 1039.4,3621 1040.8,3621 1042.1,3613 1043.5,3565 1044.8,3621 1046.2,3597 1047.5,3597 1048.8,3613 1050.2,3597 1051.5,3637 1052.9,3613 1054.2,3629 1055.5,3597 1056.9,3605 1058.2,3621 1059.6,3597 1060.9,3613 1062.2,3629 1063.6,3613 1064.9,3613 1066.3,3597 1067.6,3613 1069,3621 1070.3,3605 1071.6,3629 1073,3581 1074.3,3597 1075.7,3605 1077,3589 1078.3,3613 1079.7,3605 1081,3605 1082.4,3565 1083.7,3637 1085,3621 1086.4,3573 1087.7,3597 1089.1,3621 1090.4,3621 1091.7,3597 1093.1,3589 1094.4,3605 1095.8,3605 1097.1,3605 1098.5,3605 1099.8,3597 1101.1,3605 1102.5,3621 1103.8,3605 1105.2,3597 1106.5,3613 1107.8,3629 1109.2,3581 1110.5,3597 1111.9,3613 1113.2,3629 1114.5,3621 1115.9,3605 1117.2,3605 1118.6,3621 1119.9,3605 1121.3,3597 1122.6,3621 1123.9,3573 1125.3,3613 1126.6,3613 1128,3621 1129.3,3637 1130.6,3597 1132,3573 1133.3,3605 1134.7,3637 1136,3597 1137.3,3597 1138.7,3613 1140,3573 1141.4,3613 1142.7,3613 1144.1,3621 1145.4,3605 1146.7,3613 1148.1,3613 1149.4,3629 1150.8,3613 1152.1,3621 1153.4,3621 1154.8,3637 1156.1,3589 1157.5,3597 1158.8,3613 1160.1,3605 1161.5,3613 1162.8,3605 1164.2,3597 1165.5,3613 1166.9,3605 1168.2,3613 1169.5,3605 1170.9,3613 1172.2,3629 1173.6,3613 1174.9,3605 1176.2,3597 1177.6,3597 1178.9,3613 1180.3,3589 1181.6,3589 1182.9,3597 1184.3,3589 1185.6,3597 1187,3597 1188.3,3597 1189.6,3613 1191,3581 1192.3,3597 1193.7,3629 1195,3613 1196.4,3613 1197.7,3597 1199,3573 1200.4,3613 1201.7,3533 1203.1,3613 1204.4,3565 1205.7,3613 1207.1,3589 1208.4,3613 1209.8,3573 1211.1,3597 1212.4,3613 1213.8,3621 1215.1,3613 1216.5,3629 1217.8,3549 1219.2,3621 1220.5,3549 1221.8,3637 1223.2,3621 1224.5,3629 1225.9,3629 1227.2,3621 1228.5,3613 1229.9,3605 1231.2,3605 1232.6,3605 1233.9,3621 1235.2,3621 1236.6,3597 1237.9,3621 1239.3,3613 1240.6,3613 1242,3629 1243.3,3589 1244.6,3605 1246,3597 1247.3,3629 1248.7,3573 1250,3613 1251.3,3629 1252.7,3605 1254,3621 1255.4,3589 1256.7,3605 1258,3597 1259.4,3605 1260.7,3541 1262.1,3589 1263.4,3621 1264.8,3589 1266.1,3605 1267.4,3589 1268.8,3605 1270.1,3621 1271.5,3557 1272.8,3613 1274.1,3613 1275.5,3621 1276.8,3573 1278.2,3621 1279.5,3597 1280.8,3613 1282.2,3597 1283.5,3613 1284.9,3629 1286.2,3605 1287.5,3613 1288.9,3597 1290.2,3613 1291.6,3605 1292.9,3605 1294.3,3573 1295.6,3589 1296.9,3597 1298.3,3565 1299.6,3605 1301,3597 1302.3,3589 1303.6,3597 1305,3573 1306.3,3605 1307.7,3605 1309,3597 1310.3,3589 1311.7,3605 1313,3621 1314.4,3629 1315.7,3589 1317.1,3629 1318.4,3629 1319.7,3605 1321.1,3613 1322.4,3613 1323.8,3621 1325.1,3637 1326,3620.4 1327.3,3627.3 1338.1,3637 1348.9,3627.3 1350.1,3599.7 1353,3631.5 1357.4,3614.9 1360.2,3634.2 1362.2,3631.5 1364,3626 1365.3,3597 1366.7,3581 1368,3629 1369.4,3597 1370.7,3629 1372,3605 1373.4,3597 1374.7,3605 1376.1,3637 1377.4,3613 1378.7,3621 1380.1,3613 1381.4,3605 1382.8,3613 1384.1,3613 1385.4,3581 1386.8,3621 1388.1,3565 1389.5,3605 1390.8,3597 1392.2,3581 1393.5,3613 1394.8,3597 1396.2,3605 1397.5,3581 1398.9,3613 1400.2,3597 1401.5,3605 1402.9,3605 1404.2,3621 1405.6,3597 1406.9,3597 1408.2,3613 1409.6,3613 1410.9,3637 1412.3,3621 1413.6,3613 1415,3605 1416.3,3589 1417.6,3573 1419,3637 1420.3,3605 1421.7,3597 1423,3613L1423,3637"/></defs><text x="73.6" y="185.6" class="lb">GSM5550318</text><use href="#p0" class="pf"/><use href="#p0" class="pl" clip-path="url(#cs)"/><path d="M259 110.5H271.5M271 110.5V249.2M259 249.2H271.5" class="ax"/><text x="252" y="113.1" class="tk">5</text><text x="252" y="252.4" class="tk">0</text><text x="73.6" y="339.6" class="lb">GSM5550317</text><use href="#p1" class="pf"/><use href="#p1" class="pl" clip-path="url(#cs)"/><path d="M259 264.5H271.5M271 264.5V403.2M259 403.2H271.5" class="ax"/><text x="252" y="267.1" class="tk">5</text><text x="252" y="406.4" class="tk">0</text><text x="73.6" y="493.6" class="lb">GSM5550316</text><use href="#p2" class="pf"/><use href="#p2" class="pl" clip-path="url(#cs)"/><path d="M259 418.5H271.5M271 418.5V557.2M259 557.2H271.5" class="ax"/><text x="252" y="421.1" class="tk">5</text><text x="252" y="560.4" class="tk">0</text><text x="73.6" y="647.6" class="lb">GSM5550315</text><use href="#p3" class="pf"/><use href="#p3" class="pl" clip-path="url(#cs)"/><path d="M259 572.5H271.5M271 572.5V711.2M259 711.2H271.5" class="ax"/><text x="252" y="575.1" class="tk">5</text><text x="252" y="714.4" class="tk">0</text><text x="73.6" y="801.6" class="lb">GSM5550314</text><use href="#p4" class="pf"/><use href="#p4" class="pl" clip-path="url(#cs)"/><path d="M259 726.5H271.5M271 726.5V865.2M259 865.2H271.5" class="ax"/><text x="252" y="729.1" class="tk">42</text><text x="252" y="868.4" class="tk">0</text><text x="73.6" y="955.6" class="lb">GSM5550313</text><use href="#p5" class="pf"/><use href="#p5" class="pl" clip-path="url(#cs)"/><path d="M259 880.5H271.5M271 880.5V1019.2M259 1019.2H271.5" class="ax"/><text x="252" y="883.1" class="tk">37</text><text x="252" y="1022.4" class="tk">0</text><text x="73.6" y="1109.6" class="lb">GSM5550311</text><use href="#p6" class="pf"/><use href="#p6" class="pl" clip-path="url(#cs)"/><path d="M259 1034.5H271.5M271 1034.5V1173.2M259 1173.2H271.5" class="ax"/><text x="252" y="1037.1" class="tk">37</text><text x="252" y="1176.4" class="tk">0</text><text x="73.6" y="1263.6" class="lb">GSM5550310</text><use href="#p7" class="pf"/><use href="#p7" class="pl" clip-path="url(#cs)"/><path d="M259 1188.5H271.5M271 1188.5V1327.2M259 1327.2H271.5" class="ax"/><text x="252" y="1191.1" class="tk">40</text><text x="252" y="1330.4" class="tk">0</text><text x="73.6" y="1417.6" class="lb">GSM5550309</text><use href="#p8" class="pf"/><use href="#p8" class="pl" clip-path="url(#cs)"/><path d="M259 1342.5H271.5M271 1342.5V1481.2M259 1481.2H271.5" class="ax"/><text x="252" y="1345.1" class="tk">34</text><text x="252" y="1484.4" class="tk">0</text><text x="73.6" y="1571.6" class="lb">GSM5550308</text><use href="#p9" class="pf"/><use href="#p9" class="pl" clip-path="url(#cs)"/><path d="M259 1496.5H271.5M271 1496.5V1635.2M259 1635.2H271.5" class="ax"/><text x="252" y="1499.1" class="tk">51</text><text x="252" y="1638.4" class="tk">0</text><text x="73.6" y="1725.6" class="lb">GSM5550307</text><use href="#p10" class="pf"/><use href="#p10" class="pl" clip-path="url(#cs)"/><path d="M259 1650.5H271.5M271 1650.5V1789.2M259 1789.2H271.5" class="ax"/><text x="252" y="1653.1" class="tk">22</text><text x="252" y="1792.4" class="tk">0</text><text x="73.6" y="1879.6" class="lb">GSM5550306</text><use href="#p11" class="pf"/><use href="#p11" class="pl" clip-path="url(#cs)"/><path d="M259 1804.5H271.5M271 1804.5V1943.2M259 1943.2H271.5" class="ax"/><text x="252" y="1807.1" class="tk">9</text><text x="252" y="1946.4" class="tk">0</text><text x="73.6" y="2033.6" class="lb">GSM5550305</text><use href="#p12" class="pf"/><use href="#p12" class="pl" clip-path="url(#cs)"/><path d="M259 1958.5H271.5M271 1958.5V2097.2M259 2097.2H271.5" class="ax"/><text x="252" y="1961.1" class="tk">9</text><text x="252" y="2100.4" class="tk">0</text><text x="73.6" y="2187.6" class="lb">GSM5550304</text><use href="#p13" class="pf"/><use href="#p13" class="pl" clip-path="url(#cs)"/><path d="M259 2112.5H271.5M271 2112.5V2251.2M259 2251.2H271.5" class="ax"/><text x="252" y="2115.1" class="tk">8</text><text x="252" y="2254.4" class="tk">0</text><text x="73.6" y="2341.6" class="lb">GSM5550303</text><use href="#p14" class="pf"/><use href="#p14" class="pl" clip-path="url(#cs)"/><path d="M259 2266.5H271.5M271 2266.5V2405.2M259 2405.2H271.5" class="ax"/><text x="252" y="2269.1" class="tk">8</text><text x="252" y="2408.4" class="tk">0</text><text x="73.6" y="2495.6" class="lb">GSM5550302</text><use href="#p15" class="pf"/><use href="#p15" class="pl" clip-path="url(#cs)"/><path d="M259 2420.5H271.5M271 2420.5V2559.2M259 2559.2H271.5" class="ax"/><text x="252" y="2423.1" class="tk">10</text><text x="252" y="2562.4" class="tk">0</text><text x="73.6" y="2649.6" class="lb">GSM5550301</text><use href="#p16" class="pf"/><use href="#p16" class="pl" clip-path="url(#cs)"/><path d="M259 2574.5H271.5M271 2574.5V2713.2M259 2713.2H271.5" class="ax"/><text x="252" y="2577.1" class="tk">8</text><text x="252" y="2716.4" class="tk">0</text><text x="73.6" y="2803.6" class="lb">GSM5550300</text><use href="#p17" class="pf"/><use href="#p17" class="pl" clip-path="url(#cs)"/><path d="M259 2728.5H271.5M271 2728.5V2867.2M259 2867.2H271.5" class="ax"/><text x="252" y="2731.1" class="tk">7</text><text x="252" y="2870.4" class="tk">0</text><text x="73.6" y="2957.6" class="lb">GSM5550299</text><use href="#p18" class="pf"/><use href="#p18" class="pl" clip-path="url(#cs)"/><path d="M259 2882.5H271.5M271 2882.5V3021.2M259 3021.2H271.5" class="ax"/><text x="252" y="2885.1" class="tk">11</text><text x="252" y="3024.4" class="tk">0</text><text x="73.6" y="3111.6" class="lb">GSM5550298</text><use href="#p19" class="pf"/><use href="#p19" class="pl" clip-path="url(#cs)"/><path d="M259 3036.5H271.5M271 3036.5V3175.2M259 3175.2H271.5" class="ax"/><text x="252" y="3039.1" class="tk">7</text><text x="252" y="3178.4" class="tk">0</text><text x="73.6" y="3265.6" class="lb">GSM5550297</text><use href="#p20" class="pf"/><use href="#p20" class="pl" clip-path="url(#cs)"/><path d="M259 3190.5H271.5M271 3190.5V3329.2M259 3329.2H271.5" class="ax"/><text x="252" y="3193.1" class="tk">14</text><text x="252" y="3332.4" class="tk">0</text><text x="73.6" y="3419.6" class="lb">GSM5550296</text><use href="#p21" class="pf"/><use href="#p21" class="pl" clip-path="url(#cs)"/><path d="M259 3344.5H271.5M271 3344.5V3483.2M259 3483.2H271.5" class="ax"/><text x="252" y="3347.1" class="tk">5</text><text x="252" y="3486.4" class="tk">0</text><text x="73.6" y="3573.6" class="lb">GSM5550295</text><use href="#p22" class="pf"/><use href="#p22" class="pl" clip-path="url(#cs)"/><path d="M259 3498.5H271.5M271 3498.5V3637.2M259 3637.2H271.5" class="ax"/><text x="252" y="3501.1" class="tk">10</text><text x="252" y="3640.4" class="tk">0</text><text x="0" y="3745.8" class="gn" transform="translate(746.3 0) scale(0.962 1)">BBOX1-AS1</text><path d="M271 3799.2H1326" stroke="#7a7a7a" stroke-width="1.2" fill="none"/><path d="M291.1 3789.6L281.6 3799.2L291.1 3808.6M309.0 3789.6L299.5 3799.2L309.0 3808.6M345.8 3789.6L336.3 3799.2L345.8 3808.6M382.6 3789.6L373.1 3799.2L382.6 3808.6M419.4 3789.6L409.9 3799.2L419.4 3808.6M456.2 3789.6L446.7 3799.2L456.2 3808.6M493.0 3789.6L483.5 3799.2L493.0 3808.6M529.8 3789.6L520.3 3799.2L529.8 3808.6M566.6 3789.6L557.1 3799.2L566.6 3808.6M603.4 3789.6L593.9 3799.2L603.4 3808.6M640.2 3789.6L630.7 3799.2L640.2 3808.6M677.0 3789.6L667.5 3799.2L677.0 3808.6M713.8 3789.6L704.3 3799.2L713.8 3808.6M750.6 3789.6L741.1 3799.2L750.6 3808.6M787.4 3789.6L777.9 3799.2L787.4 3808.6M824.2 3789.6L814.7 3799.2L824.2 3808.6M861.0 3789.6L851.5 3799.2L861.0 3808.6M888.7 3789.6L879.2 3799.2L888.7 3808.6M925.8 3789.6L916.2 3799.2L925.8 3808.6M962.8 3789.6L953.3 3799.2L962.8 3808.6M999.9 3789.6L990.4 3799.2L999.9 3808.6M1036.9 3789.6L1027.4 3799.2L1036.9 3808.6M1074.0 3789.6L1064.5 3799.2L1074.0 3808.6M1111.0 3789.6L1101.5 3799.2L1111.0 3808.6M1148.0 3789.6L1138.5 3799.2L1148.0 3808.6M1185.1 3789.6L1175.6 3799.2L1185.1 3808.6M1222.2 3789.6L1212.7 3799.2L1222.2 3808.6M1259.2 3789.6L1249.7 3799.2L1259.2 3808.6M1296.2 3789.6L1286.8 3799.2L1296.2 3808.6" stroke="#333" stroke-width="1.1" fill="none"/><rect x="273.15" y="3775.7" width="1.7" height="46.8" fill="#444"/><rect x="296.80" y="3775.7" width="2.2" height="46.8" fill="#000"/><rect x="864.70" y="3775.7" width="1.6" height="46.8" fill="#000"/><rect x="1308.60" y="3775.7" width="3.2" height="46.8" fill="#000"/><rect x="1318.85" y="3775.7" width="1.5" height="46.8" fill="#000"/><rect x="1326.00" y="3775.7" width="3.4" height="46.8" fill="#000"/><text x="75" y="3946.6" class="chr">chr11</text><rect x="1194" y="3901.5" width="229.5" height="56" fill="#808080"/><path d="M271 3901.5H1423.5M271 3957.5H1423.5M1193.7 3901V3986.6" stroke="#474747" stroke-width="1" fill="none"/><path d="M388.1 3957.5V3986.6" stroke="#474747" stroke-width="1"/><path d="M522.4 3957.5V3986.6" stroke="#474747" stroke-width="1"/><path d="M656.7 3957.5V3986.6" stroke="#474747" stroke-width="1"/><path d="M791.0 3957.5V3986.6" stroke="#474747" stroke-width="1"/><path d="M925.3 3957.5V3986.6" stroke="#474747" stroke-width="1"/><path d="M1059.6 3957.5V3986.6" stroke="#474747" stroke-width="1"/><path d="M1328.2 3957.5V3986.6" stroke="#474747" stroke-width="1"/><path d="M522.4 3986.6V4030" stroke="#333" stroke-width="1"/><path d="M1193.9 3986.6V4030" stroke="#999" stroke-width="1"/><text x="522.8" y="4046.6" class="mb">27.1Mb</text><text x="1194.2" y="4046.6" class="mb">27.2Mb</text></svg></body></html>
